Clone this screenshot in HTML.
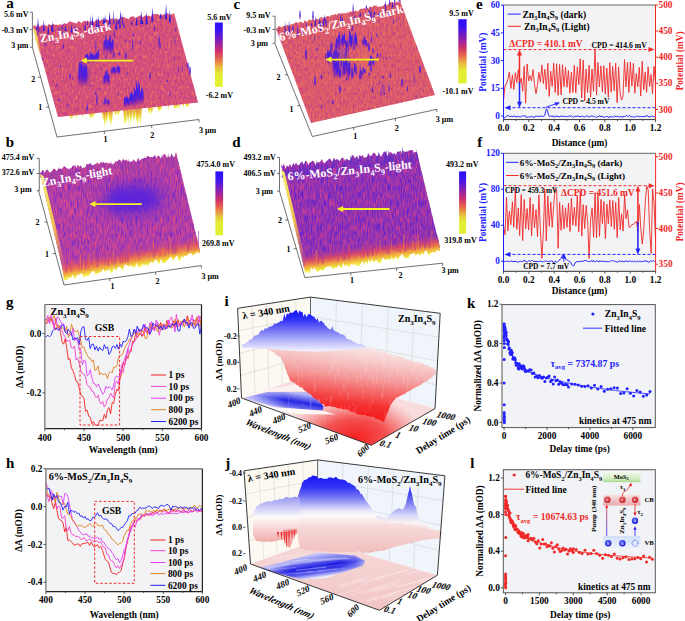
<!DOCTYPE html><html><head><meta charset="utf-8"><style>html,body{margin:0;padding:0;background:#fff;}svg{display:block;}</style></head><body>
<svg width="685" height="621" viewBox="0 0 685 621">
<defs>
<linearGradient id="cbar" x1="0" y1="0" x2="0" y2="1">
<stop offset="0" stop-color="#2a10ff"/><stop offset="0.12" stop-color="#3a14f0"/>
<stop offset="0.3" stop-color="#8a20b0"/><stop offset="0.45" stop-color="#d0306a"/>
<stop offset="0.58" stop-color="#e8704a"/><stop offset="0.7" stop-color="#e8c040"/>
<stop offset="0.8" stop-color="#e4ec34"/><stop offset="1" stop-color="#e0f030"/>
</linearGradient>
<linearGradient id="spikeB" x1="0" y1="0" x2="0" y2="1">
<stop offset="0" stop-color="#2a18ff"/><stop offset="0.6" stop-color="#5a20d0"/><stop offset="1" stop-color="#c03080" stop-opacity="0"/>
</linearGradient>
<linearGradient id="spikeY" x1="0" y1="0" x2="0" y2="1">
<stop offset="0" stop-color="#e06050" stop-opacity="0.6"/><stop offset="0.35" stop-color="#eab040"/><stop offset="0.7" stop-color="#e8e830"/><stop offset="1" stop-color="#e8f040"/>
</linearGradient>
<filter id="noise" color-interpolation-filters="sRGB" x="0" y="0" width="100%" height="100%">
<feTurbulence type="fractalNoise" baseFrequency="0.55 0.22" numOctaves="2" seed="3" result="t"/>
<feColorMatrix in="t" type="matrix" values="0 0 0 0 0.93  0 0 0 0 0.47  0 0 0 0 0.38  2.8 0 0 0 -1.3" result="c1"/>
<feTurbulence type="fractalNoise" baseFrequency="0.6 0.25" numOctaves="2" seed="9" result="t2"/>
<feColorMatrix in="t2" type="matrix" values="0 0 0 0 0.68  0 0 0 0 0.2  0 0 0 0 0.6  0 2.4 0 0 -1.2" result="c2"/>
<feMerge result="m"><feMergeNode in="c1"/><feMergeNode in="c2"/></feMerge>
<feGaussianBlur in="m" stdDeviation="0.5" result="mb"/>
<feComposite in="mb" in2="SourceGraphic" operator="in"/>
</filter>
<filter id="noiseB" color-interpolation-filters="sRGB" x="0" y="0" width="100%" height="100%">
<feTurbulence type="fractalNoise" baseFrequency="0.75 0.12" numOctaves="2" seed="5" result="t"/>
<feColorMatrix in="t" type="matrix" values="0 0 0 0 0.86  0 0 0 0 0.26  0 0 0 0 0.56  3.0 0 0 0 -1.35" result="c1"/>
<feTurbulence type="fractalNoise" baseFrequency="0.8 0.13" numOctaves="2" seed="11" result="t2"/>
<feColorMatrix in="t2" type="matrix" values="0 0 0 0 0.34  0 0 0 0 0.12  0 0 0 0 0.84  0 3.0 0 0 -1.4" result="c2"/>
<feMerge result="m"><feMergeNode in="c1"/><feMergeNode in="c2"/></feMerge>
<feGaussianBlur in="m" stdDeviation="0.35" result="mb"/>
<feComposite in="mb" in2="SourceGraphic" operator="in"/>
</filter>
<filter id="noiseC" color-interpolation-filters="sRGB" x="0" y="0" width="100%" height="100%">
<feTurbulence type="fractalNoise" baseFrequency="0.75 0.12" numOctaves="2" seed="5" result="t"/>
<feColorMatrix in="t" type="matrix" values="0 0 0 0 0.9  0 0 0 0 0.3  0 0 0 0 0.5  3.2 0 0 0 -1.4" result="c1"/>
<feTurbulence type="fractalNoise" baseFrequency="0.8 0.13" numOctaves="2" seed="11" result="t2"/>
<feColorMatrix in="t2" type="matrix" values="0 0 0 0 0.42  0 0 0 0 0.14  0 0 0 0 0.82  0 2.8 0 0 -1.35" result="c2"/>
<feMerge result="m"><feMergeNode in="c1"/><feMergeNode in="c2"/></feMerge>
<feGaussianBlur in="m" stdDeviation="0.35" result="mb"/>
<feComposite in="mb" in2="SourceGraphic" operator="in"/>
</filter>
<filter id="blur2" x="-100%" y="-100%" width="300%" height="300%"><feGaussianBlur stdDeviation="2"/></filter>
<filter id="blur4" x="-100%" y="-100%" width="300%" height="300%"><feGaussianBlur stdDeviation="5"/></filter>
<filter id="blur1" x="-100%" y="-100%" width="300%" height="300%"><feGaussianBlur stdDeviation="0.8"/></filter>
</defs>
<g>
<text x="6.2" y="8.3" font-size="15" fill="#000" text-anchor="start" font-family="Liberation Serif" font-weight="bold" >a</text>
<line x1="32.4" y1="12.2" x2="32.4" y2="47.3" stroke="#333" stroke-width="0.7"/>
<line x1="29.9" y1="12.2" x2="32.4" y2="12.2" stroke="#333" stroke-width="0.7"/>
<text x="28.5" y="16.9" font-size="8" fill="#000" text-anchor="end" font-family="Liberation Serif" font-weight="bold" >5.6 mV</text>
<line x1="29.9" y1="29.5" x2="32.4" y2="29.5" stroke="#333" stroke-width="0.7"/>
<text x="28.5" y="32.9" font-size="8" fill="#000" text-anchor="end" font-family="Liberation Serif" font-weight="bold" >-0.3 mV</text>
<line x1="29.9" y1="47.3" x2="32.4" y2="47.3" stroke="#333" stroke-width="0.7"/>
<text x="28.5" y="48.199999999999996" font-size="8" fill="#000" text-anchor="end" font-family="Liberation Serif" font-weight="bold" >3 µm</text>
<polyline points="32.4,47.3 57,137 199,119.5" fill="none" stroke="#333" stroke-width="0.7"/>
<text x="33.3" y="81.5" font-size="8" fill="#000" text-anchor="middle" font-family="Liberation Serif" font-weight="bold" >2</text>
<text x="40.3" y="110" font-size="8" fill="#000" text-anchor="middle" font-family="Liberation Serif" font-weight="bold" >1</text>
<text x="105.6" y="141.5" font-size="8" fill="#000" text-anchor="middle" font-family="Liberation Serif" font-weight="bold" >1</text>
<text x="152.3" y="137.5" font-size="8" fill="#000" text-anchor="middle" font-family="Liberation Serif" font-weight="bold" >2</text>
<text x="199" y="132.5" font-size="8" fill="#000" text-anchor="start" font-family="Liberation Serif" font-weight="bold" >3 µm</text>
<line x1="37.8" y1="77.2" x2="40.6" y2="77.2" stroke="#333" stroke-width="0.7"/>
<line x1="46.0" y1="107.1" x2="48.8" y2="107.1" stroke="#333" stroke-width="0.7"/>
<line x1="104.3" y1="131.2" x2="104.3" y2="134.0" stroke="#333" stroke-width="0.7"/>
<line x1="151.7" y1="125.3" x2="151.7" y2="128.1" stroke="#333" stroke-width="0.7"/>
<line x1="199.0" y1="119.5" x2="199.0" y2="122.3" stroke="#333" stroke-width="0.7"/>
<polygon points="103.0,109.2 104.3,123.7 105.6,109.2" fill="url(#spikeY)"/>
<polygon points="101.7,109.3 103.3,120.6 104.8,109.3" fill="url(#spikeY)"/>
<polygon points="102.1,109.3 103.7,120.5 105.3,109.3" fill="url(#spikeY)"/>
<polygon points="108.0,108.7 109.2,122.3 110.4,108.7" fill="url(#spikeY)"/>
<polygon points="108.7,108.7 109.6,121.5 110.5,108.7" fill="url(#spikeY)"/>
<polygon points="109.7,108.5 110.9,125.0 112.1,108.5" fill="url(#spikeY)"/>
<polygon points="109.6,108.5 111.2,123.9 112.8,108.5" fill="url(#spikeY)"/>
<polygon points="103.9,109.1 105.0,124.1 106.2,109.1" fill="url(#spikeY)"/>
<polygon points="105.5,109.0 106.5,124.4 107.5,109.0" fill="url(#spikeY)"/>
<polygon points="110.1,108.5 111.0,126.8 111.9,108.5" fill="url(#spikeY)"/>
<polygon points="106.8,108.9 107.7,121.6 108.5,108.9" fill="url(#spikeY)"/>
<polygon points="111.0,108.4 112.0,122.8 112.9,108.4" fill="url(#spikeY)"/>
<polygon points="108.2,108.6 109.7,120.8 111.3,108.6" fill="url(#spikeY)"/>
<polygon points="104.2,109.1 105.2,119.6 106.1,109.1" fill="url(#spikeY)"/>
<polygon points="104.9,109.0 106.5,123.3 108.0,109.0" fill="url(#spikeY)"/>
<polygon points="109.2,108.6 110.0,122.0 110.8,108.6" fill="url(#spikeY)"/>
<polygon points="103.4,109.2 104.6,128.0 105.8,109.2" fill="url(#spikeY)"/>
<polygon points="109.1,108.6 109.9,119.5 110.7,108.6" fill="url(#spikeY)"/>
<polygon points="137.3,105.7 138.4,122.8 139.4,105.7" fill="url(#spikeY)"/>
<polygon points="128.5,106.6 129.4,118.3 130.3,106.6" fill="url(#spikeY)"/>
<polygon points="123.2,107.1 124.4,125.5 125.6,107.1" fill="url(#spikeY)"/>
<polygon points="125.2,106.9 126.2,124.6 127.1,106.9" fill="url(#spikeY)"/>
<polygon points="123.5,107.1 125.1,123.3 126.6,107.1" fill="url(#spikeY)"/>
<polygon points="123.5,107.1 124.5,125.2 125.4,107.1" fill="url(#spikeY)"/>
<polygon points="124.5,107.0 125.6,117.8 126.6,107.0" fill="url(#spikeY)"/>
<polygon points="134.9,105.9 136.4,122.0 137.8,105.9" fill="url(#spikeY)"/>
<polygon points="126.7,106.8 127.7,120.5 128.7,106.8" fill="url(#spikeY)"/>
<polygon points="139.6,105.4 140.6,126.4 141.7,105.4" fill="url(#spikeY)"/>
<polygon points="130.0,106.4 131.4,120.4 132.8,106.4" fill="url(#spikeY)"/>
<polygon points="123.6,107.1 124.7,118.3 125.8,107.1" fill="url(#spikeY)"/>
<polygon points="126.8,106.7 128.2,125.5 129.6,106.7" fill="url(#spikeY)"/>
<polygon points="131.9,106.2 133.3,123.7 134.6,106.2" fill="url(#spikeY)"/>
<polygon points="136.4,105.8 137.3,126.3 138.2,105.8" fill="url(#spikeY)"/>
<polygon points="133.5,106.1 134.6,118.6 135.8,106.1" fill="url(#spikeY)"/>
<polygon points="136.0,105.8 137.4,125.9 138.8,105.8" fill="url(#spikeY)"/>
<polygon points="123.7,107.1 124.6,121.0 125.5,107.1" fill="url(#spikeY)"/>
<polygon points="140.0,105.4 141.0,118.2 142.0,105.4" fill="url(#spikeY)"/>
<polygon points="128.6,106.5 130.1,118.0 131.6,106.5" fill="url(#spikeY)"/>
<polygon points="133.6,106.0 134.8,118.7 136.0,106.0" fill="url(#spikeY)"/>
<polygon points="124.4,107.0 125.3,123.4 126.3,107.0" fill="url(#spikeY)"/>
<polygon points="123.4,107.1 124.7,118.8 125.9,107.1" fill="url(#spikeY)"/>
<polygon points="133.5,106.0 134.8,120.3 136.1,106.0" fill="url(#spikeY)"/>
<polygon points="128.9,106.5 130.0,118.7 131.0,106.5" fill="url(#spikeY)"/>
<polygon points="129.8,106.5 130.7,126.2 131.6,106.5" fill="url(#spikeY)"/>
<polygon points="123.9,107.0 125.5,122.9 127.0,107.0" fill="url(#spikeY)"/>
<polygon points="138.6,105.6 139.4,124.0 140.3,105.6" fill="url(#spikeY)"/>
<polygon points="151.1,104.3 152.0,114.5 152.9,104.3" fill="url(#spikeY)"/>
<polygon points="148.9,104.4 150.3,111.5 151.8,104.4" fill="url(#spikeY)"/>
<polygon points="150.2,104.3 151.6,115.1 153.0,104.3" fill="url(#spikeY)"/>
<polygon points="148.3,104.5 149.3,115.0 150.3,104.5" fill="url(#spikeY)"/>
<polygon points="147.5,104.6 148.7,113.2 149.9,104.6" fill="url(#spikeY)"/>
<polygon points="148.1,104.5 149.4,114.2 150.7,104.5" fill="url(#spikeY)"/>
<polygon points="157.9,103.5 159.0,112.5 160.0,103.5" fill="url(#spikeY)"/>
<polygon points="159.5,103.3 160.9,111.0 162.4,103.3" fill="url(#spikeY)"/>
<polygon points="158.3,103.5 159.7,112.1 161.0,103.5" fill="url(#spikeY)"/>
<polygon points="158.5,103.4 160.1,110.9 161.7,103.4" fill="url(#spikeY)"/>
<polygon points="157.1,103.6 158.4,111.3 159.6,103.6" fill="url(#spikeY)"/>
<polygon points="156.7,103.6 158.1,110.6 159.6,103.6" fill="url(#spikeY)"/>
<polygon points="175.6,101.7 177.1,108.9 178.7,101.7" fill="url(#spikeY)"/>
<polygon points="175.7,101.7 177.0,107.9 178.3,101.7" fill="url(#spikeY)"/>
<polygon points="174.3,101.8 175.4,109.3 176.5,101.8" fill="url(#spikeY)"/>
<polygon points="173.3,101.9 174.6,109.7 176.0,101.9" fill="url(#spikeY)"/>
<polygon points="175.6,101.7 177.0,108.7 178.4,101.7" fill="url(#spikeY)"/>
<polygon points="174.9,101.8 175.8,108.8 176.6,101.8" fill="url(#spikeY)"/>
<polygon points="186.3,100.6 187.7,107.5 189.0,100.6" fill="url(#spikeY)"/>
<polygon points="186.9,100.5 188.4,106.8 189.9,100.5" fill="url(#spikeY)"/>
<polygon points="185.2,100.7 186.3,107.7 187.4,100.7" fill="url(#spikeY)"/>
<polygon points="185.1,100.7 186.3,107.1 187.4,100.7" fill="url(#spikeY)"/>
<polygon points="91.2,110.5 92.1,119.5 93.1,110.5" fill="url(#spikeY)"/>
<polygon points="91.9,110.4 93.1,117.9 94.3,110.4" fill="url(#spikeY)"/>
<polygon points="91.3,110.4 92.5,116.9 93.7,110.4" fill="url(#spikeY)"/>
<polygon points="93.5,110.2 94.3,116.9 95.1,110.2" fill="url(#spikeY)"/>
<polygon points="88.8,110.7 90.3,118.1 91.9,110.7" fill="url(#spikeY)"/>
<polygon points="89.0,110.7 90.2,120.0 91.5,110.7" fill="url(#spikeY)"/>
<polygon points="69.5,112.7 70.5,118.6 71.4,112.7" fill="url(#spikeY)"/>
<polygon points="71.8,112.5 72.9,118.9 73.9,112.5" fill="url(#spikeY)"/>
<polygon points="69.6,112.7 71.0,119.7 72.4,112.7" fill="url(#spikeY)"/>
<polygon points="70.4,112.6 71.7,118.6 73.1,112.6" fill="url(#spikeY)"/>
<polygon points="118.0,107.7 118.9,114.3 119.8,107.7" fill="url(#spikeY)"/>
<polygon points="115.6,107.9 116.4,116.1 117.3,107.9" fill="url(#spikeY)"/>
<polygon points="114.1,108.1 115.2,115.0 116.3,108.1" fill="url(#spikeY)"/>
<polygon points="117.1,107.8 118.0,116.5 118.8,107.8" fill="url(#spikeY)"/>
<polygon points="113.7,108.1 115.2,115.9 116.7,108.1" fill="url(#spikeY)"/>
<polygon points="117.2,107.7 118.7,115.5 120.2,107.7" fill="url(#spikeY)"/>
<polygon points="181.8,102.1 182.6,106.7 183.4,102.1" fill="url(#spikeY)"/>
<polygon points="160.0,104.4 160.8,108.8 161.6,104.4" fill="url(#spikeY)"/>
<polygon points="89.5,111.7 90.3,117.0 91.1,111.7" fill="url(#spikeY)"/>
<polygon points="81.5,112.5 82.3,118.1 83.1,112.5" fill="url(#spikeY)"/>
<polygon points="167.5,103.6 168.3,110.2 169.1,103.6" fill="url(#spikeY)"/>
<polygon points="124.5,108.0 125.3,111.5 126.1,108.0" fill="url(#spikeY)"/>
<polygon points="178.6,102.4 179.4,108.9 180.2,102.4" fill="url(#spikeY)"/>
<polygon points="186.3,101.6 187.1,107.0 187.9,101.6" fill="url(#spikeY)"/>
<polygon points="151.3,105.3 152.1,109.7 152.9,105.3" fill="url(#spikeY)"/>
<polygon points="93.0,111.3 93.8,115.5 94.6,111.3" fill="url(#spikeY)"/>
<polygon points="157.0,104.7 157.8,109.0 158.6,104.7" fill="url(#spikeY)"/>
<polygon points="153.5,105.0 154.3,110.0 155.1,105.0" fill="url(#spikeY)"/>
<polygon points="124.6,108.0 125.4,114.9 126.2,108.0" fill="url(#spikeY)"/>
<polygon points="91.0,111.5 91.8,116.5 92.6,111.5" fill="url(#spikeY)"/>
<polygon points="90.2,111.6 91.0,118.3 91.8,111.6" fill="url(#spikeY)"/>
<polygon points="129.3,107.5 130.1,111.9 130.9,107.5" fill="url(#spikeY)"/>
<polygon points="91.2,111.5 92.0,116.9 92.8,111.5" fill="url(#spikeY)"/>
<polygon points="118.7,108.6 119.5,112.1 120.3,108.6" fill="url(#spikeY)"/>
<polygon points="75.1,113.2 75.9,117.7 76.7,113.2" fill="url(#spikeY)"/>
<polygon points="140.6,106.4 141.4,111.4 142.2,106.4" fill="url(#spikeY)"/>
<polygon points="178.3,102.5 179.1,109.1 179.9,102.5" fill="url(#spikeY)"/>
<polygon points="182.6,102.0 183.4,108.2 184.2,102.0" fill="url(#spikeY)"/>
<polygon points="128.0,107.7 128.8,112.8 129.6,107.7" fill="url(#spikeY)"/>
<polygon points="118.5,108.7 119.3,113.3 120.1,108.7" fill="url(#spikeY)"/>
<polygon points="76.1,113.0 76.9,119.2 77.7,113.0" fill="url(#spikeY)"/>
<polygon points="33.0,30.0 37.0,31.0 45.0,50.0 40.0,50.0" fill="#f0f080" opacity="0.8"/>
<polygon points="33.0,26.5 34.6,25.0 36.1,27.3 37.7,24.7 39.3,26.5 40.8,26.0 42.4,24.7 44.0,25.8 45.5,25.2 47.1,26.6 48.7,24.3 50.2,24.8 51.8,25.3 53.4,23.8 54.9,25.1 56.5,24.5 58.1,25.3 59.6,24.3 61.2,24.8 62.8,24.5 64.3,22.9 65.9,24.1 67.5,23.4 69.0,21.7 70.6,21.6 72.2,22.2 73.7,22.6 75.3,23.3 76.9,23.5 78.4,20.9 80.0,22.1 81.6,23.2 83.1,21.5 84.7,20.9 86.3,21.2 87.8,20.2 89.4,22.7 91.0,21.1 92.5,21.1 94.1,22.2 95.7,20.3 97.2,19.5 98.8,20.2 100.4,21.0 101.9,19.1 103.5,20.0 105.1,19.8 106.6,19.0 108.2,20.6 109.8,18.5 111.3,18.7 112.9,18.3 114.5,19.9 116.0,17.9 117.6,19.6 119.2,19.8 120.7,17.3 122.3,17.2 123.9,17.0 125.4,18.1 127.0,18.5 128.6,19.2 130.1,17.1 131.7,16.7 133.3,16.2 134.8,17.8 136.4,17.8 138.0,16.4 139.5,15.8 141.1,15.1 142.7,17.4 144.2,16.3 145.8,14.9 147.4,16.2 148.9,15.5 150.5,17.1 152.1,15.0 153.6,14.1 155.2,14.3 156.8,13.9 158.3,14.5 159.9,15.6 161.5,13.9 163.0,15.4 164.6,13.4 166.2,15.5 167.7,13.1 169.3,14.9 170.9,14.2 172.4,14.2 174.0,12.9 198.0,102.5 58.0,117.0" fill="#d64e7a" />
<polygon points="33.0,26.5 34.6,25.0 36.1,27.3 37.7,24.7 39.3,26.5 40.8,26.0 42.4,24.7 44.0,25.8 45.5,25.2 47.1,26.6 48.7,24.3 50.2,24.8 51.8,25.3 53.4,23.8 54.9,25.1 56.5,24.5 58.1,25.3 59.6,24.3 61.2,24.8 62.8,24.5 64.3,22.9 65.9,24.1 67.5,23.4 69.0,21.7 70.6,21.6 72.2,22.2 73.7,22.6 75.3,23.3 76.9,23.5 78.4,20.9 80.0,22.1 81.6,23.2 83.1,21.5 84.7,20.9 86.3,21.2 87.8,20.2 89.4,22.7 91.0,21.1 92.5,21.1 94.1,22.2 95.7,20.3 97.2,19.5 98.8,20.2 100.4,21.0 101.9,19.1 103.5,20.0 105.1,19.8 106.6,19.0 108.2,20.6 109.8,18.5 111.3,18.7 112.9,18.3 114.5,19.9 116.0,17.9 117.6,19.6 119.2,19.8 120.7,17.3 122.3,17.2 123.9,17.0 125.4,18.1 127.0,18.5 128.6,19.2 130.1,17.1 131.7,16.7 133.3,16.2 134.8,17.8 136.4,17.8 138.0,16.4 139.5,15.8 141.1,15.1 142.7,17.4 144.2,16.3 145.8,14.9 147.4,16.2 148.9,15.5 150.5,17.1 152.1,15.0 153.6,14.1 155.2,14.3 156.8,13.9 158.3,14.5 159.9,15.6 161.5,13.9 163.0,15.4 164.6,13.4 166.2,15.5 167.7,13.1 169.3,14.9 170.9,14.2 172.4,14.2 174.0,12.9 198.0,102.5 58.0,117.0" fill="#fff" filter="url(#noise)" opacity="0.9"/>
<ellipse cx="84" cy="75" rx="4" ry="9" fill="#3018e8" opacity="0.7" filter="url(#blur2)"/>
<ellipse cx="137" cy="98" rx="5" ry="5" fill="#3018e8" opacity="0.6" filter="url(#blur2)"/>
<ellipse cx="109" cy="46" rx="2" ry="5" fill="#3018e8" opacity="0.5" filter="url(#blur2)"/>
<polygon points="58.3,30.5 59.0,26.5 59.6,30.5" fill="#3018e0"/>
<polygon points="91.8,25.3 92.6,16.5 93.4,25.3" fill="#3018e0"/>
<polygon points="135.4,25.2 136.5,18.9 137.6,25.2" fill="#3018e0"/>
<polygon points="122.8,27.5 123.7,22.1 124.6,27.5" fill="#3018e0"/>
<polygon points="62.0,34.5 62.7,29.8 63.3,34.5" fill="#3018e0"/>
<polygon points="42.8,30.9 43.8,19.9 44.8,30.9" fill="#3018e0"/>
<polygon points="50.9,31.0 51.9,24.9 52.9,31.0" fill="#3018e0"/>
<polygon points="97.4,28.2 98.4,15.8 99.4,28.2" fill="#3018e0"/>
<polygon points="84.8,28.4 85.3,22.8 85.9,28.4" fill="#3018e0"/>
<polygon points="61.5,29.4 62.2,24.2 62.9,29.4" fill="#3018e0"/>
<polygon points="115.2,29.4 116.2,18.2 117.3,29.4" fill="#3018e0"/>
<polygon points="140.2,24.3 141.2,10.2 142.2,24.3" fill="#3018e0"/>
<polygon points="103.1,24.0 103.7,17.2 104.4,24.0" fill="#3018e0"/>
<polygon points="52.0,31.9 52.7,20.5 53.4,31.9" fill="#3018e0"/>
<polygon points="141.2,23.7 142.4,19.4 143.6,23.7" fill="#3018e0"/>
<polygon points="89.6,26.9 90.2,14.3 90.8,26.9" fill="#3018e0"/>
<polygon points="136.1,21.8 136.8,15.9 137.5,21.8" fill="#3018e0"/>
<polygon points="151.4,21.8 152.4,6.4 153.3,21.8" fill="#3018e0"/>
<polygon points="131.0,24.7 131.8,19.5 132.6,24.7" fill="#3018e0"/>
<polygon points="165.0,19.2 166.1,3.5 167.1,19.2" fill="#3018e0"/>
<polygon points="84.2,29.9 85.0,24.1 85.8,29.9" fill="#3018e0"/>
<polygon points="102.9,23.6 104.1,16.6 105.2,23.6" fill="#3018e0"/>
<polygon points="74.1,31.6 74.7,25.2 75.4,31.6" fill="#3018e0"/>
<polygon points="159.4,18.4 160.6,13.2 161.8,18.4" fill="#3018e0"/>
<polygon points="70.6,32.6 71.6,24.2 72.7,32.6" fill="#3018e0"/>
<polygon points="122.1,24.4 122.6,13.4 123.1,24.4" fill="#3018e0"/>
<polygon points="96.1,26.8 96.7,20.1 97.3,26.8" fill="#3018e0"/>
<polygon points="64.4,31.1 65.5,25.3 66.5,31.1" fill="#3018e0"/>
<polygon points="119.1,28.2 120.0,17.8 120.9,28.2" fill="#3018e0"/>
<polygon points="74.5,31.8 75.1,27.0 75.7,31.8" fill="#3018e0"/>
<polygon points="168.9,21.3 169.8,10.1 170.7,21.3" fill="#3018e0"/>
<polygon points="118.3,22.3 119.3,17.9 120.3,22.3" fill="#3018e0"/>
<polygon points="113.2,23.7 113.8,8.8 114.4,23.7" fill="#3018e0"/>
<polygon points="104.5,24.4 105.2,14.2 105.9,24.4" fill="#3018e0"/>
<polygon points="51.4,28.6 52.0,24.2 52.6,28.6" fill="#3018e0"/>
<polygon points="108.4,26.2 109.6,11.2 110.8,26.2" fill="#3018e0"/>
<polygon points="145.5,24.4 146.6,11.8 147.8,24.4" fill="#3018e0"/>
<polygon points="35.9,30.5 36.4,25.0 37.0,30.5" fill="#3018e0"/>
<polygon points="117.3,24.0 118.0,19.2 118.7,24.0" fill="#3018e0"/>
<polygon points="47.3,34.0 48.3,24.9 49.2,34.0" fill="#3018e0"/>
<polygon points="38.0,32.6 38.7,23.0 39.3,32.6" fill="#3018e0"/>
<polygon points="86.8,25.1 87.4,21.0 88.1,25.1" fill="#3018e0"/>
<polygon points="91.7,27.9 92.4,14.5 93.1,27.9" fill="#3018e0"/>
<polygon points="37.1,35.6 37.7,31.6 38.2,35.6" fill="#3018e0"/>
<polygon points="169.7,22.8 170.3,17.4 170.8,22.8" fill="#3018e0"/>
<polygon points="78.1,86.7 78.7,66.6 79.4,61.6 80.0,66.6 80.6,86.7" fill="url(#spikeB)"/>
<polygon points="78.5,87.7 79.1,66.8 79.6,61.6 80.2,66.8 80.8,87.7" fill="url(#spikeB)"/>
<polygon points="79.7,86.1 80.3,65.8 81.0,60.8 81.6,65.8 82.3,86.1" fill="url(#spikeB)"/>
<polygon points="80.1,85.6 80.8,64.5 81.4,59.2 82.0,64.5 82.6,85.6" fill="url(#spikeB)"/>
<polygon points="81.0,86.1 81.6,67.1 82.1,62.4 82.7,67.1 83.2,86.1" fill="url(#spikeB)"/>
<polygon points="82.0,85.9 82.5,72.3 83.0,68.8 83.5,72.3 84.1,85.9" fill="url(#spikeB)"/>
<polygon points="82.9,86.7 83.5,67.6 84.1,62.8 84.7,67.6 85.3,86.7" fill="url(#spikeB)"/>
<polygon points="83.7,86.6 84.4,71.2 85.0,67.4 85.6,71.2 86.2,86.6" fill="url(#spikeB)"/>
<polygon points="84.6,86.3 85.2,69.8 85.8,65.7 86.4,69.8 86.9,86.3" fill="url(#spikeB)"/>
<polygon points="85.1,86.4 85.6,66.9 86.2,62.0 86.8,66.9 87.4,86.4" fill="url(#spikeB)"/>
<polygon points="84.9,63.2 85.5,55.2 86.0,53.2 86.5,55.2 87.0,63.2" fill="url(#spikeB)"/>
<polygon points="85.3,63.0 85.9,56.2 86.6,54.5 87.2,56.2 87.9,63.0" fill="url(#spikeB)"/>
<polygon points="86.1,63.9 86.8,55.5 87.5,53.4 88.3,55.5 89.0,63.9" fill="url(#spikeB)"/>
<polygon points="87.4,64.1 88.0,58.0 88.7,56.5 89.3,58.0 90.0,64.1" fill="url(#spikeB)"/>
<polygon points="89.0,62.6 89.5,52.9 90.0,50.5 90.5,52.9 91.0,62.6" fill="url(#spikeB)"/>
<polygon points="89.7,62.4 90.1,56.1 90.6,54.6 91.1,56.1 91.6,62.4" fill="url(#spikeB)"/>
<polygon points="90.4,63.8 91.1,55.1 91.7,52.9 92.4,55.1 93.0,63.8" fill="url(#spikeB)"/>
<polygon points="90.7,63.1 91.4,55.2 92.1,53.2 92.9,55.2 93.6,63.1" fill="url(#spikeB)"/>
<polygon points="91.7,63.4 92.4,56.0 93.2,54.1 93.9,56.0 94.6,63.4" fill="url(#spikeB)"/>
<polygon points="93.0,63.8 93.7,56.9 94.4,55.1 95.1,56.9 95.8,63.8" fill="url(#spikeB)"/>
<polygon points="94.0,62.7 94.5,54.5 95.0,52.5 95.5,54.5 95.9,62.7" fill="url(#spikeB)"/>
<polygon points="94.9,62.7 95.5,56.3 96.2,54.7 96.9,56.3 97.5,62.7" fill="url(#spikeB)"/>
<polygon points="95.3,62.1 95.9,53.5 96.5,51.3 97.1,53.5 97.7,62.1" fill="url(#spikeB)"/>
<polygon points="96.2,62.5 96.8,55.0 97.4,53.2 97.9,55.0 98.5,62.5" fill="url(#spikeB)"/>
<polygon points="97.1,61.5 97.7,51.5 98.3,49.0 99.0,51.5 99.6,61.5" fill="url(#spikeB)"/>
<polygon points="103.1,53.6 103.6,42.3 104.1,39.4 104.6,42.3 105.1,53.6" fill="url(#spikeB)"/>
<polygon points="104.0,52.8 104.5,41.4 105.0,38.5 105.5,41.4 105.9,52.8" fill="url(#spikeB)"/>
<polygon points="104.6,52.1 105.2,37.7 105.7,34.1 106.3,37.7 106.9,52.1" fill="url(#spikeB)"/>
<polygon points="105.8,53.2 106.3,41.5 106.9,38.6 107.4,41.5 108.0,53.2" fill="url(#spikeB)"/>
<polygon points="106.2,53.3 106.7,43.7 107.2,41.3 107.7,43.7 108.3,53.3" fill="url(#spikeB)"/>
<polygon points="107.6,52.8 108.2,41.6 108.9,38.8 109.5,41.6 110.2,52.8" fill="url(#spikeB)"/>
<polygon points="107.9,52.7 108.6,41.9 109.2,39.2 109.9,41.9 110.5,52.7" fill="url(#spikeB)"/>
<polygon points="108.7,52.8 109.3,37.8 110.0,34.0 110.6,37.8 111.2,52.8" fill="url(#spikeB)"/>
<polygon points="109.7,52.6 110.5,43.4 111.2,41.2 111.9,43.4 112.6,52.6" fill="url(#spikeB)"/>
<polygon points="111.2,54.0 111.8,42.1 112.4,39.1 113.1,42.1 113.7,54.0" fill="url(#spikeB)"/>
<polygon points="111.8,53.7 112.3,41.2 112.8,38.0 113.4,41.2 113.9,53.7" fill="url(#spikeB)"/>
<polygon points="123.5,107.7 124.2,99.0 124.8,96.8 125.5,99.0 126.2,107.7" fill="url(#spikeB)"/>
<polygon points="124.2,108.7 124.9,99.6 125.6,97.3 126.3,99.6 127.0,108.7" fill="url(#spikeB)"/>
<polygon points="125.1,106.9 125.8,97.8 126.6,95.5 127.3,97.8 128.0,106.9" fill="url(#spikeB)"/>
<polygon points="126.2,106.7 126.9,99.1 127.6,97.2 128.3,99.1 129.0,106.7" fill="url(#spikeB)"/>
<polygon points="127.7,106.7 128.3,99.7 128.9,97.9 129.5,99.7 130.1,106.7" fill="url(#spikeB)"/>
<polygon points="128.3,107.8 128.8,98.9 129.4,96.7 129.9,98.9 130.4,107.8" fill="url(#spikeB)"/>
<polygon points="128.9,106.4 129.6,95.7 130.3,93.0 131.1,95.7 131.8,106.4" fill="url(#spikeB)"/>
<polygon points="130.3,106.2 130.8,93.9 131.4,90.9 131.9,93.9 132.5,106.2" fill="url(#spikeB)"/>
<polygon points="130.5,105.9 131.2,94.8 131.9,92.0 132.6,94.8 133.3,105.9" fill="url(#spikeB)"/>
<polygon points="131.5,106.9 132.2,96.5 132.9,93.9 133.6,96.5 134.3,106.9" fill="url(#spikeB)"/>
<polygon points="133.1,105.4 133.6,94.0 134.2,91.2 134.7,94.0 135.2,105.4" fill="url(#spikeB)"/>
<polygon points="133.4,106.3 134.0,90.5 134.6,86.5 135.3,90.5 135.9,106.3" fill="url(#spikeB)"/>
<polygon points="134.3,106.8 135.0,93.1 135.6,89.7 136.3,93.1 136.9,106.8" fill="url(#spikeB)"/>
<polygon points="135.5,106.6 136.1,85.1 136.7,79.7 137.3,85.1 137.9,106.6" fill="url(#spikeB)"/>
<polygon points="136.2,105.2 136.9,90.6 137.6,86.9 138.2,90.6 138.9,105.2" fill="url(#spikeB)"/>
<polygon points="137.8,105.3 138.3,85.0 138.8,79.9 139.3,85.0 139.9,105.3" fill="url(#spikeB)"/>
<polygon points="138.0,106.0 138.6,87.1 139.2,82.4 139.8,87.1 140.4,106.0" fill="url(#spikeB)"/>
<polygon points="139.2,104.6 139.8,93.8 140.3,91.1 140.9,93.8 141.5,104.6" fill="url(#spikeB)"/>
<polygon points="140.6,104.8 141.1,90.1 141.6,86.4 142.1,90.1 142.6,104.8" fill="url(#spikeB)"/>
<polygon points="141.2,104.8 141.7,90.6 142.3,87.1 142.8,90.6 143.4,104.8" fill="url(#spikeB)"/>
<polygon points="142.0,103.9 142.5,92.4 143.0,89.6 143.4,92.4 143.9,103.9" fill="url(#spikeB)"/>
<polygon points="103.1,85.7 103.6,76.6 104.2,74.3 104.7,76.6 105.3,85.7" fill="url(#spikeB)"/>
<polygon points="103.4,85.8 104.2,77.1 104.9,75.0 105.6,77.1 106.3,85.8" fill="url(#spikeB)"/>
<polygon points="104.7,84.1 105.2,72.1 105.7,69.0 106.1,72.1 106.6,84.1" fill="url(#spikeB)"/>
<polygon points="105.7,85.0 106.4,72.6 107.1,69.5 107.7,72.6 108.4,85.0" fill="url(#spikeB)"/>
<polygon points="106.9,85.4 107.7,75.8 108.4,73.4 109.1,75.8 109.8,85.4" fill="url(#spikeB)"/>
<polygon points="107.7,85.4 108.2,77.0 108.7,74.9 109.2,77.0 109.7,85.4" fill="url(#spikeB)"/>
<polygon points="110.8,75.0 111.3,69.4 111.9,68.0 112.5,69.4 113.1,75.0" fill="url(#spikeB)"/>
<polygon points="111.9,74.6 112.5,67.7 113.2,66.0 113.9,67.7 114.6,74.6" fill="url(#spikeB)"/>
<polygon points="113.1,74.6 113.6,68.2 114.2,66.6 114.7,68.2 115.2,74.6" fill="url(#spikeB)"/>
<polygon points="114.1,75.9 114.7,68.7 115.2,66.9 115.8,68.7 116.3,75.9" fill="url(#spikeB)"/>
<polygon points="116.2,74.0 116.6,68.3 117.1,66.8 117.6,68.3 118.0,74.0" fill="url(#spikeB)"/>
<polygon points="116.3,74.0 117.0,66.4 117.6,64.5 118.3,66.4 119.0,74.0" fill="url(#spikeB)"/>
<polygon points="117.6,75.9 118.3,67.7 119.1,65.7 119.8,67.7 120.6,75.9" fill="url(#spikeB)"/>
<polygon points="103.2,106.0 103.7,101.1 104.2,99.8 104.7,101.1 105.2,106.0" fill="url(#spikeB)"/>
<polygon points="104.4,105.3 104.9,98.4 105.4,96.7 105.8,98.4 106.3,105.3" fill="url(#spikeB)"/>
<polygon points="106.1,105.7 106.6,99.7 107.0,98.2 107.5,99.7 108.0,105.7" fill="url(#spikeB)"/>
<polygon points="107.5,106.5 108.1,100.7 108.7,99.3 109.2,100.7 109.8,106.5" fill="url(#spikeB)"/>
<polygon points="188.8,76.0 189.4,68.0 190.0,66.0 190.6,68.0 191.2,76.0" fill="url(#spikeB)"/>
<polygon points="187.0,70.0 187.5,63.6 188.0,62.0 188.5,63.6 189.0,70.0" fill="url(#spikeB)"/>
<polygon points="124.8,60.0 125.4,53.6 126.0,52.0 126.6,53.6 127.2,60.0" fill="url(#spikeB)"/>
<polygon points="149.0,80.0 149.5,73.6 150.0,72.0 150.5,73.6 151.0,80.0" fill="url(#spikeB)"/>
<polygon points="69.0,80.0 69.5,74.4 70.0,73.0 70.5,74.4 71.0,80.0" fill="url(#spikeB)"/>
<polygon points="159.0,50.0 159.5,43.6 160.0,42.0 160.5,43.6 161.0,50.0" fill="url(#spikeB)"/>
<polygon points="94.9,53.0 95.9,39.3 96.9,53.0" fill="url(#spikeB)"/>
<polygon points="67.0,109.3 67.7,100.9 68.4,109.3" fill="url(#spikeB)"/>
<polygon points="59.4,67.9 60.6,64.8 61.7,67.9" fill="url(#spikeB)"/>
<polygon points="119.4,22.8 120.7,10.7 122.0,22.8" fill="url(#spikeB)"/>
<polygon points="177.5,74.8 178.2,65.1 178.9,74.8" fill="url(#spikeB)"/>
<polygon points="36.8,33.5 38.0,17.5 39.2,33.5" fill="url(#spikeB)"/>
<polygon points="174.3,46.3 174.9,35.3 175.6,46.3" fill="url(#spikeB)"/>
<polygon points="62.2,50.4 63.3,43.2 64.4,50.4" fill="url(#spikeB)"/>
<polygon points="112.3,59.0 113.8,51.3 115.2,59.0" fill="url(#spikeB)"/>
<polygon points="117.2,96.0 118.1,93.0 119.1,96.0" fill="url(#spikeB)"/>
<polygon points="126.2,75.4 127.2,71.5 128.1,75.4" fill="url(#spikeB)"/>
<polygon points="181.5,72.5 182.1,64.7 182.8,72.5" fill="url(#spikeB)"/>
<polygon points="44.1,46.1 45.6,42.9 47.1,46.1" fill="url(#spikeB)"/>
<polygon points="41.4,60.5 42.5,57.5 43.7,60.5" fill="url(#spikeB)"/>
<polygon points="40.4,33.5 41.3,30.4 42.1,33.5" fill="url(#spikeB)"/>
<polygon points="133.1,91.5 133.9,87.5 134.8,91.5" fill="url(#spikeB)"/>
<polygon points="166.0,82.7 167.3,79.5 168.6,82.7" fill="url(#spikeB)"/>
<polygon points="153.7,32.8 154.5,24.3 155.3,32.8" fill="url(#spikeB)"/>
<polygon points="78.5,68.6 79.6,61.8 80.6,68.6" fill="url(#spikeB)"/>
<polygon points="113.7,39.8 114.5,28.3 115.4,39.8" fill="url(#spikeB)"/>
<polygon points="173.3,61.3 174.1,57.0 174.9,61.3" fill="url(#spikeB)"/>
<polygon points="109.6,54.9 110.6,46.5 111.7,54.9" fill="url(#spikeB)"/>
<polygon points="57.7,101.6 59.0,98.6 60.4,101.6" fill="url(#spikeB)"/>
<polygon points="169.2,98.5 169.9,89.4 170.7,98.5" fill="url(#spikeB)"/>
<polygon points="105.2,61.1 106.1,52.5 107.0,61.1" fill="url(#spikeB)"/>
<polygon points="132.1,37.2 133.2,32.4 134.3,37.2" fill="url(#spikeB)"/>
<polygon points="95.1,33.3 96.3,17.2 97.5,33.3" fill="url(#spikeB)"/>
<polygon points="157.8,48.5 159.1,33.0 160.4,48.5" fill="url(#spikeB)"/>
<polygon points="174.9,32.5 175.9,26.4 176.8,32.5" fill="url(#spikeB)"/>
<polygon points="124.6,42.1 125.7,38.9 126.7,42.1" fill="url(#spikeB)"/>
<polygon points="131.6,53.5 132.5,36.8 133.5,53.5" fill="url(#spikeB)"/>
<polygon points="94.5,96.2 95.4,90.1 96.2,96.2" fill="url(#spikeB)"/>
<polygon points="95.6,108.2 96.8,92.2 98.0,108.2" fill="url(#spikeB)"/>
<polygon points="89.0,87.4 89.9,83.7 90.8,87.4" fill="url(#spikeB)"/>
<polygon points="117.7,56.3 119.2,51.6 120.7,56.3" fill="url(#spikeB)"/>
<polygon points="71.6,80.3 72.2,77.2 72.9,80.3" fill="url(#spikeB)"/>
<polygon points="85.8,113.2 87.2,102.8 88.6,113.2" fill="url(#spikeB)"/>
<polygon points="56.0,88.0 57.0,82.2 58.0,88.0" fill="url(#spikeB)"/>
<polygon points="139.5,45.9 140.4,39.2 141.2,45.9" fill="url(#spikeB)"/>
<polygon points="100.5,70.1 101.3,66.7 102.2,70.1" fill="url(#spikeB)"/>
<polygon points="33.0,29.0 35.8,29.6 42.5,54.0 39.6,54.0" fill="url(#lfy)" opacity="0.9"/>
<text x="40.5" y="42.5" font-size="11.8" fill="#fff" text-anchor="start" font-family="Liberation Serif" font-weight="bold" transform="rotate(-10 40.5 42.5)"><tspan dy="0.00">Zn</tspan><tspan dy="3.30" font-size="8.02">3</tspan><tspan dy="-3.30">In</tspan><tspan dy="3.30" font-size="8.02">4</tspan><tspan dy="-3.30">S</tspan><tspan dy="3.30" font-size="8.02">9</tspan><tspan dy="-3.30">-dark</tspan></text>
<line x1="133" y1="60.6" x2="84.6" y2="60.6" stroke="#f4f224" stroke-width="1.9"/>
<polygon points="80.6,60.6 86.8,57.6 86.8,63.6" fill="#f4f224"/>
<rect x="214.9" y="22.5" width="7.900000000000006" height="64.3" fill="url(#cbar)"/>
<text x="219.4" y="19.5" font-size="8" fill="#000" text-anchor="middle" font-family="Liberation Serif" font-weight="bold" >5.6 mV</text>
<text x="219.4" y="97.5" font-size="8" fill="#000" text-anchor="middle" font-family="Liberation Serif" font-weight="bold" >-6.2 mV</text>
</g>
<g>
<text x="5.7" y="147.3" font-size="15" fill="#000" text-anchor="start" font-family="Liberation Serif" font-weight="bold" >b</text>
<line x1="39.3" y1="158.3" x2="39.3" y2="190.7" stroke="#333" stroke-width="0.7"/>
<line x1="36.7" y1="158.3" x2="39.3" y2="158.3" stroke="#333" stroke-width="0.7"/>
<line x1="36.7" y1="173.5" x2="39.3" y2="173.5" stroke="#333" stroke-width="0.7"/>
<line x1="36.7" y1="190.7" x2="39.3" y2="190.7" stroke="#333" stroke-width="0.7"/>
<text x="34.2" y="159.6" font-size="8" fill="#000" text-anchor="end" font-family="Liberation Serif" font-weight="bold" >475.4 mV</text>
<text x="34.2" y="175" font-size="8" fill="#000" text-anchor="end" font-family="Liberation Serif" font-weight="bold" >372.6 mV</text>
<text x="31.6" y="192" font-size="8" fill="#000" text-anchor="end" font-family="Liberation Serif" font-weight="bold" >3 µm</text>
<polyline points="38.6,190.7 64,285 201.4,265.5" fill="none" stroke="#333" stroke-width="0.7"/>
<line x1="44.3" y1="222.1" x2="47.1" y2="222.1" stroke="#333" stroke-width="0.7"/>
<line x1="52.7" y1="253.6" x2="55.5" y2="253.6" stroke="#333" stroke-width="0.7"/>
<line x1="109.8" y1="278.5" x2="109.8" y2="281.3" stroke="#333" stroke-width="0.7"/>
<line x1="155.6" y1="272.0" x2="155.6" y2="274.8" stroke="#333" stroke-width="0.7"/>
<line x1="201.4" y1="265.5" x2="201.4" y2="268.3" stroke="#333" stroke-width="0.7"/>
<text x="37.4" y="225" font-size="8" fill="#000" text-anchor="middle" font-family="Liberation Serif" font-weight="bold" >2</text>
<text x="47" y="256.5" font-size="8" fill="#000" text-anchor="middle" font-family="Liberation Serif" font-weight="bold" >1</text>
<text x="112.6" y="289" font-size="8" fill="#000" text-anchor="middle" font-family="Liberation Serif" font-weight="bold" >1</text>
<text x="157.4" y="284.2" font-size="8" fill="#000" text-anchor="middle" font-family="Liberation Serif" font-weight="bold" >2</text>
<text x="201.4" y="279.4" font-size="8" fill="#000" text-anchor="start" font-family="Liberation Serif" font-weight="bold" >3 µm</text>
<polygon points="40.0,172.7 41.5,172.3 43.0,169.6 44.5,173.0 46.0,170.2 47.6,169.4 49.1,171.9 50.6,172.4 52.1,171.1 53.6,169.0 55.1,169.3 56.6,171.2 58.1,169.6 59.6,168.2 61.2,169.2 62.7,168.0 64.2,166.1 65.7,167.4 67.2,168.6 68.7,169.5 70.2,168.5 71.7,167.5 73.2,165.4 74.8,165.8 76.3,167.9 77.8,164.7 79.3,166.7 80.8,165.4 82.3,168.2 83.8,168.0 85.3,167.3 86.8,163.7 88.4,164.6 89.9,163.5 91.4,164.4 92.9,165.4 94.4,164.6 95.9,164.0 97.4,162.5 98.9,164.4 100.4,162.0 102.0,163.2 103.5,161.9 105.0,163.4 106.5,162.2 108.0,163.8 109.5,162.7 111.0,164.0 112.5,164.4 114.0,164.6 115.6,161.0 117.1,162.1 118.6,159.7 120.1,159.8 121.6,161.9 123.1,158.7 124.6,160.5 126.1,159.4 127.6,161.0 129.2,161.9 130.7,161.8 132.2,161.6 133.7,159.3 135.2,161.5 136.7,161.8 138.2,157.6 139.7,161.0 141.2,159.1 142.8,158.7 144.3,157.9 145.8,158.3 147.3,155.9 148.8,156.6 150.3,157.3 151.8,156.9 153.3,157.3 154.8,154.8 156.4,158.3 157.9,155.8 159.4,156.3 160.9,158.7 162.4,157.2 163.9,153.9 165.4,154.4 166.9,158.1 168.4,156.5 170.0,157.7 171.5,153.4 173.0,156.8 174.5,156.9 176.0,152.1 200.0,251.0 200.0,251.0 198.5,251.3 197.0,251.5 195.5,251.8 194.0,252.1 192.4,252.3 190.9,252.6 189.4,252.9 187.9,253.1 186.4,253.4 184.9,253.7 183.4,253.9 181.9,254.2 180.4,254.5 178.8,254.7 177.3,255.0 175.8,255.3 174.3,255.5 172.8,255.8 171.3,256.1 169.8,256.3 168.3,256.6 166.8,256.9 165.2,257.1 163.7,257.4 162.2,257.7 160.7,257.9 159.2,258.2 157.7,258.5 156.2,258.7 154.7,259.0 153.2,259.3 151.6,259.5 150.1,259.8 148.6,260.1 147.1,260.3 145.6,260.6 144.1,260.9 142.6,261.1 141.1,261.4 139.6,261.7 138.0,261.9 136.5,262.2 135.0,262.5 133.5,262.7 132.0,263.0 130.5,263.3 129.0,263.5 127.5,263.8 126.0,264.1 124.4,264.3 122.9,264.6 121.4,264.9 119.9,265.1 118.4,265.4 116.9,265.7 115.4,265.9 113.9,266.2 112.4,266.5 110.8,266.7 109.3,267.0 107.8,267.3 106.3,267.5 104.8,267.8 103.3,268.1 101.8,268.3 100.3,268.6 98.8,268.9 97.2,269.1 95.7,269.4 94.2,269.7 92.7,269.9 91.2,270.2 89.7,270.5 88.2,270.7 86.7,271.0 85.2,271.3 83.6,271.5 82.1,271.8 80.6,272.1 79.1,272.3 77.6,272.6 76.1,272.9 74.6,273.1 73.1,273.4 71.6,273.7 70.0,273.9 68.5,274.2 67.0,274.5 65.5,274.7 64.0,275.0" fill="#b040a8" />
<polygon points="40.0,172.7 41.5,172.3 43.0,169.6 44.5,173.0 46.0,170.2 47.6,169.4 49.1,171.9 50.6,172.4 52.1,171.1 53.6,169.0 55.1,169.3 56.6,171.2 58.1,169.6 59.6,168.2 61.2,169.2 62.7,168.0 64.2,166.1 65.7,167.4 67.2,168.6 68.7,169.5 70.2,168.5 71.7,167.5 73.2,165.4 74.8,165.8 76.3,167.9 77.8,164.7 79.3,166.7 80.8,165.4 82.3,168.2 83.8,168.0 85.3,167.3 86.8,163.7 88.4,164.6 89.9,163.5 91.4,164.4 92.9,165.4 94.4,164.6 95.9,164.0 97.4,162.5 98.9,164.4 100.4,162.0 102.0,163.2 103.5,161.9 105.0,163.4 106.5,162.2 108.0,163.8 109.5,162.7 111.0,164.0 112.5,164.4 114.0,164.6 115.6,161.0 117.1,162.1 118.6,159.7 120.1,159.8 121.6,161.9 123.1,158.7 124.6,160.5 126.1,159.4 127.6,161.0 129.2,161.9 130.7,161.8 132.2,161.6 133.7,159.3 135.2,161.5 136.7,161.8 138.2,157.6 139.7,161.0 141.2,159.1 142.8,158.7 144.3,157.9 145.8,158.3 147.3,155.9 148.8,156.6 150.3,157.3 151.8,156.9 153.3,157.3 154.8,154.8 156.4,158.3 157.9,155.8 159.4,156.3 160.9,158.7 162.4,157.2 163.9,153.9 165.4,154.4 166.9,158.1 168.4,156.5 170.0,157.7 171.5,153.4 173.0,156.8 174.5,156.9 176.0,152.1 200.0,251.0 200.0,251.0 198.5,251.3 197.0,251.5 195.5,251.8 194.0,252.1 192.4,252.3 190.9,252.6 189.4,252.9 187.9,253.1 186.4,253.4 184.9,253.7 183.4,253.9 181.9,254.2 180.4,254.5 178.8,254.7 177.3,255.0 175.8,255.3 174.3,255.5 172.8,255.8 171.3,256.1 169.8,256.3 168.3,256.6 166.8,256.9 165.2,257.1 163.7,257.4 162.2,257.7 160.7,257.9 159.2,258.2 157.7,258.5 156.2,258.7 154.7,259.0 153.2,259.3 151.6,259.5 150.1,259.8 148.6,260.1 147.1,260.3 145.6,260.6 144.1,260.9 142.6,261.1 141.1,261.4 139.6,261.7 138.0,261.9 136.5,262.2 135.0,262.5 133.5,262.7 132.0,263.0 130.5,263.3 129.0,263.5 127.5,263.8 126.0,264.1 124.4,264.3 122.9,264.6 121.4,264.9 119.9,265.1 118.4,265.4 116.9,265.7 115.4,265.9 113.9,266.2 112.4,266.5 110.8,266.7 109.3,267.0 107.8,267.3 106.3,267.5 104.8,267.8 103.3,268.1 101.8,268.3 100.3,268.6 98.8,268.9 97.2,269.1 95.7,269.4 94.2,269.7 92.7,269.9 91.2,270.2 89.7,270.5 88.2,270.7 86.7,271.0 85.2,271.3 83.6,271.5 82.1,271.8 80.6,272.1 79.1,272.3 77.6,272.6 76.1,272.9 74.6,273.1 73.1,273.4 71.6,273.7 70.0,273.9 68.5,274.2 67.0,274.5 65.5,274.7 64.0,275.0" fill="#fff" filter="url(#noiseC)" opacity="0.9"/>
<ellipse cx="134" cy="199" rx="27" ry="14" fill="#3a18f0" opacity="0.7" filter="url(#blur4)"/>
<ellipse cx="116" cy="204" rx="14" ry="9" fill="#4a20e0" opacity="0.4" filter="url(#blur4)"/>
<ellipse cx="135" cy="200" rx="42" ry="24" fill="#6a30d0" opacity="0.25" filter="url(#blur4)"/>
<linearGradient id="fg1" gradientUnits="userSpaceOnUse" x1="61.3" y1="259.8" x2="64.7" y2="279.1"><stop offset="0" stop-color="#b040a8" stop-opacity="0"/><stop offset="0.45" stop-color="#e05868" stop-opacity="1"/><stop offset="0.72" stop-color="#f0a040" stop-opacity="1"/><stop offset="1" stop-color="#f0f040" stop-opacity="1"/></linearGradient>
<polygon points="61.3,259.8 62.8,259.6 64.3,259.3 65.9,259.0 67.4,258.8 68.9,258.5 70.4,258.2 71.9,258.0 73.4,257.7 74.9,257.4 76.4,257.2 77.9,256.9 79.5,256.6 81.0,256.4 82.5,256.1 84.0,255.8 85.5,255.6 87.0,255.3 88.5,255.0 90.0,254.8 91.5,254.5 93.1,254.2 94.6,254.0 96.1,253.7 97.6,253.4 99.1,253.2 100.6,252.9 102.1,252.6 103.6,252.4 105.1,252.1 106.7,251.8 108.2,251.6 109.7,251.3 111.2,251.0 112.7,250.8 114.2,250.5 115.7,250.2 117.2,250.0 118.7,249.7 120.3,249.4 121.8,249.2 123.3,248.9 124.8,248.6 126.3,248.4 127.8,248.1 129.3,247.8 130.8,247.6 132.3,247.3 133.9,247.0 135.4,246.8 136.9,246.5 138.4,246.2 139.9,246.0 141.4,245.7 142.9,245.4 144.4,245.2 145.9,244.9 147.5,244.6 149.0,244.4 150.5,244.1 152.0,243.8 153.5,243.6 155.0,243.3 156.5,243.0 158.0,242.8 159.5,242.5 161.1,242.2 162.6,242.0 164.1,241.7 165.6,241.4 167.1,241.2 168.6,240.9 170.1,240.6 171.6,240.4 173.1,240.1 174.7,239.8 176.2,239.6 177.7,239.3 179.2,239.0 180.7,238.8 182.2,238.5 183.7,238.2 185.2,238.0 186.7,237.7 188.3,237.4 189.8,237.2 191.3,236.9 192.8,236.6 194.3,236.4 195.8,236.1 197.3,235.8 200.0,253.8 198.5,253.3 197.0,251.8 195.5,254.3 194.0,254.4 192.4,255.6 190.9,252.6 189.4,253.8 187.9,254.5 186.4,256.2 184.9,255.6 183.4,257.8 181.9,256.0 180.4,260.2 178.8,260.8 177.3,255.4 175.8,256.6 174.3,259.1 172.8,260.7 171.3,256.5 169.8,257.5 168.3,259.5 166.8,261.1 165.2,262.8 163.7,262.9 162.2,262.7 160.7,258.3 159.2,264.4 157.7,262.3 156.2,259.3 154.7,260.6 153.2,263.2 151.6,262.0 150.1,262.6 148.6,265.1 147.1,265.5 145.6,264.0 144.1,265.9 142.6,263.7 141.1,267.5 139.6,265.5 138.0,268.0 136.5,262.5 135.0,268.0 133.5,266.3 132.0,267.5 130.5,264.5 129.0,267.0 127.5,265.6 126.0,264.7 124.4,264.4 122.9,270.3 121.4,269.1 119.9,266.4 118.4,267.0 116.9,268.6 115.4,271.1 113.9,266.9 112.4,272.6 110.8,272.7 109.3,268.5 107.8,271.3 106.3,269.8 104.8,272.2 103.3,268.6 101.8,271.3 100.3,272.3 98.8,272.8 97.2,273.5 95.7,275.0 94.2,271.2 92.7,270.9 91.2,272.7 89.7,274.1 88.2,276.8 86.7,275.5 85.2,275.9 83.6,277.7 82.1,273.5 80.6,273.7 79.1,275.0 77.6,274.5 76.1,277.0 74.6,279.1 73.1,274.4 71.6,276.9 70.0,278.2 68.5,277.3 67.0,280.2 65.5,279.4 64.0,280.6" fill="url(#fg1)" />
<line x1="79.2" y1="263.1" x2="79.2" y2="271.1" stroke="#e04868" stroke-width="0.8" opacity="0.7"/>
<line x1="176.8" y1="234.6" x2="176.8" y2="252.4" stroke="#e04868" stroke-width="0.8" opacity="0.7"/>
<line x1="65.9" y1="256.8" x2="65.9" y2="272.3" stroke="#b03890" stroke-width="0.8" opacity="0.7"/>
<line x1="187.5" y1="242.9" x2="187.5" y2="251.8" stroke="#b03890" stroke-width="0.8" opacity="0.7"/>
<line x1="161.2" y1="248.1" x2="161.2" y2="256.5" stroke="#f08040" stroke-width="0.8" opacity="0.7"/>
<line x1="165.3" y1="250.2" x2="165.3" y2="256.2" stroke="#e04868" stroke-width="0.8" opacity="0.7"/>
<line x1="159.1" y1="247.7" x2="159.1" y2="256.8" stroke="#e04868" stroke-width="0.8" opacity="0.7"/>
<line x1="185.2" y1="243.7" x2="185.2" y2="252.3" stroke="#f08040" stroke-width="0.8" opacity="0.7"/>
<line x1="127.7" y1="252.2" x2="127.7" y2="262.2" stroke="#b03890" stroke-width="0.8" opacity="0.7"/>
<line x1="128.4" y1="254.7" x2="128.4" y2="262.4" stroke="#e04868" stroke-width="0.8" opacity="0.7"/>
<line x1="172.7" y1="240.5" x2="172.7" y2="253.8" stroke="#b03890" stroke-width="0.8" opacity="0.7"/>
<line x1="196.3" y1="240.3" x2="196.3" y2="250.1" stroke="#e04868" stroke-width="0.8" opacity="0.7"/>
<line x1="155.3" y1="241.8" x2="155.3" y2="256.6" stroke="#b03890" stroke-width="0.8" opacity="0.7"/>
<line x1="65.6" y1="255.3" x2="65.6" y2="272.1" stroke="#e04868" stroke-width="0.8" opacity="0.7"/>
<line x1="194.1" y1="243.2" x2="194.1" y2="250.9" stroke="#e04868" stroke-width="0.8" opacity="0.7"/>
<line x1="122.8" y1="249.5" x2="122.8" y2="262.6" stroke="#e04868" stroke-width="0.8" opacity="0.7"/>
<line x1="198.5" y1="230.8" x2="198.5" y2="248.5" stroke="#b03890" stroke-width="0.8" opacity="0.7"/>
<line x1="97.4" y1="254.0" x2="97.4" y2="267.1" stroke="#b03890" stroke-width="0.8" opacity="0.7"/>
<line x1="123.3" y1="254.8" x2="123.3" y2="263.2" stroke="#e04868" stroke-width="0.8" opacity="0.7"/>
<line x1="86.9" y1="259.4" x2="86.9" y2="269.4" stroke="#e04868" stroke-width="0.8" opacity="0.7"/>
<line x1="76.0" y1="264.4" x2="76.0" y2="271.8" stroke="#f08040" stroke-width="0.8" opacity="0.7"/>
<line x1="148.7" y1="246.5" x2="148.7" y2="258.2" stroke="#e04868" stroke-width="0.8" opacity="0.7"/>
<line x1="97.1" y1="255.1" x2="97.1" y2="267.3" stroke="#b03890" stroke-width="0.8" opacity="0.7"/>
<line x1="153.6" y1="239.2" x2="153.6" y2="256.5" stroke="#f08040" stroke-width="0.8" opacity="0.7"/>
<line x1="112.0" y1="250.7" x2="112.0" y2="264.4" stroke="#e04868" stroke-width="0.8" opacity="0.7"/>
<line x1="191.8" y1="237.1" x2="191.8" y2="250.4" stroke="#e04868" stroke-width="0.8" opacity="0.7"/>
<line x1="85.6" y1="261.1" x2="85.6" y2="269.8" stroke="#b03890" stroke-width="0.8" opacity="0.7"/>
<line x1="88.4" y1="259.9" x2="88.4" y2="269.3" stroke="#e04868" stroke-width="0.8" opacity="0.7"/>
<line x1="175.9" y1="242.2" x2="175.9" y2="253.5" stroke="#b03890" stroke-width="0.8" opacity="0.7"/>
<line x1="121.0" y1="254.7" x2="121.0" y2="263.6" stroke="#e04868" stroke-width="0.8" opacity="0.7"/>
<line x1="163.8" y1="250.2" x2="163.8" y2="256.4" stroke="#b03890" stroke-width="0.8" opacity="0.7"/>
<line x1="108.0" y1="258.3" x2="108.0" y2="266.0" stroke="#e04868" stroke-width="0.8" opacity="0.7"/>
<line x1="164.4" y1="248.3" x2="164.4" y2="256.1" stroke="#f08040" stroke-width="0.8" opacity="0.7"/>
<line x1="71.7" y1="256.2" x2="71.7" y2="271.3" stroke="#e04868" stroke-width="0.8" opacity="0.7"/>
<line x1="113.5" y1="250.3" x2="113.5" y2="264.1" stroke="#f08040" stroke-width="0.8" opacity="0.7"/>
<line x1="67.0" y1="263.4" x2="67.0" y2="273.0" stroke="#e04868" stroke-width="0.8" opacity="0.7"/>
<line x1="170.0" y1="237.7" x2="170.0" y2="253.8" stroke="#f08040" stroke-width="0.8" opacity="0.7"/>
<line x1="179.2" y1="247.6" x2="179.2" y2="253.7" stroke="#f08040" stroke-width="0.8" opacity="0.7"/>
<line x1="135.0" y1="252.4" x2="135.0" y2="261.1" stroke="#f08040" stroke-width="0.8" opacity="0.7"/>
<line x1="94.1" y1="250.2" x2="94.1" y2="267.1" stroke="#f08040" stroke-width="0.8" opacity="0.7"/>
<line x1="105.1" y1="247.6" x2="105.1" y2="265.1" stroke="#b03890" stroke-width="0.8" opacity="0.7"/>
<line x1="122.5" y1="251.9" x2="122.5" y2="263.0" stroke="#e04868" stroke-width="0.8" opacity="0.7"/>
<line x1="160.5" y1="246.6" x2="160.5" y2="256.5" stroke="#e04868" stroke-width="0.8" opacity="0.7"/>
<line x1="73.6" y1="262.4" x2="73.6" y2="271.9" stroke="#f08040" stroke-width="0.8" opacity="0.7"/>
<line x1="162.6" y1="249.7" x2="162.6" y2="256.6" stroke="#f08040" stroke-width="0.8" opacity="0.7"/>
<line x1="96.2" y1="260.6" x2="96.2" y2="268.2" stroke="#f08040" stroke-width="0.8" opacity="0.7"/>
<line x1="80.5" y1="253.8" x2="80.5" y2="269.7" stroke="#f08040" stroke-width="0.8" opacity="0.7"/>
<line x1="115.6" y1="253.8" x2="115.6" y2="264.3" stroke="#b03890" stroke-width="0.8" opacity="0.7"/>
<line x1="163.1" y1="242.3" x2="163.1" y2="255.5" stroke="#f08040" stroke-width="0.8" opacity="0.7"/>
<line x1="189.0" y1="239.5" x2="189.0" y2="251.1" stroke="#b03890" stroke-width="0.8" opacity="0.7"/>
<line x1="153.6" y1="244.9" x2="153.6" y2="257.3" stroke="#e04868" stroke-width="0.8" opacity="0.7"/>
<line x1="125.7" y1="247.2" x2="125.7" y2="261.9" stroke="#e04868" stroke-width="0.8" opacity="0.7"/>
<line x1="139.2" y1="246.1" x2="139.2" y2="259.7" stroke="#b03890" stroke-width="0.8" opacity="0.7"/>
<line x1="193.6" y1="234.4" x2="193.6" y2="249.8" stroke="#f08040" stroke-width="0.8" opacity="0.7"/>
<line x1="81.8" y1="253.6" x2="81.8" y2="269.4" stroke="#e04868" stroke-width="0.8" opacity="0.7"/>
<line x1="175.1" y1="244.1" x2="175.1" y2="253.9" stroke="#b03890" stroke-width="0.8" opacity="0.7"/>
<line x1="114.0" y1="256.3" x2="114.0" y2="264.9" stroke="#b03890" stroke-width="0.8" opacity="0.7"/>
<line x1="128.2" y1="244.9" x2="128.2" y2="261.2" stroke="#e04868" stroke-width="0.8" opacity="0.7"/>
<line x1="168.6" y1="240.5" x2="168.6" y2="254.4" stroke="#b03890" stroke-width="0.8" opacity="0.7"/>
<line x1="153.6" y1="249.6" x2="153.6" y2="257.9" stroke="#b03890" stroke-width="0.8" opacity="0.7"/>
<line x1="173.2" y1="244.0" x2="173.2" y2="254.2" stroke="#b03890" stroke-width="0.8" opacity="0.7"/>
<line x1="108.4" y1="259.5" x2="108.4" y2="266.1" stroke="#b03890" stroke-width="0.8" opacity="0.7"/>
<line x1="163.3" y1="249.6" x2="163.3" y2="256.4" stroke="#f08040" stroke-width="0.8" opacity="0.7"/>
<line x1="120.0" y1="247.3" x2="120.0" y2="262.7" stroke="#b03890" stroke-width="0.8" opacity="0.7"/>
<line x1="71.1" y1="259.4" x2="71.1" y2="271.8" stroke="#e04868" stroke-width="0.8" opacity="0.7"/>
<line x1="81.6" y1="256.6" x2="81.6" y2="269.9" stroke="#b03890" stroke-width="0.8" opacity="0.7"/>
<line x1="83.5" y1="260.8" x2="83.5" y2="270.1" stroke="#f08040" stroke-width="0.8" opacity="0.7"/>
<line x1="148.3" y1="251.9" x2="148.3" y2="259.0" stroke="#f08040" stroke-width="0.8" opacity="0.7"/>
<line x1="89.1" y1="252.8" x2="89.1" y2="268.2" stroke="#f08040" stroke-width="0.8" opacity="0.7"/>
<line x1="125.8" y1="253.7" x2="125.8" y2="262.7" stroke="#b03890" stroke-width="0.8" opacity="0.7"/>
<polygon points="133.9,167.8 135.0,163.2 136.2,167.8" fill="#a840a0"/>
<polygon points="68.0,179.0 69.0,172.7 69.9,179.0" fill="#a840a0"/>
<polygon points="133.1,170.2 134.2,161.5 135.4,170.2" fill="#a840a0"/>
<polygon points="74.4,173.0 75.1,164.1 75.7,173.0" fill="#a840a0"/>
<polygon points="70.6,178.6 71.7,169.0 72.8,178.6" fill="#a840a0"/>
<polygon points="110.0,170.1 111.0,160.3 112.0,170.1" fill="#a840a0"/>
<polygon points="125.1,165.4 125.6,161.2 126.1,165.4" fill="#a840a0"/>
<polygon points="162.9,162.4 163.8,158.2 164.7,162.4" fill="#a840a0"/>
<polygon points="67.6,176.9 68.7,167.5 69.8,176.9" fill="#a840a0"/>
<polygon points="74.2,179.1 75.1,174.2 76.0,179.1" fill="#a840a0"/>
<polygon points="85.1,178.4 86.1,173.8 87.1,178.4" fill="#a840a0"/>
<polygon points="124.8,170.8 125.6,166.7 126.5,170.8" fill="#a840a0"/>
<polygon points="176.1,163.3 176.7,159.1 177.2,163.3" fill="#a840a0"/>
<polygon points="85.8,176.3 86.3,172.3 86.8,176.3" fill="#a840a0"/>
<polygon points="130.1,171.6 131.0,166.5 132.0,171.6" fill="#a840a0"/>
<polygon points="74.9,173.8 75.5,168.4 76.2,173.8" fill="#a840a0"/>
<polygon points="101.1,169.4 102.0,160.3 103.0,169.4" fill="#a840a0"/>
<polygon points="52.4,175.9 53.2,167.8 53.9,175.9" fill="#a840a0"/>
<polygon points="74.5,171.8 75.4,165.0 76.3,171.8" fill="#a840a0"/>
<polygon points="153.5,163.0 154.6,155.6 155.7,163.0" fill="#a840a0"/>
<polygon points="153.0,167.7 153.5,162.5 154.0,167.7" fill="#a840a0"/>
<polygon points="126.9,165.2 127.7,161.2 128.5,165.2" fill="#a840a0"/>
<polygon points="56.7,177.6 57.3,169.2 57.9,177.6" fill="#a840a0"/>
<polygon points="149.7,170.0 150.5,166.0 151.3,170.0" fill="#a840a0"/>
<polygon points="136.6,169.6 137.6,165.1 138.7,169.6" fill="#a840a0"/>
<polygon points="90.0,171.3 90.9,165.7 91.8,171.3" fill="#a840a0"/>
<polygon points="154.3,166.8 155.2,162.8 156.1,166.8" fill="#a840a0"/>
<polygon points="87.2,175.7 88.2,171.7 89.1,175.7" fill="#a840a0"/>
<polygon points="146.6,162.8 147.7,158.8 148.9,162.8" fill="#a840a0"/>
<polygon points="161.3,162.1 162.1,153.0 162.9,162.1" fill="#a840a0"/>
<polygon points="110.4,170.8 111.5,166.2 112.6,170.8" fill="#a840a0"/>
<polygon points="123.7,172.8 124.8,166.5 126.0,172.8" fill="#a840a0"/>
<polygon points="110.5,170.9 111.0,165.0 111.5,170.9" fill="#a840a0"/>
<polygon points="144.1,164.0 144.7,154.7 145.2,164.0" fill="#a840a0"/>
<polygon points="137.2,169.9 137.8,164.1 138.4,169.9" fill="#a840a0"/>
<polygon points="150.0,164.7 151.0,160.2 152.0,164.7" fill="#a840a0"/>
<polygon points="171.4,160.2 172.4,155.1 173.3,160.2" fill="#a840a0"/>
<polygon points="78.9,178.6 79.4,172.4 80.0,178.6" fill="#a840a0"/>
<polygon points="60.2,174.5 61.3,169.3 62.5,174.5" fill="#a840a0"/>
<polygon points="54.7,175.3 55.6,171.0 56.5,175.3" fill="#a840a0"/>
<polygon points="98.2,172.0 99.3,167.8 100.4,172.0" fill="#a840a0"/>
<polygon points="106.0,174.6 106.9,170.6 107.7,174.6" fill="#a840a0"/>
<polygon points="90.9,176.4 91.7,169.5 92.6,176.4" fill="#a840a0"/>
<polygon points="62.2,178.7 63.2,169.9 64.3,178.7" fill="#a840a0"/>
<polygon points="172.0,164.0 172.7,159.4 173.3,164.0" fill="#a840a0"/>
<polygon points="149.2,168.6 150.3,162.2 151.3,168.6" fill="#a840a0"/>
<polygon points="107.1,174.4 107.7,167.5 108.4,174.4" fill="#a840a0"/>
<polygon points="120.0,171.1 121.2,166.9 122.3,171.1" fill="#a840a0"/>
<polygon points="149.3,163.4 149.8,159.1 150.3,163.4" fill="#a840a0"/>
<polygon points="167.2,161.3 168.1,153.2 169.0,161.3" fill="#a840a0"/>
<polygon points="47.1,176.7 48.2,172.3 49.2,176.7" fill="#a840a0"/>
<polygon points="89.4,170.9 90.3,161.5 91.1,170.9" fill="#a840a0"/>
<polygon points="50.1,182.7 50.9,176.0 51.7,182.7" fill="#a840a0"/>
<polygon points="60.0,179.1 61.1,175.0 62.3,179.1" fill="#a840a0"/>
<polygon points="142.5,168.7 143.6,161.1 144.7,168.7" fill="#a840a0"/>
<polygon points="104.3,174.4 105.3,170.3 106.3,174.4" fill="#a840a0"/>
<polygon points="141.4,164.8 142.6,160.8 143.7,164.8" fill="#a840a0"/>
<polygon points="160.8,161.7 161.5,155.6 162.1,161.7" fill="#a840a0"/>
<polygon points="68.6,179.9 69.6,173.3 70.7,179.9" fill="#a840a0"/>
<polygon points="79.1,177.3 79.9,170.7 80.6,177.3" fill="#a840a0"/>
<polygon points="107.3,169.5 108.0,163.4 108.6,169.5" fill="#a840a0"/>
<polygon points="101.7,175.1 102.7,168.5 103.6,175.1" fill="#a840a0"/>
<polygon points="55.6,180.7 56.8,174.4 58.0,180.7" fill="#a840a0"/>
<polygon points="167.7,167.2 168.8,161.5 169.8,167.2" fill="#a840a0"/>
<polygon points="52.9,174.6 53.9,166.9 54.9,174.6" fill="#a840a0"/>
<polygon points="168.3,162.2 169.4,156.7 170.4,162.2" fill="#a840a0"/>
<polygon points="123.4,172.2 124.5,167.3 125.5,172.2" fill="#a840a0"/>
<polygon points="157.7,168.2 158.9,163.3 160.0,168.2" fill="#a840a0"/>
<polygon points="82.2,175.4 83.2,165.7 84.1,175.4" fill="#a840a0"/>
<polygon points="120.4,168.7 121.3,163.1 122.1,168.7" fill="#a840a0"/>
<polygon points="132.6,168.6 133.2,164.0 133.8,168.6" fill="#a840a0"/>
<polygon points="174.7,163.9 175.5,159.7 176.2,163.9" fill="#a840a0"/>
<polygon points="128.0,166.8 128.9,158.0 129.8,166.8" fill="#a840a0"/>
<polygon points="132.7,169.5 133.9,165.4 135.0,169.5" fill="#a840a0"/>
<polygon points="154.4,162.7 155.3,156.8 156.2,162.7" fill="#a840a0"/>
<polygon points="81.9,173.7 82.8,169.3 83.8,173.7" fill="#a840a0"/>
<polygon points="97.9,169.5 98.5,165.2 99.1,169.5" fill="#a840a0"/>
<polygon points="125.8,169.6 126.7,164.7 127.6,169.6" fill="#a840a0"/>
<polygon points="124.8,167.0 125.9,163.0 127.1,167.0" fill="#a840a0"/>
<polygon points="64.5,174.8 65.7,167.8 66.9,174.8" fill="#a840a0"/>
<polygon points="57.0,177.1 57.6,168.7 58.1,177.1" fill="#a840a0"/>
<polygon points="74.7,176.6 75.2,168.5 75.8,176.6" fill="#a840a0"/>
<polygon points="96.9,173.6 97.8,167.8 98.6,173.6" fill="#a840a0"/>
<polygon points="176.3,166.5 176.9,162.3 177.6,166.5" fill="#a840a0"/>
<polygon points="93.7,170.0 94.6,165.9 95.5,170.0" fill="#a840a0"/>
<polygon points="173.9,161.4 174.8,157.2 175.7,161.4" fill="#a840a0"/>
<polygon points="79.4,171.0 80.5,167.0 81.6,171.0" fill="#a840a0"/>
<polygon points="55.0,179.3 56.0,174.2 57.1,179.3" fill="#a840a0"/>
<polygon points="109.0,169.1 109.7,164.9 110.4,169.1" fill="#a840a0"/>
<polygon points="71.3,174.0 72.3,169.5 73.2,174.0" fill="#a840a0"/>
<polygon points="110.8,167.6 111.9,162.5 113.1,167.6" fill="#a840a0"/>
<polygon points="167.7,162.4 168.4,158.3 169.1,162.4" fill="#a840a0"/>
<polygon points="57.4,175.8 58.5,166.7 59.7,175.8" fill="#a840a0"/>
<polygon points="101.6,172.6 102.6,165.7 103.6,172.6" fill="#a840a0"/>
<polygon points="135.2,169.9 135.8,163.8 136.3,169.9" fill="#a840a0"/>
<polygon points="134.1,169.5 134.7,165.3 135.3,169.5" fill="#a840a0"/>
<polygon points="126.6,168.2 127.3,160.2 128.0,168.2" fill="#a840a0"/>
<polygon points="131.1,169.4 131.8,165.3 132.5,169.4" fill="#a840a0"/>
<polygon points="88.0,172.4 88.6,168.3 89.3,172.4" fill="#a840a0"/>
<polygon points="112.7,168.6 113.5,162.2 114.3,168.6" fill="#a840a0"/>
<polygon points="101.9,169.9 102.5,162.1 103.0,169.9" fill="#a840a0"/>
<polygon points="168.7,164.4 169.6,155.0 170.5,164.4" fill="#a840a0"/>
<polygon points="87.7,172.9 88.5,163.8 89.4,172.9" fill="#a840a0"/>
<polygon points="93.1,170.5 93.9,166.4 94.7,170.5" fill="#a840a0"/>
<polygon points="102.2,174.6 103.0,170.5 103.8,174.6" fill="#a840a0"/>
<polygon points="57.5,175.8 58.6,170.3 59.7,175.8" fill="#a840a0"/>
<polygon points="57.5,175.1 58.3,168.2 59.2,175.1" fill="#a840a0"/>
<polygon points="52.2,180.0 53.2,170.5 54.3,180.0" fill="#a840a0"/>
<polygon points="175.9,164.6 176.9,160.0 178.0,164.6" fill="#a840a0"/>
<polygon points="116.2,167.1 117.4,162.3 118.6,167.1" fill="#a840a0"/>
<polygon points="128.8,167.7 129.8,160.7 130.8,167.7" fill="#a840a0"/>
<polygon points="61.8,177.0 62.4,169.1 63.0,177.0" fill="#a840a0"/>
<polygon points="113.7,167.6 114.7,163.2 115.7,167.6" fill="#a840a0"/>
<polygon points="89.3,176.4 90.2,169.2 91.2,176.4" fill="#a840a0"/>
<polygon points="60.4,177.1 61.3,168.4 62.3,177.1" fill="#a840a0"/>
<polygon points="49.5,178.9 50.3,173.6 51.1,178.9" fill="#a840a0"/>
<polygon points="96.8,175.3 97.9,169.6 99.0,175.3" fill="#a840a0"/>
<polygon points="170.9,166.5 171.4,159.0 171.9,166.5" fill="#a840a0"/>
<polygon points="39.9,177.4 40.6,171.8 41.3,177.4" fill="#a840a0"/>
<polygon points="59.1,181.2 59.8,176.1 60.4,181.2" fill="#a840a0"/>
<polygon points="110.3,175.0 111.5,167.8 112.6,175.0" fill="#a840a0"/>
<polygon points="56.5,180.0 57.2,175.3 58.0,180.0" fill="#a840a0"/>
<polygon points="102.3,171.9 103.0,164.1 103.7,171.9" fill="#a840a0"/>
<polygon points="102.7,171.5 103.6,165.2 104.5,171.5" fill="#a840a0"/>
<polygon points="47.5,182.1 48.1,175.6 48.7,182.1" fill="#a840a0"/>
<polygon points="108.4,174.6 109.2,165.9 109.9,174.6" fill="#a840a0"/>
<polygon points="73.3,179.5 74.2,172.3 75.2,179.5" fill="#a840a0"/>
<polygon points="96.2,175.8 97.3,171.6 98.4,175.8" fill="#a840a0"/>
<polygon points="148.9,166.4 149.8,161.6 150.8,166.4" fill="#a840a0"/>
<polygon points="92.6,172.7 93.6,168.2 94.7,172.7" fill="#a840a0"/>
<polygon points="60.7,177.3 61.9,172.2 63.1,177.3" fill="#a840a0"/>
<polygon points="54.9,178.7 56.1,174.4 57.2,178.7" fill="#a840a0"/>
<polygon points="58.2,181.2 58.9,174.7 59.5,181.2" fill="#a840a0"/>
<polygon points="95.8,171.1 96.9,165.8 98.0,171.1" fill="#a840a0"/>
<polygon points="106.6,175.5 107.3,166.5 107.9,175.5" fill="#a840a0"/>
<polygon points="58.7,179.2 59.4,174.4 60.0,179.2" fill="#a840a0"/>
<polygon points="166.1,164.6 167.0,160.2 167.9,164.6" fill="#a840a0"/>
<polygon points="115.5,172.9 116.4,167.8 117.2,172.9" fill="#a840a0"/>
<polygon points="61.8,180.2 62.3,171.1 62.8,180.2" fill="#a840a0"/>
<polygon points="143.5,170.6 144.6,162.2 145.7,170.6" fill="#a840a0"/>
<defs><linearGradient id="lfy" x1="0" y1="0" x2="1" y2="0"><stop offset="0" stop-color="#f4f470"/><stop offset="0.5" stop-color="#f0c050"/><stop offset="1" stop-color="#e06070" stop-opacity="0"/></linearGradient></defs>
<polygon points="40.0,174.0 64.0,275.0 67.5,275.0 43.5,176.0" fill="url(#lfy)" />
<text x="42.6" y="186.5" font-size="11.8" fill="#fff" text-anchor="start" font-family="Liberation Serif" font-weight="bold" transform="rotate(-10 42.6 186.5)"><tspan dy="0.00">Zn</tspan><tspan dy="3.30" font-size="8.02">3</tspan><tspan dy="-3.30">In</tspan><tspan dy="3.30" font-size="8.02">4</tspan><tspan dy="-3.30">S</tspan><tspan dy="3.30" font-size="8.02">9</tspan><tspan dy="-3.30">-light</tspan></text>
<line x1="141.9" y1="204.1" x2="93.3" y2="204.1" stroke="#f4f224" stroke-width="1.9"/>
<polygon points="89.3,204.1 95.5,201.1 95.5,207.1" fill="#f4f224"/>
<rect x="215.4" y="171.4" width="7.699999999999989" height="63.900000000000006" fill="url(#cbar)"/>
<text x="215.8" y="167" font-size="8" fill="#000" text-anchor="middle" font-family="Liberation Serif" font-weight="bold" >475.4.0 mV</text>
<text x="218.3" y="245.5" font-size="8" fill="#000" text-anchor="middle" font-family="Liberation Serif" font-weight="bold" >269.8 mV</text>
</g>
<g>
<text x="233.6" y="8.6" font-size="15" fill="#000" text-anchor="start" font-family="Liberation Serif" font-weight="bold" >c</text>
<line x1="275.1" y1="16.2" x2="275.1" y2="43.3" stroke="#333" stroke-width="0.7"/>
<line x1="272.5" y1="16.2" x2="275.1" y2="16.2" stroke="#333" stroke-width="0.7"/>
<line x1="272.5" y1="29.5" x2="275.1" y2="29.5" stroke="#333" stroke-width="0.7"/>
<line x1="272.5" y1="43.3" x2="275.1" y2="43.3" stroke="#333" stroke-width="0.7"/>
<text x="270.6" y="18" font-size="8" fill="#000" text-anchor="end" font-family="Liberation Serif" font-weight="bold" >9.5 mV</text>
<text x="270.6" y="32.5" font-size="8" fill="#000" text-anchor="end" font-family="Liberation Serif" font-weight="bold" >-0.3 mV</text>
<text x="268" y="46" font-size="8" fill="#000" text-anchor="end" font-family="Liberation Serif" font-weight="bold" >3 µm</text>
<polyline points="275.1,44 312.3,136.5 436.9,109.3" fill="none" stroke="#333" stroke-width="0.7"/>
<line x1="284.7" y1="74.8" x2="287.5" y2="74.8" stroke="#333" stroke-width="0.7"/>
<line x1="297.1" y1="105.7" x2="299.9" y2="105.7" stroke="#333" stroke-width="0.7"/>
<line x1="353.8" y1="127.4" x2="353.8" y2="130.2" stroke="#333" stroke-width="0.7"/>
<line x1="395.4" y1="118.4" x2="395.4" y2="121.2" stroke="#333" stroke-width="0.7"/>
<line x1="436.9" y1="109.3" x2="436.9" y2="112.1" stroke="#333" stroke-width="0.7"/>
<text x="278.5" y="79.5" font-size="8" fill="#000" text-anchor="middle" font-family="Liberation Serif" font-weight="bold" >2</text>
<text x="291.4" y="112.2" font-size="8" fill="#000" text-anchor="middle" font-family="Liberation Serif" font-weight="bold" >1</text>
<text x="355.3" y="139.1" font-size="8" fill="#000" text-anchor="middle" font-family="Liberation Serif" font-weight="bold" >1</text>
<text x="396.8" y="131.2" font-size="8" fill="#000" text-anchor="middle" font-family="Liberation Serif" font-weight="bold" >2</text>
<text x="435.8" y="121.8" font-size="8" fill="#000" text-anchor="start" font-family="Liberation Serif" font-weight="bold" >3 µm</text>
<polygon points="276.0,28.7 277.4,28.0 278.8,26.0 280.1,26.4 281.5,27.6 282.9,26.3 284.3,25.8 285.6,26.5 287.0,24.5 288.4,26.1 289.8,24.9 291.2,24.3 292.5,24.2 293.9,23.5 295.3,22.7 296.7,21.8 298.0,23.5 299.4,22.1 300.8,21.7 302.2,22.6 303.6,23.2 304.9,20.0 306.3,21.7 307.7,21.4 309.1,19.4 310.4,20.0 311.8,20.1 313.2,18.9 314.6,20.8 316.0,18.5 317.3,19.2 318.7,19.8 320.1,17.8 321.5,16.7 322.8,18.6 324.2,17.0 325.6,17.7 327.0,16.1 328.4,15.9 329.7,17.1 331.1,15.0 332.5,15.2 333.9,14.8 335.2,14.1 336.6,15.0 338.0,13.7 339.4,13.1 340.8,15.1 342.1,12.6 343.5,13.7 344.9,13.1 346.3,13.8 347.6,11.9 349.0,12.8 350.4,10.8 351.8,12.3 353.2,11.1 354.5,11.3 355.9,10.4 357.3,11.4 358.7,11.1 360.0,9.1 361.4,8.8 362.8,9.1 364.2,7.7 365.6,9.6 366.9,7.4 368.3,9.1 369.7,6.5 371.1,7.2 372.4,7.0 373.8,5.6 375.2,5.8 376.6,5.5 378.0,7.5 379.3,6.2 380.7,6.8 382.1,6.2 383.5,5.8 384.8,3.6 386.2,5.5 387.6,4.7 389.0,3.8 390.4,2.5 391.7,1.8 393.1,2.3 394.5,3.5 395.9,2.2 397.2,1.5 398.6,3.1 400.0,1.0 435.0,95.0 311.0,123.0" fill="#dc5a6a" />
<polygon points="276.0,28.7 277.4,28.0 278.8,26.0 280.1,26.4 281.5,27.6 282.9,26.3 284.3,25.8 285.6,26.5 287.0,24.5 288.4,26.1 289.8,24.9 291.2,24.3 292.5,24.2 293.9,23.5 295.3,22.7 296.7,21.8 298.0,23.5 299.4,22.1 300.8,21.7 302.2,22.6 303.6,23.2 304.9,20.0 306.3,21.7 307.7,21.4 309.1,19.4 310.4,20.0 311.8,20.1 313.2,18.9 314.6,20.8 316.0,18.5 317.3,19.2 318.7,19.8 320.1,17.8 321.5,16.7 322.8,18.6 324.2,17.0 325.6,17.7 327.0,16.1 328.4,15.9 329.7,17.1 331.1,15.0 332.5,15.2 333.9,14.8 335.2,14.1 336.6,15.0 338.0,13.7 339.4,13.1 340.8,15.1 342.1,12.6 343.5,13.7 344.9,13.1 346.3,13.8 347.6,11.9 349.0,12.8 350.4,10.8 351.8,12.3 353.2,11.1 354.5,11.3 355.9,10.4 357.3,11.4 358.7,11.1 360.0,9.1 361.4,8.8 362.8,9.1 364.2,7.7 365.6,9.6 366.9,7.4 368.3,9.1 369.7,6.5 371.1,7.2 372.4,7.0 373.8,5.6 375.2,5.8 376.6,5.5 378.0,7.5 379.3,6.2 380.7,6.8 382.1,6.2 383.5,5.8 384.8,3.6 386.2,5.5 387.6,4.7 389.0,3.8 390.4,2.5 391.7,1.8 393.1,2.3 394.5,3.5 395.9,2.2 397.2,1.5 398.6,3.1 400.0,1.0 435.0,95.0 311.0,123.0" fill="#fff" filter="url(#noise)" opacity="0.9"/>
<ellipse cx="340" cy="62" rx="9" ry="14" fill="#5a28d0" opacity="0.35" filter="url(#blur2)"/>
<ellipse cx="366" cy="62" rx="8" ry="12" fill="#f08050" opacity="0.3" filter="url(#blur2)"/>
<polygon points="322.3,25.8 323.3,17.3 324.3,25.8" fill="#3018e0"/>
<polygon points="341.6,21.5 342.4,17.1 343.3,21.5" fill="#3018e0"/>
<polygon points="291.9,31.3 292.9,24.5 293.9,31.3" fill="#3018e0"/>
<polygon points="324.2,20.9 324.9,14.1 325.5,20.9" fill="#3018e0"/>
<polygon points="367.9,14.6 369.0,9.2 370.1,14.6" fill="#3018e0"/>
<polygon points="324.9,23.4 325.7,18.2 326.5,23.4" fill="#3018e0"/>
<polygon points="288.2,32.7 289.1,20.2 290.0,32.7" fill="#3018e0"/>
<polygon points="369.9,18.7 370.9,7.6 371.9,18.7" fill="#3018e0"/>
<polygon points="378.3,15.9 379.1,11.3 380.0,15.9" fill="#3018e0"/>
<polygon points="318.5,24.0 319.2,16.8 320.0,24.0" fill="#3018e0"/>
<polygon points="353.5,19.2 354.3,15.1 355.2,19.2" fill="#3018e0"/>
<polygon points="325.7,26.1 326.3,22.1 326.9,26.1" fill="#3018e0"/>
<polygon points="340.0,20.7 340.7,12.3 341.4,20.7" fill="#3018e0"/>
<polygon points="302.5,32.9 303.1,28.3 303.7,32.9" fill="#3018e0"/>
<polygon points="310.8,26.3 311.7,21.8 312.5,26.3" fill="#3018e0"/>
<polygon points="391.6,7.6 392.5,1.8 393.5,7.6" fill="#3018e0"/>
<polygon points="387.6,15.4 388.5,11.2 389.4,15.4" fill="#3018e0"/>
<polygon points="384.8,8.5 385.4,1.0 386.0,8.5" fill="#3018e0"/>
<polygon points="373.3,18.0 373.8,11.1 374.3,18.0" fill="#3018e0"/>
<polygon points="284.5,32.5 285.1,21.3 285.8,32.5" fill="#3018e0"/>
<polygon points="359.1,16.6 360.1,11.9 361.1,16.6" fill="#3018e0"/>
<polygon points="314.4,25.8 315.3,15.9 316.1,25.8" fill="#3018e0"/>
<polygon points="373.8,14.4 374.7,10.2 375.5,14.4" fill="#3018e0"/>
<polygon points="385.3,12.5 385.8,-0.8 386.3,12.5" fill="#3018e0"/>
<polygon points="319.5,27.9 320.4,19.2 321.3,27.9" fill="#3018e0"/>
<polygon points="338.1,52.3 338.7,40.3 339.3,37.3 340.0,40.3 340.6,52.3" fill="url(#spikeB)"/>
<polygon points="336.2,73.7 336.9,61.3 337.6,58.1 338.3,61.3 338.9,73.7" fill="url(#spikeB)"/>
<polygon points="329.5,63.4 329.9,52.6 330.3,49.9 330.7,52.6 331.1,63.4" fill="url(#spikeB)"/>
<polygon points="350.8,80.9 351.4,69.5 352.0,66.7 352.5,69.5 353.1,80.9" fill="url(#spikeB)"/>
<polygon points="347.9,78.6 348.4,64.9 349.0,61.5 349.5,64.9 350.0,78.6" fill="url(#spikeB)"/>
<polygon points="351.3,45.1 351.8,34.9 352.2,32.3 352.6,34.9 353.0,45.1" fill="url(#spikeB)"/>
<polygon points="334.8,60.6 335.4,46.7 336.0,43.2 336.5,46.7 337.1,60.6" fill="url(#spikeB)"/>
<polygon points="341.3,47.7 341.8,36.3 342.4,33.4 342.9,36.3 343.5,47.7" fill="url(#spikeB)"/>
<polygon points="349.8,46.9 350.4,37.8 351.1,35.6 351.8,37.8 352.5,46.9" fill="url(#spikeB)"/>
<polygon points="344.1,77.1 344.5,67.6 344.9,65.2 345.3,67.6 345.7,77.1" fill="url(#spikeB)"/>
<polygon points="345.1,51.4 345.8,42.5 346.5,40.2 347.1,42.5 347.8,51.4" fill="url(#spikeB)"/>
<polygon points="349.9,47.0 350.6,37.6 351.3,35.3 352.1,37.6 352.8,47.0" fill="url(#spikeB)"/>
<polygon points="346.7,79.2 347.1,65.3 347.5,61.8 348.0,65.3 348.4,79.2" fill="url(#spikeB)"/>
<polygon points="355.0,77.0 355.5,67.2 356.0,64.7 356.5,67.2 357.0,77.0" fill="url(#spikeB)"/>
<polygon points="342.7,76.5 343.3,64.2 343.8,61.1 344.4,64.2 345.0,76.5" fill="url(#spikeB)"/>
<polygon points="343.4,75.6 344.0,64.5 344.7,61.7 345.4,64.5 346.0,75.6" fill="url(#spikeB)"/>
<polygon points="335.9,61.4 336.5,52.8 337.0,50.7 337.5,52.8 338.1,61.4" fill="url(#spikeB)"/>
<polygon points="354.5,46.5 355.3,38.0 356.0,35.9 356.7,38.0 357.4,46.5" fill="url(#spikeB)"/>
<polygon points="341.8,48.2 342.4,39.8 343.0,37.7 343.6,39.8 344.1,48.2" fill="url(#spikeB)"/>
<polygon points="339.3,78.5 339.7,69.7 340.2,67.6 340.6,69.7 341.0,78.5" fill="url(#spikeB)"/>
<polygon points="342.2,43.8 342.7,37.3 343.2,35.7 343.7,37.3 344.2,43.8" fill="url(#spikeB)"/>
<polygon points="329.3,59.4 330.0,51.0 330.7,48.9 331.4,51.0 332.1,59.4" fill="url(#spikeB)"/>
<polygon points="327.5,61.1 328.0,54.2 328.6,52.4 329.1,54.2 329.6,61.1" fill="url(#spikeB)"/>
<polygon points="333.7,69.3 334.4,62.4 335.0,60.6 335.7,62.4 336.3,69.3" fill="url(#spikeB)"/>
<polygon points="333.4,71.2 334.1,60.2 334.7,57.5 335.3,60.2 335.9,71.2" fill="url(#spikeB)"/>
<polygon points="353.2,48.7 353.7,37.2 354.3,34.3 354.8,37.2 355.3,48.7" fill="url(#spikeB)"/>
<polygon points="348.5,46.4 349.2,33.3 349.9,30.1 350.6,33.3 351.3,46.4" fill="url(#spikeB)"/>
<polygon points="329.9,55.2 330.4,44.7 330.8,42.0 331.3,44.7 331.7,55.2" fill="url(#spikeB)"/>
<polygon points="354.5,47.9 355.1,34.8 355.8,31.6 356.4,34.8 357.1,47.9" fill="url(#spikeB)"/>
<polygon points="342.9,47.6 343.6,35.6 344.3,32.6 345.0,35.6 345.7,47.6" fill="url(#spikeB)"/>
<polygon points="345.5,76.3 346.0,62.4 346.6,58.9 347.1,62.4 347.6,76.3" fill="url(#spikeB)"/>
<polygon points="351.4,79.8 352.1,72.5 352.7,70.7 353.3,72.5 353.9,79.8" fill="url(#spikeB)"/>
<polygon points="333.5,67.0 333.9,55.1 334.4,52.2 334.8,55.1 335.2,67.0" fill="url(#spikeB)"/>
<polygon points="326.6,60.3 327.3,51.2 328.0,48.9 328.7,51.2 329.4,60.3" fill="url(#spikeB)"/>
<polygon points="353.3,76.0 354.0,64.7 354.7,61.9 355.4,64.7 356.2,76.0" fill="url(#spikeB)"/>
<polygon points="330.7,62.7 331.3,56.0 331.8,54.3 332.3,56.0 332.9,62.7" fill="url(#spikeB)"/>
<polygon points="336.9,71.6 337.7,64.0 338.4,62.1 339.2,64.0 339.9,71.6" fill="url(#spikeB)"/>
<polygon points="339.2,79.5 339.7,72.6 340.2,70.9 340.7,72.6 341.2,79.5" fill="url(#spikeB)"/>
<polygon points="340.7,46.7 341.1,39.4 341.6,37.6 342.0,39.4 342.4,46.7" fill="url(#spikeB)"/>
<polygon points="324.9,61.1 325.4,54.1 325.9,52.4 326.3,54.1 326.8,61.1" fill="url(#spikeB)"/>
<polygon points="331.1,52.7 331.5,44.1 332.0,41.9 332.4,44.1 332.9,52.7" fill="url(#spikeB)"/>
<polygon points="337.1,48.7 337.8,37.3 338.6,34.5 339.3,37.3 340.0,48.7" fill="url(#spikeB)"/>
<polygon points="334.2,63.4 334.7,56.0 335.2,54.1 335.7,56.0 336.3,63.4" fill="url(#spikeB)"/>
<polygon points="355.1,47.7 355.7,39.6 356.4,37.6 357.1,39.6 357.8,47.7" fill="url(#spikeB)"/>
<polygon points="343.2,76.3 343.7,68.8 344.1,66.9 344.5,68.8 344.9,76.3" fill="url(#spikeB)"/>
<polygon points="332.5,75.3 333.1,61.0 333.7,57.4 334.3,61.0 334.9,75.3" fill="url(#spikeB)"/>
<polygon points="348.4,75.5 349.0,63.8 349.7,60.9 350.3,63.8 350.9,75.5" fill="url(#spikeB)"/>
<polygon points="342.6,77.8 343.0,67.3 343.5,64.7 343.9,67.3 344.4,77.8" fill="url(#spikeB)"/>
<polygon points="348.8,47.7 349.3,35.1 349.8,31.9 350.3,35.1 350.8,47.7" fill="url(#spikeB)"/>
<polygon points="338.6,48.6 339.1,35.1 339.6,31.7 340.1,35.1 340.7,48.6" fill="url(#spikeB)"/>
<polygon points="335.1,51.0 335.8,40.2 336.5,37.5 337.3,40.2 338.0,51.0" fill="url(#spikeB)"/>
<polygon points="327.5,66.0 327.9,55.2 328.4,52.5 328.8,55.2 329.2,66.0" fill="url(#spikeB)"/>
<polygon points="328.7,66.6 329.1,52.9 329.5,49.4 330.0,52.9 330.4,66.6" fill="url(#spikeB)"/>
<polygon points="337.3,76.1 337.8,65.9 338.3,63.3 338.7,65.9 339.2,76.1" fill="url(#spikeB)"/>
<polygon points="335.4,74.2 336.0,63.7 336.6,61.1 337.2,63.7 337.8,74.2" fill="url(#spikeB)"/>
<polygon points="350.0,49.3 350.6,41.3 351.3,39.3 351.9,41.3 352.5,49.3" fill="url(#spikeB)"/>
<polygon points="335.8,75.5 336.3,64.7 336.9,62.0 337.5,64.7 338.1,75.5" fill="url(#spikeB)"/>
<polygon points="342.6,73.5 343.1,63.1 343.7,60.6 344.2,63.1 344.7,73.5" fill="url(#spikeB)"/>
<polygon points="332.9,73.2 333.4,62.1 333.9,59.3 334.5,62.1 335.0,73.2" fill="url(#spikeB)"/>
<polygon points="332.1,67.8 332.6,54.1 333.2,50.7 333.7,54.1 334.3,67.8" fill="url(#spikeB)"/>
<polygon points="361.8,46.1 362.5,40.9 363.2,39.6 364.0,40.9 364.7,46.1" fill="url(#spikeB)"/>
<polygon points="359.5,79.6 360.1,76.1 360.8,75.2 361.4,76.1 362.1,79.6" fill="url(#spikeB)"/>
<polygon points="363.0,43.7 363.7,37.6 364.3,36.0 364.9,37.6 365.5,43.7" fill="url(#spikeB)"/>
<polygon points="367.5,52.7 368.2,45.4 368.8,43.6 369.5,45.4 370.1,52.7" fill="url(#spikeB)"/>
<polygon points="368.0,67.5 368.7,62.1 369.4,60.7 370.1,62.1 370.8,67.5" fill="url(#spikeB)"/>
<polygon points="370.2,62.2 370.8,56.8 371.5,55.5 372.2,56.8 372.8,62.2" fill="url(#spikeB)"/>
<polygon points="359.1,79.0 359.6,74.0 360.1,72.8 360.6,74.0 361.1,79.0" fill="url(#spikeB)"/>
<polygon points="363.5,74.4 364.1,69.6 364.8,68.5 365.5,69.6 366.2,74.4" fill="url(#spikeB)"/>
<polygon points="372.0,54.4 372.5,49.0 372.9,47.6 373.4,49.0 373.9,54.4" fill="url(#spikeB)"/>
<polygon points="369.7,62.7 370.1,56.1 370.6,54.5 371.1,56.1 371.5,62.7" fill="url(#spikeB)"/>
<polygon points="371.9,67.3 372.7,59.3 373.4,57.3 374.2,59.3 374.9,67.3" fill="url(#spikeB)"/>
<polygon points="362.4,75.2 362.8,67.6 363.2,65.7 363.6,67.6 364.1,75.2" fill="url(#spikeB)"/>
<polygon points="376.4,58.3 377.0,53.9 377.7,52.8 378.3,53.9 379.0,58.3" fill="url(#spikeB)"/>
<polygon points="369.6,67.1 370.3,61.3 370.9,59.8 371.6,61.3 372.2,67.1" fill="url(#spikeB)"/>
<polygon points="364.1,47.9 364.8,41.1 365.5,39.4 366.2,41.1 366.9,47.9" fill="url(#spikeB)"/>
<polygon points="367.0,47.7 367.5,43.8 368.1,42.8 368.6,43.8 369.1,47.7" fill="url(#spikeB)"/>
<polygon points="365.0,46.8 365.6,41.3 366.2,39.9 366.8,41.3 367.3,46.8" fill="url(#spikeB)"/>
<polygon points="360.4,77.0 361.1,71.6 361.8,70.3 362.5,71.6 363.3,77.0" fill="url(#spikeB)"/>
<polygon points="369.7,73.0 370.4,66.8 371.0,65.2 371.7,66.8 372.3,73.0" fill="url(#spikeB)"/>
<polygon points="358.9,81.0 359.3,75.4 359.8,74.0 360.2,75.4 360.6,81.0" fill="url(#spikeB)"/>
<polygon points="333.6,78.6 334.1,72.7 334.6,71.2 335.2,72.7 335.7,78.6" fill="url(#spikeB)"/>
<polygon points="345.1,60.0 345.5,53.7 345.9,52.1 346.2,53.7 346.6,60.0" fill="url(#spikeB)"/>
<polygon points="336.9,68.5 337.4,58.4 337.9,55.9 338.3,58.4 338.8,68.5" fill="url(#spikeB)"/>
<polygon points="334.1,75.4 334.6,67.4 335.0,65.4 335.5,67.4 335.9,75.4" fill="url(#spikeB)"/>
<polygon points="344.9,46.4 345.2,40.4 345.6,38.9 345.9,40.4 346.3,46.4" fill="url(#spikeB)"/>
<polygon points="336.6,62.2 337.0,56.2 337.3,54.7 337.7,56.2 338.0,62.2" fill="url(#spikeB)"/>
<polygon points="333.6,58.1 334.0,50.5 334.4,48.5 334.7,50.5 335.1,58.1" fill="url(#spikeB)"/>
<polygon points="340.4,68.5 340.8,61.5 341.3,59.8 341.8,61.5 342.3,68.5" fill="url(#spikeB)"/>
<polygon points="335.2,58.5 335.7,51.3 336.2,49.5 336.7,51.3 337.3,58.5" fill="url(#spikeB)"/>
<polygon points="345.4,56.8 345.8,47.7 346.2,45.4 346.6,47.7 347.0,56.8" fill="url(#spikeB)"/>
<polygon points="347.1,49.7 347.5,41.1 347.9,38.9 348.4,41.1 348.8,49.7" fill="url(#spikeB)"/>
<polygon points="337.5,59.1 338.0,53.1 338.4,51.6 338.9,53.1 339.4,59.1" fill="url(#spikeB)"/>
<polygon points="347.5,81.1 347.9,75.6 348.3,74.2 348.6,75.6 349.0,81.1" fill="url(#spikeB)"/>
<polygon points="338.7,80.2 339.1,70.7 339.6,68.3 340.0,70.7 340.4,80.2" fill="url(#spikeB)"/>
<polygon points="348.1,77.8 348.7,70.5 349.2,68.6 349.8,70.5 350.4,77.8" fill="url(#spikeB)"/>
<polygon points="345.7,71.0 346.3,61.3 346.8,58.8 347.4,61.3 348.0,71.0" fill="url(#spikeB)"/>
<polygon points="344.1,69.7 344.7,62.0 345.3,60.0 345.8,62.0 346.4,69.7" fill="url(#spikeB)"/>
<polygon points="336.8,77.3 337.3,71.0 337.7,69.4 338.1,71.0 338.5,77.3" fill="url(#spikeB)"/>
<polygon points="336.0,78.2 336.4,68.7 336.8,66.3 337.3,68.7 337.7,78.2" fill="url(#spikeB)"/>
<polygon points="334.6,71.0 335.2,65.3 335.7,63.9 336.3,65.3 336.9,71.0" fill="url(#spikeB)"/>
<polygon points="304.8,62.0 305.4,50.8 306.0,48.0 306.6,50.8 307.2,62.0" fill="url(#spikeB)"/>
<polygon points="313.8,88.0 314.4,78.4 315.0,76.0 315.6,78.4 316.2,88.0" fill="url(#spikeB)"/>
<polygon points="338.8,95.0 339.4,87.0 340.0,85.0 340.6,87.0 341.2,95.0" fill="url(#spikeB)"/>
<polygon points="400.8,88.0 401.4,80.0 402.0,78.0 402.6,80.0 403.2,88.0" fill="url(#spikeB)"/>
<polygon points="418.8,75.0 419.4,67.0 420.0,65.0 420.6,67.0 421.2,75.0" fill="url(#spikeB)"/>
<polygon points="299.0,20.0 299.5,12.0 300.0,10.0 300.5,12.0 301.0,20.0" fill="url(#spikeB)"/>
<polygon points="312.0,22.0 312.5,12.4 313.0,10.0 313.5,12.4 314.0,22.0" fill="url(#spikeB)"/>
<polygon points="387.9,93.0 389.0,82.5 390.1,93.0" fill="url(#spikeB)"/>
<polygon points="367.9,76.3 369.1,71.6 370.3,76.3" fill="url(#spikeB)"/>
<polygon points="379.1,85.9 379.8,79.2 380.4,85.9" fill="url(#spikeB)"/>
<polygon points="371.4,94.7 372.6,85.2 373.8,94.7" fill="url(#spikeB)"/>
<polygon points="336.3,52.1 337.0,40.8 337.6,52.1" fill="url(#spikeB)"/>
<polygon points="413.4,87.3 414.1,69.5 414.8,87.3" fill="url(#spikeB)"/>
<polygon points="320.8,109.8 321.6,104.3 322.4,109.8" fill="url(#spikeB)"/>
<polygon points="345.4,80.6 346.5,77.1 347.5,80.6" fill="url(#spikeB)"/>
<polygon points="381.7,78.6 383.1,75.6 384.4,78.6" fill="url(#spikeB)"/>
<polygon points="344.2,58.3 345.1,50.2 345.9,58.3" fill="url(#spikeB)"/>
<polygon points="392.6,25.5 393.4,17.8 394.1,25.5" fill="url(#spikeB)"/>
<polygon points="383.2,96.6 384.0,81.2 384.7,96.6" fill="url(#spikeB)"/>
<polygon points="383.7,95.5 384.7,91.9 385.7,95.5" fill="url(#spikeB)"/>
<polygon points="389.1,78.8 390.3,72.5 391.4,78.8" fill="url(#spikeB)"/>
<polygon points="370.2,44.3 371.3,34.5 372.4,44.3" fill="url(#spikeB)"/>
<polygon points="379.4,58.2 380.4,53.4 381.4,58.2" fill="url(#spikeB)"/>
<polygon points="396.3,22.3 396.9,18.9 397.6,22.3" fill="url(#spikeB)"/>
<polygon points="415.4,98.1 416.3,94.2 417.1,98.1" fill="url(#spikeB)"/>
<polygon points="320.3,80.0 321.6,73.3 322.9,80.0" fill="url(#spikeB)"/>
<polygon points="331.4,105.7 332.7,99.3 334.1,105.7" fill="url(#spikeB)"/>
<polygon points="406.2,92.3 407.3,85.3 408.5,92.3" fill="url(#spikeB)"/>
<polygon points="350.8,32.1 352.2,25.1 353.7,32.1" fill="url(#spikeB)"/>
<polygon points="388.6,7.4 389.5,-2.7 390.4,7.4" fill="url(#spikeB)"/>
<polygon points="296.3,38.5 297.7,25.4 299.2,38.5" fill="url(#spikeB)"/>
<polygon points="352.6,51.1 353.9,44.0 355.3,51.1" fill="url(#spikeB)"/>
<polygon points="369.5,15.5 370.8,11.8 372.2,15.5" fill="url(#spikeB)"/>
<polygon points="359.0,77.4 360.2,64.7 361.3,77.4" fill="url(#spikeB)"/>
<polygon points="385.3,60.4 386.1,56.6 386.9,60.4" fill="url(#spikeB)"/>
<polygon points="398.2,4.1 399.6,-6.5 401.0,4.1" fill="url(#spikeB)"/>
<polygon points="305.5,27.5 306.4,22.0 307.3,27.5" fill="url(#spikeB)"/>
<polygon points="347.5,56.8 348.2,39.6 348.9,56.8" fill="url(#spikeB)"/>
<polygon points="393.8,8.7 394.7,-8.4 395.6,8.7" fill="url(#spikeB)"/>
<polygon points="365.1,10.4 366.3,4.2 367.5,10.4" fill="url(#spikeB)"/>
<polygon points="381.2,87.4 382.1,84.1 383.1,87.4" fill="url(#spikeB)"/>
<polygon points="352.1,15.7 353.1,1.5 354.1,15.7" fill="url(#spikeB)"/>
<polygon points="313.7,43.4 314.3,33.6 314.9,43.4" fill="url(#spikeB)"/>
<polygon points="315.7,51.1 316.9,47.0 318.2,51.1" fill="url(#spikeB)"/>
<polygon points="380.2,97.5 381.1,86.6 382.0,97.5" fill="url(#spikeB)"/>
<polygon points="319.4,32.1 320.5,28.1 321.7,32.1" fill="url(#spikeB)"/>
<polygon points="375.7,37.4 377.0,32.5 378.3,37.4" fill="url(#spikeB)"/>
<text x="280" y="41.2" font-size="12" fill="#fff" text-anchor="start" font-family="Liberation Serif" font-weight="bold" transform="rotate(-13 280 41.2)"><tspan dy="0.00">6%-MoS</tspan><tspan dy="3.36" font-size="8.16">2</tspan><tspan dy="-3.36">/Zn</tspan><tspan dy="3.36" font-size="8.16">3</tspan><tspan dy="-3.36">In</tspan><tspan dy="3.36" font-size="8.16">4</tspan><tspan dy="-3.36">S</tspan><tspan dy="3.36" font-size="8.16">9</tspan><tspan dy="-3.36">-dark</tspan></text>
<line x1="378.9" y1="59.6" x2="329.3" y2="59.6" stroke="#f4f224" stroke-width="1.9"/>
<polygon points="325.3,59.6 331.5,56.6 331.5,62.6" fill="#f4f224"/>
<rect x="458.3" y="19.2" width="8.300000000000011" height="64.2" fill="url(#cbar)"/>
<text x="461.5" y="15.8" font-size="8" fill="#000" text-anchor="middle" font-family="Liberation Serif" font-weight="bold" >9.5 mV</text>
<text x="458" y="94.2" font-size="8" fill="#000" text-anchor="middle" font-family="Liberation Serif" font-weight="bold" >-10.1 mV</text>
</g>
<g>
<text x="232.2" y="147.3" font-size="15" fill="#000" text-anchor="start" font-family="Liberation Serif" font-weight="bold" >d</text>
<line x1="279.5" y1="157.4" x2="279.5" y2="191.2" stroke="#333" stroke-width="0.7"/>
<line x1="277" y1="157.4" x2="279.5" y2="157.4" stroke="#333" stroke-width="0.7"/>
<line x1="277" y1="173.3" x2="279.5" y2="173.3" stroke="#333" stroke-width="0.7"/>
<line x1="277" y1="191.2" x2="279.5" y2="191.2" stroke="#333" stroke-width="0.7"/>
<text x="275.9" y="159.7" font-size="8" fill="#000" text-anchor="end" font-family="Liberation Serif" font-weight="bold" >493.2 mV</text>
<text x="275.9" y="176.1" font-size="8" fill="#000" text-anchor="end" font-family="Liberation Serif" font-weight="bold" >406.5 mV</text>
<text x="273" y="193.5" font-size="8" fill="#000" text-anchor="end" font-family="Liberation Serif" font-weight="bold" >3 µm</text>
<polyline points="279.5,191.2 304.8,277.6 442.7,263.2" fill="none" stroke="#333" stroke-width="0.7"/>
<line x1="285.1" y1="220.0" x2="287.9" y2="220.0" stroke="#333" stroke-width="0.7"/>
<line x1="293.6" y1="248.8" x2="296.4" y2="248.8" stroke="#333" stroke-width="0.7"/>
<line x1="350.8" y1="272.8" x2="350.8" y2="275.6" stroke="#333" stroke-width="0.7"/>
<line x1="396.7" y1="268.0" x2="396.7" y2="270.8" stroke="#333" stroke-width="0.7"/>
<line x1="442.7" y1="263.2" x2="442.7" y2="266.0" stroke="#333" stroke-width="0.7"/>
<text x="280" y="222.5" font-size="8" fill="#000" text-anchor="middle" font-family="Liberation Serif" font-weight="bold" >2</text>
<text x="288.4" y="251.9" font-size="8" fill="#000" text-anchor="middle" font-family="Liberation Serif" font-weight="bold" >1</text>
<text x="352.1" y="283" font-size="8" fill="#000" text-anchor="middle" font-family="Liberation Serif" font-weight="bold" >1</text>
<text x="400.4" y="277.6" font-size="8" fill="#000" text-anchor="middle" font-family="Liberation Serif" font-weight="bold" >2</text>
<text x="441.5" y="272.6" font-size="8" fill="#000" text-anchor="start" font-family="Liberation Serif" font-weight="bold" >3 µm</text>
<polygon points="281.0,164.3 282.5,166.7 284.0,163.8 285.5,168.9 287.0,165.6 288.6,166.8 290.1,164.1 291.6,167.6 293.1,163.3 294.6,165.0 296.1,162.7 297.6,165.1 299.1,165.2 300.6,162.8 302.2,161.5 303.7,164.9 305.2,161.2 306.7,161.2 308.2,165.5 309.7,162.8 311.2,162.0 312.7,160.4 314.2,161.9 315.8,164.9 317.3,162.5 318.8,162.3 320.3,162.1 321.8,159.1 323.3,162.6 324.8,163.2 326.3,161.2 327.8,160.3 329.4,158.3 330.9,160.3 332.4,162.0 333.9,157.8 335.4,160.2 336.9,159.0 338.4,160.0 339.9,161.3 341.4,158.3 343.0,157.6 344.5,160.9 346.0,159.1 347.5,159.5 349.0,160.5 350.5,160.0 352.0,155.3 353.5,155.6 355.0,158.5 356.6,156.1 358.1,160.1 359.6,154.7 361.1,156.8 362.6,154.9 364.1,158.0 365.6,157.2 367.1,157.1 368.6,153.2 370.2,156.3 371.7,155.7 373.2,152.7 374.7,152.9 376.2,155.7 377.7,156.1 379.2,152.9 380.7,156.9 382.2,155.0 383.8,151.9 385.3,151.5 386.8,155.4 388.3,156.1 389.8,151.7 391.3,152.5 392.8,154.6 394.3,152.8 395.8,155.2 397.4,151.3 398.9,152.1 400.4,150.8 401.9,154.4 403.4,150.8 404.9,152.3 406.4,151.3 407.9,152.1 409.4,150.1 411.0,150.3 412.5,149.9 414.0,153.0 415.5,151.8 417.0,152.6 440.0,248.0 440.0,248.0 438.5,248.2 437.0,248.4 435.5,248.7 434.0,248.9 432.4,249.1 430.9,249.3 429.4,249.6 427.9,249.8 426.4,250.0 424.9,250.2 423.4,250.4 421.9,250.7 420.4,250.9 418.8,251.1 417.3,251.3 415.8,251.6 414.3,251.8 412.8,252.0 411.3,252.2 409.8,252.4 408.3,252.7 406.8,252.9 405.2,253.1 403.7,253.3 402.2,253.6 400.7,253.8 399.2,254.0 397.7,254.2 396.2,254.4 394.7,254.7 393.2,254.9 391.6,255.1 390.1,255.3 388.6,255.6 387.1,255.8 385.6,256.0 384.1,256.2 382.6,256.4 381.1,256.7 379.6,256.9 378.0,257.1 376.5,257.3 375.0,257.6 373.5,257.8 372.0,258.0 370.5,258.2 369.0,258.4 367.5,258.7 366.0,258.9 364.4,259.1 362.9,259.3 361.4,259.6 359.9,259.8 358.4,260.0 356.9,260.2 355.4,260.4 353.9,260.7 352.4,260.9 350.8,261.1 349.3,261.3 347.8,261.6 346.3,261.8 344.8,262.0 343.3,262.2 341.8,262.4 340.3,262.7 338.8,262.9 337.2,263.1 335.7,263.3 334.2,263.6 332.7,263.8 331.2,264.0 329.7,264.2 328.2,264.4 326.7,264.7 325.2,264.9 323.6,265.1 322.1,265.3 320.6,265.6 319.1,265.8 317.6,266.0 316.1,266.2 314.6,266.4 313.1,266.7 311.6,266.9 310.0,267.1 308.5,267.3 307.0,267.6 305.5,267.8 304.0,268.0" fill="#9234b0" />
<polygon points="281.0,164.3 282.5,166.7 284.0,163.8 285.5,168.9 287.0,165.6 288.6,166.8 290.1,164.1 291.6,167.6 293.1,163.3 294.6,165.0 296.1,162.7 297.6,165.1 299.1,165.2 300.6,162.8 302.2,161.5 303.7,164.9 305.2,161.2 306.7,161.2 308.2,165.5 309.7,162.8 311.2,162.0 312.7,160.4 314.2,161.9 315.8,164.9 317.3,162.5 318.8,162.3 320.3,162.1 321.8,159.1 323.3,162.6 324.8,163.2 326.3,161.2 327.8,160.3 329.4,158.3 330.9,160.3 332.4,162.0 333.9,157.8 335.4,160.2 336.9,159.0 338.4,160.0 339.9,161.3 341.4,158.3 343.0,157.6 344.5,160.9 346.0,159.1 347.5,159.5 349.0,160.5 350.5,160.0 352.0,155.3 353.5,155.6 355.0,158.5 356.6,156.1 358.1,160.1 359.6,154.7 361.1,156.8 362.6,154.9 364.1,158.0 365.6,157.2 367.1,157.1 368.6,153.2 370.2,156.3 371.7,155.7 373.2,152.7 374.7,152.9 376.2,155.7 377.7,156.1 379.2,152.9 380.7,156.9 382.2,155.0 383.8,151.9 385.3,151.5 386.8,155.4 388.3,156.1 389.8,151.7 391.3,152.5 392.8,154.6 394.3,152.8 395.8,155.2 397.4,151.3 398.9,152.1 400.4,150.8 401.9,154.4 403.4,150.8 404.9,152.3 406.4,151.3 407.9,152.1 409.4,150.1 411.0,150.3 412.5,149.9 414.0,153.0 415.5,151.8 417.0,152.6 440.0,248.0 440.0,248.0 438.5,248.2 437.0,248.4 435.5,248.7 434.0,248.9 432.4,249.1 430.9,249.3 429.4,249.6 427.9,249.8 426.4,250.0 424.9,250.2 423.4,250.4 421.9,250.7 420.4,250.9 418.8,251.1 417.3,251.3 415.8,251.6 414.3,251.8 412.8,252.0 411.3,252.2 409.8,252.4 408.3,252.7 406.8,252.9 405.2,253.1 403.7,253.3 402.2,253.6 400.7,253.8 399.2,254.0 397.7,254.2 396.2,254.4 394.7,254.7 393.2,254.9 391.6,255.1 390.1,255.3 388.6,255.6 387.1,255.8 385.6,256.0 384.1,256.2 382.6,256.4 381.1,256.7 379.6,256.9 378.0,257.1 376.5,257.3 375.0,257.6 373.5,257.8 372.0,258.0 370.5,258.2 369.0,258.4 367.5,258.7 366.0,258.9 364.4,259.1 362.9,259.3 361.4,259.6 359.9,259.8 358.4,260.0 356.9,260.2 355.4,260.4 353.9,260.7 352.4,260.9 350.8,261.1 349.3,261.3 347.8,261.6 346.3,261.8 344.8,262.0 343.3,262.2 341.8,262.4 340.3,262.7 338.8,262.9 337.2,263.1 335.7,263.3 334.2,263.6 332.7,263.8 331.2,264.0 329.7,264.2 328.2,264.4 326.7,264.7 325.2,264.9 323.6,265.1 322.1,265.3 320.6,265.6 319.1,265.8 317.6,266.0 316.1,266.2 314.6,266.4 313.1,266.7 311.6,266.9 310.0,267.1 308.5,267.3 307.0,267.6 305.5,267.8 304.0,268.0" fill="#fff" filter="url(#noiseB)" opacity="0.9"/>
<linearGradient id="fg2" gradientUnits="userSpaceOnUse" x1="301.8" y1="252.8" x2="304.6" y2="272.2"><stop offset="0" stop-color="#9234b0" stop-opacity="0"/><stop offset="0.45" stop-color="#d84868" stop-opacity="1"/><stop offset="0.72" stop-color="#f0a040" stop-opacity="1"/><stop offset="1" stop-color="#f0f040" stop-opacity="1"/></linearGradient>
<polygon points="301.8,252.8 303.3,252.5 304.8,252.3 306.3,252.1 307.8,251.9 309.3,251.7 310.8,251.4 312.3,251.2 313.8,251.0 315.4,250.8 316.9,250.5 318.4,250.3 319.9,250.1 321.4,249.9 322.9,249.7 324.4,249.4 325.9,249.2 327.4,249.0 329.0,248.8 330.5,248.5 332.0,248.3 333.5,248.1 335.0,247.9 336.5,247.7 338.0,247.4 339.5,247.2 341.0,247.0 342.6,246.8 344.1,246.5 345.6,246.3 347.1,246.1 348.6,245.9 350.1,245.7 351.6,245.4 353.1,245.2 354.6,245.0 356.2,244.8 357.7,244.5 359.2,244.3 360.7,244.1 362.2,243.9 363.7,243.7 365.2,243.4 366.7,243.2 368.2,243.0 369.8,242.8 371.3,242.5 372.8,242.3 374.3,242.1 375.8,241.9 377.3,241.7 378.8,241.4 380.3,241.2 381.8,241.0 383.4,240.8 384.9,240.5 386.4,240.3 387.9,240.1 389.4,239.9 390.9,239.7 392.4,239.4 393.9,239.2 395.4,239.0 397.0,238.8 398.5,238.5 400.0,238.3 401.5,238.1 403.0,237.9 404.5,237.7 406.0,237.4 407.5,237.2 409.0,237.0 410.6,236.8 412.1,236.5 413.6,236.3 415.1,236.1 416.6,235.9 418.1,235.7 419.6,235.4 421.1,235.2 422.6,235.0 424.2,234.8 425.7,234.5 427.2,234.3 428.7,234.1 430.2,233.9 431.7,233.7 433.2,233.4 434.7,233.2 436.2,233.0 437.8,232.8 440.0,250.4 438.5,251.3 437.0,249.2 435.5,252.9 434.0,252.0 432.4,252.3 430.9,253.1 429.4,255.4 427.9,253.5 426.4,250.6 424.9,251.1 423.4,254.8 421.9,252.7 420.4,255.6 418.8,254.3 417.3,253.7 415.8,256.2 414.3,252.9 412.8,253.8 411.3,254.1 409.8,255.1 408.3,258.4 406.8,258.0 405.2,258.3 403.7,257.3 402.2,253.6 400.7,255.6 399.2,257.2 397.7,259.9 396.2,256.7 394.7,258.1 393.2,260.2 391.6,257.3 390.1,260.0 388.6,259.3 387.1,259.1 385.6,260.0 384.1,259.3 382.6,257.2 381.1,262.3 379.6,263.0 378.0,262.4 376.5,259.6 375.0,261.5 373.5,262.6 372.0,258.4 370.5,263.2 369.0,259.0 367.5,264.6 366.0,260.4 364.4,265.2 362.9,260.8 361.4,262.9 359.9,265.0 358.4,266.2 356.9,264.7 355.4,265.7 353.9,263.1 352.4,265.6 350.8,263.5 349.3,267.2 347.8,266.4 346.3,264.2 344.8,266.9 343.3,262.6 341.8,268.3 340.3,267.0 338.8,265.0 337.2,267.2 335.7,268.3 334.2,267.5 332.7,269.4 331.2,266.6 329.7,266.2 328.2,266.8 326.7,266.4 325.2,267.9 323.6,269.9 322.1,270.8 320.6,269.5 319.1,270.7 317.6,272.1 316.1,270.4 314.6,267.0 313.1,270.6 311.6,267.0 310.0,271.4 308.5,273.6 307.0,270.6 305.5,273.7 304.0,268.1" fill="url(#fg2)" />
<line x1="435.3" y1="239.9" x2="435.3" y2="247.5" stroke="#f08040" stroke-width="0.8" opacity="0.7"/>
<line x1="344.6" y1="250.0" x2="344.6" y2="260.4" stroke="#b03890" stroke-width="0.8" opacity="0.7"/>
<line x1="322.0" y1="258.5" x2="322.0" y2="264.4" stroke="#e04868" stroke-width="0.8" opacity="0.7"/>
<line x1="405.5" y1="245.0" x2="405.5" y2="252.0" stroke="#b03890" stroke-width="0.8" opacity="0.7"/>
<line x1="388.7" y1="245.5" x2="388.7" y2="254.2" stroke="#b03890" stroke-width="0.8" opacity="0.7"/>
<line x1="322.2" y1="250.4" x2="322.2" y2="263.3" stroke="#b03890" stroke-width="0.8" opacity="0.7"/>
<line x1="425.0" y1="236.0" x2="425.0" y2="248.3" stroke="#b03890" stroke-width="0.8" opacity="0.7"/>
<line x1="414.2" y1="235.1" x2="414.2" y2="249.6" stroke="#b03890" stroke-width="0.8" opacity="0.7"/>
<line x1="416.2" y1="241.9" x2="416.2" y2="250.2" stroke="#f08040" stroke-width="0.8" opacity="0.7"/>
<line x1="372.5" y1="238.2" x2="372.5" y2="255.3" stroke="#b03890" stroke-width="0.8" opacity="0.7"/>
<line x1="399.0" y1="236.9" x2="399.0" y2="251.7" stroke="#e04868" stroke-width="0.8" opacity="0.7"/>
<line x1="318.4" y1="246.8" x2="318.4" y2="263.3" stroke="#b03890" stroke-width="0.8" opacity="0.7"/>
<line x1="343.8" y1="243.8" x2="343.8" y2="259.7" stroke="#e04868" stroke-width="0.8" opacity="0.7"/>
<line x1="367.7" y1="250.3" x2="367.7" y2="257.5" stroke="#e04868" stroke-width="0.8" opacity="0.7"/>
<line x1="413.5" y1="241.3" x2="413.5" y2="250.5" stroke="#f08040" stroke-width="0.8" opacity="0.7"/>
<line x1="412.2" y1="240.3" x2="412.2" y2="250.5" stroke="#f08040" stroke-width="0.8" opacity="0.7"/>
<line x1="424.4" y1="236.5" x2="424.4" y2="248.5" stroke="#b03890" stroke-width="0.8" opacity="0.7"/>
<line x1="408.9" y1="231.7" x2="408.9" y2="249.8" stroke="#b03890" stroke-width="0.8" opacity="0.7"/>
<line x1="400.9" y1="242.9" x2="400.9" y2="252.3" stroke="#e04868" stroke-width="0.8" opacity="0.7"/>
<line x1="431.9" y1="229.3" x2="431.9" y2="246.5" stroke="#f08040" stroke-width="0.8" opacity="0.7"/>
<line x1="338.1" y1="252.9" x2="338.1" y2="261.6" stroke="#e04868" stroke-width="0.8" opacity="0.7"/>
<line x1="389.1" y1="246.3" x2="389.1" y2="254.3" stroke="#e04868" stroke-width="0.8" opacity="0.7"/>
<line x1="399.9" y1="242.9" x2="399.9" y2="252.4" stroke="#e04868" stroke-width="0.8" opacity="0.7"/>
<line x1="337.5" y1="243.2" x2="337.5" y2="260.4" stroke="#b03890" stroke-width="0.8" opacity="0.7"/>
<line x1="349.1" y1="254.6" x2="349.1" y2="260.5" stroke="#e04868" stroke-width="0.8" opacity="0.7"/>
<line x1="415.0" y1="242.9" x2="415.0" y2="250.5" stroke="#e04868" stroke-width="0.8" opacity="0.7"/>
<line x1="338.1" y1="242.1" x2="338.1" y2="260.2" stroke="#b03890" stroke-width="0.8" opacity="0.7"/>
<line x1="391.4" y1="240.8" x2="391.4" y2="253.2" stroke="#f08040" stroke-width="0.8" opacity="0.7"/>
<line x1="367.7" y1="239.1" x2="367.7" y2="256.0" stroke="#b03890" stroke-width="0.8" opacity="0.7"/>
<line x1="355.8" y1="247.4" x2="355.8" y2="258.7" stroke="#e04868" stroke-width="0.8" opacity="0.7"/>
<line x1="397.1" y1="237.3" x2="397.1" y2="252.0" stroke="#b03890" stroke-width="0.8" opacity="0.7"/>
<line x1="317.3" y1="256.2" x2="317.3" y2="264.7" stroke="#e04868" stroke-width="0.8" opacity="0.7"/>
<line x1="349.4" y1="243.7" x2="349.4" y2="259.0" stroke="#e04868" stroke-width="0.8" opacity="0.7"/>
<line x1="430.1" y1="237.2" x2="430.1" y2="247.8" stroke="#b03890" stroke-width="0.8" opacity="0.7"/>
<line x1="361.0" y1="251.2" x2="361.0" y2="258.5" stroke="#e04868" stroke-width="0.8" opacity="0.7"/>
<line x1="426.2" y1="229.7" x2="426.2" y2="247.3" stroke="#b03890" stroke-width="0.8" opacity="0.7"/>
<line x1="403.8" y1="234.1" x2="403.8" y2="250.8" stroke="#f08040" stroke-width="0.8" opacity="0.7"/>
<line x1="418.2" y1="240.1" x2="418.2" y2="249.7" stroke="#f08040" stroke-width="0.8" opacity="0.7"/>
<line x1="407.0" y1="235.4" x2="407.0" y2="250.5" stroke="#e04868" stroke-width="0.8" opacity="0.7"/>
<line x1="418.2" y1="235.0" x2="418.2" y2="249.0" stroke="#f08040" stroke-width="0.8" opacity="0.7"/>
<line x1="337.9" y1="256.0" x2="337.9" y2="262.1" stroke="#f08040" stroke-width="0.8" opacity="0.7"/>
<line x1="330.6" y1="244.5" x2="330.6" y2="261.5" stroke="#e04868" stroke-width="0.8" opacity="0.7"/>
<line x1="376.5" y1="240.3" x2="376.5" y2="255.1" stroke="#e04868" stroke-width="0.8" opacity="0.7"/>
<line x1="411.5" y1="233.2" x2="411.5" y2="249.6" stroke="#b03890" stroke-width="0.8" opacity="0.7"/>
<line x1="380.2" y1="239.3" x2="380.2" y2="254.5" stroke="#f08040" stroke-width="0.8" opacity="0.7"/>
<line x1="363.8" y1="242.6" x2="363.8" y2="257.0" stroke="#b03890" stroke-width="0.8" opacity="0.7"/>
<line x1="433.6" y1="239.1" x2="433.6" y2="247.6" stroke="#e04868" stroke-width="0.8" opacity="0.7"/>
<line x1="369.4" y1="239.0" x2="369.4" y2="255.8" stroke="#e04868" stroke-width="0.8" opacity="0.7"/>
<line x1="375.0" y1="248.2" x2="375.0" y2="256.3" stroke="#f08040" stroke-width="0.8" opacity="0.7"/>
<line x1="368.1" y1="245.8" x2="368.1" y2="256.9" stroke="#b03890" stroke-width="0.8" opacity="0.7"/>
<line x1="314.0" y1="253.9" x2="314.0" y2="264.9" stroke="#e04868" stroke-width="0.8" opacity="0.7"/>
<line x1="363.0" y1="241.6" x2="363.0" y2="257.0" stroke="#b03890" stroke-width="0.8" opacity="0.7"/>
<line x1="430.2" y1="243.1" x2="430.2" y2="248.6" stroke="#e04868" stroke-width="0.8" opacity="0.7"/>
<line x1="323.4" y1="251.4" x2="323.4" y2="263.3" stroke="#b03890" stroke-width="0.8" opacity="0.7"/>
<line x1="420.1" y1="239.4" x2="420.1" y2="249.4" stroke="#b03890" stroke-width="0.8" opacity="0.7"/>
<line x1="342.9" y1="247.2" x2="342.9" y2="260.3" stroke="#b03890" stroke-width="0.8" opacity="0.7"/>
<line x1="403.6" y1="239.1" x2="403.6" y2="251.5" stroke="#f08040" stroke-width="0.8" opacity="0.7"/>
<line x1="404.6" y1="244.9" x2="404.6" y2="252.1" stroke="#e04868" stroke-width="0.8" opacity="0.7"/>
<line x1="348.9" y1="243.5" x2="348.9" y2="259.0" stroke="#e04868" stroke-width="0.8" opacity="0.7"/>
<line x1="316.8" y1="249.9" x2="316.8" y2="264.0" stroke="#f08040" stroke-width="0.8" opacity="0.7"/>
<line x1="428.5" y1="240.9" x2="428.5" y2="248.5" stroke="#e04868" stroke-width="0.8" opacity="0.7"/>
<line x1="304.6" y1="247.6" x2="304.6" y2="265.2" stroke="#b03890" stroke-width="0.8" opacity="0.7"/>
<line x1="386.9" y1="245.7" x2="386.9" y2="254.5" stroke="#b03890" stroke-width="0.8" opacity="0.7"/>
<line x1="363.4" y1="246.6" x2="363.4" y2="257.6" stroke="#e04868" stroke-width="0.8" opacity="0.7"/>
<line x1="372.9" y1="244.0" x2="372.9" y2="256.0" stroke="#b03890" stroke-width="0.8" opacity="0.7"/>
<line x1="337.8" y1="254.6" x2="337.8" y2="261.9" stroke="#e04868" stroke-width="0.8" opacity="0.7"/>
<line x1="415.5" y1="243.1" x2="415.5" y2="250.5" stroke="#e04868" stroke-width="0.8" opacity="0.7"/>
<line x1="316.0" y1="250.3" x2="316.0" y2="264.1" stroke="#f08040" stroke-width="0.8" opacity="0.7"/>
<line x1="363.1" y1="245.6" x2="363.1" y2="257.5" stroke="#e04868" stroke-width="0.8" opacity="0.7"/>
<line x1="346.2" y1="245.3" x2="346.2" y2="259.6" stroke="#b03890" stroke-width="0.8" opacity="0.7"/>
<polygon points="405.7,162.1 406.7,155.6 407.6,162.1" fill="#6a30c0"/>
<polygon points="401.6,157.0 402.4,146.1 403.3,157.0" fill="#6a30c0"/>
<polygon points="401.8,157.2 402.7,152.7 403.6,157.2" fill="#6a30c0"/>
<polygon points="359.4,169.6 360.1,164.9 360.8,169.6" fill="#6a30c0"/>
<polygon points="366.9,162.5 367.6,152.6 368.2,162.5" fill="#6a30c0"/>
<polygon points="281.5,176.9 282.6,172.5 283.8,176.9" fill="#6a30c0"/>
<polygon points="295.3,174.1 296.2,167.6 297.0,174.1" fill="#6a30c0"/>
<polygon points="289.6,175.0 290.2,170.9 290.7,175.0" fill="#6a30c0"/>
<polygon points="404.3,158.6 404.8,154.5 405.3,158.6" fill="#6a30c0"/>
<polygon points="399.1,163.9 400.1,156.0 401.2,163.9" fill="#6a30c0"/>
<polygon points="319.2,171.8 319.9,164.0 320.6,171.8" fill="#6a30c0"/>
<polygon points="381.0,165.7 381.9,159.8 382.9,165.7" fill="#6a30c0"/>
<polygon points="284.4,174.5 285.2,169.8 285.9,174.5" fill="#6a30c0"/>
<polygon points="407.6,163.4 408.5,159.4 409.4,163.4" fill="#6a30c0"/>
<polygon points="308.5,173.7 309.1,163.1 309.7,173.7" fill="#6a30c0"/>
<polygon points="333.1,168.1 334.1,160.6 335.2,168.1" fill="#6a30c0"/>
<polygon points="286.4,172.9 287.5,167.9 288.7,172.9" fill="#6a30c0"/>
<polygon points="385.0,163.8 385.8,153.3 386.6,163.8" fill="#6a30c0"/>
<polygon points="389.3,160.3 390.4,155.8 391.6,160.3" fill="#6a30c0"/>
<polygon points="392.7,162.9 393.5,158.7 394.2,162.9" fill="#6a30c0"/>
<polygon points="407.0,159.7 407.7,155.7 408.3,159.7" fill="#6a30c0"/>
<polygon points="362.1,168.6 362.8,163.2 363.4,168.6" fill="#6a30c0"/>
<polygon points="388.7,160.9 389.6,156.4 390.5,160.9" fill="#6a30c0"/>
<polygon points="351.9,169.9 352.8,164.4 353.8,169.9" fill="#6a30c0"/>
<polygon points="343.9,169.4 344.5,159.8 345.1,169.4" fill="#6a30c0"/>
<polygon points="403.7,163.7 404.3,158.8 404.8,163.7" fill="#6a30c0"/>
<polygon points="344.0,169.4 344.7,165.1 345.3,169.4" fill="#6a30c0"/>
<polygon points="331.1,172.8 332.1,166.3 333.1,172.8" fill="#6a30c0"/>
<polygon points="361.3,167.2 362.2,161.9 363.0,167.2" fill="#6a30c0"/>
<polygon points="296.3,178.0 297.4,173.8 298.5,178.0" fill="#6a30c0"/>
<polygon points="367.8,167.0 368.7,161.0 369.6,167.0" fill="#6a30c0"/>
<polygon points="326.8,166.8 327.8,160.0 328.7,166.8" fill="#6a30c0"/>
<polygon points="326.9,173.5 327.7,163.5 328.4,173.5" fill="#6a30c0"/>
<polygon points="343.6,165.8 344.3,158.2 344.9,165.8" fill="#6a30c0"/>
<polygon points="324.8,174.0 325.9,169.9 327.0,174.0" fill="#6a30c0"/>
<polygon points="356.6,164.0 357.5,155.4 358.4,164.0" fill="#6a30c0"/>
<polygon points="386.9,161.7 387.5,157.0 388.0,161.7" fill="#6a30c0"/>
<polygon points="298.8,173.9 299.3,168.8 299.9,173.9" fill="#6a30c0"/>
<polygon points="307.1,172.6 307.6,168.6 308.1,172.6" fill="#6a30c0"/>
<polygon points="370.5,161.4 371.6,156.2 372.8,161.4" fill="#6a30c0"/>
<polygon points="293.0,173.5 294.0,169.3 295.1,173.5" fill="#6a30c0"/>
<polygon points="350.3,163.9 351.4,155.8 352.6,163.9" fill="#6a30c0"/>
<polygon points="387.7,160.3 388.7,149.4 389.7,160.3" fill="#6a30c0"/>
<polygon points="332.0,166.3 332.6,160.3 333.1,166.3" fill="#6a30c0"/>
<polygon points="299.0,174.9 299.9,166.9 300.9,174.9" fill="#6a30c0"/>
<polygon points="343.2,170.8 343.7,161.7 344.2,170.8" fill="#6a30c0"/>
<polygon points="382.0,165.7 382.8,159.1 383.6,165.7" fill="#6a30c0"/>
<polygon points="385.5,159.1 386.4,149.4 387.2,159.1" fill="#6a30c0"/>
<polygon points="361.1,167.2 361.8,161.6 362.5,167.2" fill="#6a30c0"/>
<polygon points="313.9,169.1 315.0,165.1 316.1,169.1" fill="#6a30c0"/>
<polygon points="413.8,160.7 414.5,156.1 415.3,160.7" fill="#6a30c0"/>
<polygon points="391.2,161.9 392.3,156.8 393.3,161.9" fill="#6a30c0"/>
<polygon points="317.2,168.2 318.3,163.1 319.5,168.2" fill="#6a30c0"/>
<polygon points="416.2,156.8 416.8,148.5 417.4,156.8" fill="#6a30c0"/>
<polygon points="369.9,161.7 370.9,157.4 372.0,161.7" fill="#6a30c0"/>
<polygon points="296.0,174.1 297.2,169.3 298.4,174.1" fill="#6a30c0"/>
<polygon points="384.6,161.2 385.5,150.4 386.5,161.2" fill="#6a30c0"/>
<polygon points="301.7,171.6 302.8,163.0 304.0,171.6" fill="#6a30c0"/>
<polygon points="286.0,175.9 287.0,171.6 288.0,175.9" fill="#6a30c0"/>
<polygon points="282.0,177.7 283.0,171.7 283.9,177.7" fill="#6a30c0"/>
<polygon points="347.3,169.0 347.8,160.1 348.4,169.0" fill="#6a30c0"/>
<polygon points="326.7,167.8 327.7,162.3 328.6,167.8" fill="#6a30c0"/>
<polygon points="337.0,171.2 337.6,167.2 338.2,171.2" fill="#6a30c0"/>
<polygon points="298.8,170.4 299.8,163.8 300.8,170.4" fill="#6a30c0"/>
<polygon points="330.4,171.3 331.3,166.4 332.2,171.3" fill="#6a30c0"/>
<polygon points="286.1,174.0 287.1,170.0 288.1,174.0" fill="#6a30c0"/>
<polygon points="372.0,167.3 372.8,157.9 373.7,167.3" fill="#6a30c0"/>
<polygon points="300.1,171.9 301.1,165.1 302.0,171.9" fill="#6a30c0"/>
<polygon points="375.9,160.8 377.0,156.7 378.0,160.8" fill="#6a30c0"/>
<polygon points="292.1,174.6 293.2,169.2 294.3,174.6" fill="#6a30c0"/>
<polygon points="293.4,176.3 294.4,171.5 295.4,176.3" fill="#6a30c0"/>
<polygon points="303.3,174.1 304.3,166.1 305.3,174.1" fill="#6a30c0"/>
<polygon points="385.6,163.6 386.6,157.8 387.6,163.6" fill="#6a30c0"/>
<polygon points="297.8,175.2 298.6,171.0 299.4,175.2" fill="#6a30c0"/>
<polygon points="343.3,165.0 344.3,160.7 345.3,165.0" fill="#6a30c0"/>
<polygon points="367.9,164.9 368.7,157.6 369.5,164.9" fill="#6a30c0"/>
<polygon points="346.0,167.2 346.5,159.2 347.1,167.2" fill="#6a30c0"/>
<polygon points="390.5,158.3 391.7,153.5 392.8,158.3" fill="#6a30c0"/>
<polygon points="311.3,171.0 312.4,166.8 313.5,171.0" fill="#6a30c0"/>
<polygon points="305.2,172.0 305.8,167.2 306.5,172.0" fill="#6a30c0"/>
<polygon points="356.3,165.3 357.1,155.1 357.9,165.3" fill="#6a30c0"/>
<polygon points="377.7,160.0 378.6,151.1 379.5,160.0" fill="#6a30c0"/>
<polygon points="322.2,171.2 322.8,167.2 323.4,171.2" fill="#6a30c0"/>
<polygon points="377.3,163.5 378.3,153.9 379.3,163.5" fill="#6a30c0"/>
<polygon points="409.2,162.5 410.3,158.4 411.3,162.5" fill="#6a30c0"/>
<polygon points="375.2,161.6 375.9,157.4 376.6,161.6" fill="#6a30c0"/>
<polygon points="390.8,161.2 391.7,155.2 392.5,161.2" fill="#6a30c0"/>
<polygon points="366.5,164.6 367.6,160.6 368.8,164.6" fill="#6a30c0"/>
<polygon points="357.7,162.6 358.9,158.3 360.1,162.6" fill="#6a30c0"/>
<polygon points="411.5,159.6 412.3,154.7 413.1,159.6" fill="#6a30c0"/>
<polygon points="326.9,170.2 327.5,163.5 328.1,170.2" fill="#6a30c0"/>
<polygon points="412.4,157.1 413.3,153.1 414.2,157.1" fill="#6a30c0"/>
<polygon points="330.4,171.7 331.3,167.5 332.1,171.7" fill="#6a30c0"/>
<polygon points="299.4,176.2 300.6,171.8 301.7,176.2" fill="#6a30c0"/>
<polygon points="312.1,172.7 313.2,167.4 314.4,172.7" fill="#6a30c0"/>
<polygon points="331.0,170.4 331.6,160.8 332.2,170.4" fill="#6a30c0"/>
<polygon points="350.6,170.2 351.2,165.7 351.8,170.2" fill="#6a30c0"/>
<polygon points="362.9,168.2 363.7,158.6 364.6,168.2" fill="#6a30c0"/>
<polygon points="308.4,168.6 309.0,163.5 309.6,168.6" fill="#6a30c0"/>
<polygon points="363.4,167.2 364.0,159.8 364.7,167.2" fill="#6a30c0"/>
<polygon points="416.3,161.1 417.3,154.1 418.4,161.1" fill="#6a30c0"/>
<polygon points="410.9,158.5 411.7,150.0 412.5,158.5" fill="#6a30c0"/>
<polygon points="338.1,172.7 339.0,168.5 339.8,172.7" fill="#6a30c0"/>
<polygon points="391.7,163.2 392.7,158.0 393.8,163.2" fill="#6a30c0"/>
<polygon points="315.5,171.9 316.2,166.0 316.8,171.9" fill="#6a30c0"/>
<polygon points="308.0,175.5 309.2,171.4 310.3,175.5" fill="#6a30c0"/>
<polygon points="329.6,173.6 330.5,165.9 331.3,173.6" fill="#6a30c0"/>
<polygon points="401.0,157.8 402.1,151.5 403.1,157.8" fill="#6a30c0"/>
<polygon points="381.3,161.9 382.5,157.8 383.7,161.9" fill="#6a30c0"/>
<polygon points="407.1,158.8 407.7,149.7 408.3,158.8" fill="#6a30c0"/>
<polygon points="322.1,174.7 323.0,170.6 324.0,174.7" fill="#6a30c0"/>
<polygon points="383.7,165.6 384.3,155.4 384.9,165.6" fill="#6a30c0"/>
<polygon points="381.8,164.7 382.4,158.8 383.1,164.7" fill="#6a30c0"/>
<polygon points="398.1,160.2 398.8,153.0 399.6,160.2" fill="#6a30c0"/>
<polygon points="343.7,171.9 344.8,167.5 345.9,171.9" fill="#6a30c0"/>
<polygon points="292.9,178.2 293.7,171.3 294.4,178.2" fill="#6a30c0"/>
<polygon points="391.3,164.1 392.3,153.5 393.3,164.1" fill="#6a30c0"/>
<polygon points="387.8,161.7 388.8,152.8 389.9,161.7" fill="#6a30c0"/>
<polygon points="349.5,165.4 350.4,154.6 351.2,165.4" fill="#6a30c0"/>
<polygon points="392.1,158.6 392.7,153.9 393.4,158.6" fill="#6a30c0"/>
<polygon points="383.7,162.3 384.5,153.6 385.2,162.3" fill="#6a30c0"/>
<polygon points="326.9,168.9 327.8,164.4 328.7,168.9" fill="#6a30c0"/>
<polygon points="354.2,170.1 354.8,165.1 355.4,170.1" fill="#6a30c0"/>
<polygon points="402.6,164.3 403.1,158.1 403.7,164.3" fill="#6a30c0"/>
<polygon points="351.2,164.8 352.0,159.9 352.8,164.8" fill="#6a30c0"/>
<polygon points="290.2,175.0 290.9,169.1 291.6,175.0" fill="#6a30c0"/>
<polygon points="296.3,174.8 297.5,167.6 298.7,174.8" fill="#6a30c0"/>
<polygon points="365.7,163.0 366.2,158.7 366.7,163.0" fill="#6a30c0"/>
<polygon points="294.7,176.8 295.5,172.8 296.4,176.8" fill="#6a30c0"/>
<polygon points="309.3,173.6 310.2,165.2 311.1,173.6" fill="#6a30c0"/>
<polygon points="376.7,160.3 377.2,156.2 377.8,160.3" fill="#6a30c0"/>
<polygon points="315.8,167.7 316.9,159.7 318.0,167.7" fill="#6a30c0"/>
<polygon points="384.9,161.0 385.9,155.8 386.8,161.0" fill="#6a30c0"/>
<polygon points="304.7,171.5 305.6,164.1 306.4,171.5" fill="#6a30c0"/>
<polygon points="333.9,167.1 334.6,158.7 335.3,167.1" fill="#6a30c0"/>
<polygon points="338.5,169.1 339.6,164.9 340.7,169.1" fill="#6a30c0"/>
<polygon points="325.2,172.5 325.8,165.5 326.4,172.5" fill="#6a30c0"/>
<polygon points="282.6,175.5 283.2,167.5 283.8,175.5" fill="#6a30c0"/>
<polygon points="390.0,159.8 390.6,154.9 391.2,159.8" fill="#6a30c0"/>
<polygon points="303.1,174.1 303.6,166.3 304.1,174.1" fill="#6a30c0"/>
<polygon points="394.8,162.0 395.7,155.8 396.5,162.0" fill="#6a30c0"/>
<polygon points="299.4,177.3 300.0,167.9 300.6,177.3" fill="#6a30c0"/>
<polygon points="321.5,168.3 322.3,163.0 323.1,168.3" fill="#6a30c0"/>
<polygon points="409.9,161.0 411.0,150.8 412.1,161.0" fill="#6a30c0"/>
<polygon points="304.4,175.1 305.0,168.6 305.6,175.1" fill="#6a30c0"/>
<polygon points="357.5,167.9 358.7,163.8 359.8,167.9" fill="#6a30c0"/>
<polygon points="411.5,163.4 412.2,159.4 413.0,163.4" fill="#6a30c0"/>
<polygon points="303.8,170.1 304.6,163.6 305.4,170.1" fill="#6a30c0"/>
<polygon points="369.3,167.0 370.3,161.7 371.4,167.0" fill="#6a30c0"/>
<polygon points="399.6,164.9 400.3,160.9 401.1,164.9" fill="#6a30c0"/>
<polygon points="281.0,170.0 304.0,268.0 307.5,268.0 284.5,172.0" fill="url(#lfy)" />
<text x="288" y="180.5" font-size="11.9" fill="#fff" text-anchor="start" font-family="Liberation Serif" font-weight="bold" transform="rotate(-5.6 288 180.5)"><tspan dy="0.00">6%-MoS</tspan><tspan dy="3.33" font-size="8.09">2</tspan><tspan dy="-3.33">/Zn</tspan><tspan dy="3.33" font-size="8.09">3</tspan><tspan dy="-3.33">In</tspan><tspan dy="3.33" font-size="8.09">4</tspan><tspan dy="-3.33">S</tspan><tspan dy="3.33" font-size="8.09">9</tspan><tspan dy="-3.33">-light</tspan></text>
<line x1="389.4" y1="209" x2="340.9" y2="209" stroke="#f4f224" stroke-width="1.9"/>
<polygon points="336.9,209 343.09999999999997,206 343.09999999999997,212" fill="#f4f224"/>
<rect x="459.1" y="171.4" width="7.0" height="62.400000000000006" fill="url(#cbar)"/>
<text x="462.3" y="167" font-size="8" fill="#000" text-anchor="middle" font-family="Liberation Serif" font-weight="bold" >493.2 mV</text>
<text x="460.5" y="243" font-size="8" fill="#000" text-anchor="middle" font-family="Liberation Serif" font-weight="bold" >319.8 mV</text>
</g>
<rect x="503.5" y="5" width="152.0" height="114.6" fill="#f3f3f5"/>
<text x="476" y="8.5" font-size="15" fill="#000" text-anchor="start" font-family="Liberation Serif" font-weight="bold" >e</text>
<polyline points="503.5,100.1 505.0,86.0 506.5,83.4 507.9,79.3 509.4,72.1 510.9,88.4 512.4,74.8 513.8,89.4 515.3,72.7 516.8,82.4 518.3,69.7 519.7,83.1 521.2,78.1 522.7,91.2 524.2,66.2 525.6,103.2 527.1,63.9 528.6,81.0 530.1,75.6 531.5,80.8 533.0,69.6 534.5,84.7 536.0,93.8 537.4,85.5 538.9,72.4 540.4,82.2 541.9,65.0 543.3,83.5 544.8,69.3 546.3,89.3 547.8,63.3 549.2,96.3 550.7,71.2 552.2,86.4 553.7,63.2 555.2,92.6 556.6,63.8 558.1,95.3 559.6,64.5 561.1,94.9 562.5,64.7 564.0,86.6 565.5,67.2 567.0,87.3 568.4,70.5 569.9,93.2 571.4,72.0 572.9,92.3 574.3,65.2 575.8,92.8 577.3,66.9 578.8,84.7 580.2,58.9 581.7,98.1 583.2,60.1 584.7,100.7 586.1,69.1 587.6,92.6 589.1,65.1 590.6,97.2 592.0,69.0 593.5,91.3 595.0,48.9 596.5,95.1 597.9,62.5 599.4,86.9 600.9,65.9 602.4,91.6 603.8,65.7 605.3,94.1 606.8,68.0 608.3,97.2 609.8,62.6 611.2,92.2 612.7,66.3 614.2,90.7 615.7,63.1 617.1,102.7 618.6,66.9 620.1,93.8 621.6,100.1 623.0,96.2 624.5,59.6 626.0,86.9 627.5,62.3 628.9,92.4 630.4,62.1 631.9,86.2 633.4,63.3 634.8,93.2 636.3,73.5 637.8,86.8 639.3,67.3 640.7,96.1 642.2,61.4 643.7,90.0 645.2,72.3 646.6,92.3 648.1,66.9 649.6,86.5 651.1,74.5 652.5,93.7 654.0,66.3 655.5,84.3" fill="none" stroke="#f02828" stroke-width="0.9" stroke-linejoin="round" />
<polyline points="503.5,117.0 504.5,118.0 505.4,117.2 506.4,116.3 507.3,116.0 508.3,115.4 509.2,116.2 510.2,116.8 511.1,115.9 512.1,116.4 513.1,116.5 514.0,116.4 515.0,115.7 515.9,116.9 516.9,117.0 517.8,116.4 518.8,116.4 519.8,116.9 520.7,116.9 521.7,116.2 522.6,115.7 523.6,116.0 524.5,116.0 525.5,115.7 526.4,117.5 527.4,117.2 528.4,116.8 529.3,117.1 530.3,116.9 531.2,116.4 532.2,117.1 533.1,116.6 534.1,117.5 535.0,116.9 536.0,115.7 537.0,116.7 537.9,116.2 538.9,116.0 539.8,116.7 540.8,116.1 541.7,116.3 542.7,116.0 543.7,116.6 544.6,115.7 545.6,111.8 546.5,108.8 547.5,110.5 548.4,114.7 549.4,116.4 550.3,116.5 551.3,115.8 552.3,116.7 553.2,115.6 554.2,117.1 555.1,116.7 556.1,115.9 557.0,116.1 558.0,116.9 558.9,116.5 559.9,116.8 560.9,115.9 561.8,116.1 562.8,116.8 563.7,116.2 564.7,116.6 565.6,116.4 566.6,116.4 567.6,116.7 568.5,116.2 569.5,116.1 570.4,116.2 571.4,115.8 572.3,116.6 573.3,117.2 574.2,116.7 575.2,116.3 576.2,116.4 577.1,116.1 578.1,116.0 579.0,116.5 580.0,116.5 580.9,116.9 581.9,115.8 582.8,116.5 583.8,117.0 584.8,117.0 585.7,116.6 586.7,115.5 587.6,116.0 588.6,117.3 589.5,116.5 590.5,116.3 591.4,116.1 592.4,116.2 593.4,116.8 594.3,116.2 595.3,116.7 596.2,117.6 597.2,116.8 598.1,116.8 599.1,115.9 600.1,115.8 601.0,117.0 602.0,116.3 602.9,116.4 603.9,117.2 604.8,117.5 605.8,116.5 606.7,116.3 607.7,116.7 608.7,117.9 609.6,116.4 610.6,116.7 611.5,116.9 612.5,116.6 613.4,117.0 614.4,116.1 615.3,116.4 616.3,116.7 617.3,116.2 618.2,116.4 619.2,117.2 620.1,116.5 621.1,116.7 622.0,117.4 623.0,116.8 624.0,116.2 624.9,116.7 625.9,115.6 626.8,115.5 627.8,116.6 628.7,116.1 629.7,115.3 630.6,116.6 631.6,116.9 632.6,116.6 633.5,117.2 634.5,117.1 635.4,116.3 636.4,116.6 637.3,116.3 638.3,116.1 639.2,116.8 640.2,116.5 641.2,116.5 642.1,116.8 643.1,116.9 644.0,116.2 645.0,116.5 645.9,116.2 646.9,115.8 647.9,115.8 648.8,117.0 649.8,116.9 650.7,116.5 651.7,116.3 652.6,115.9 653.6,116.9 654.5,116.6 655.5,116.3" fill="none" stroke="#2222ff" stroke-width="1" stroke-linejoin="round" />
<line x1="507.5" y1="107.7" x2="655.5" y2="107.7" stroke="#2222ff" stroke-width="1" stroke-dasharray="3,2"/>
<polygon points="504.5,107.7 510.5,105.2 510.5,110.2" fill="#2222ff"/>
<line x1="503.5" y1="49.6" x2="650.5" y2="49.6" stroke="#f02828" stroke-width="1" stroke-dasharray="3,2"/>
<polygon points="654.5,49.6 648.5,47.1 648.5,52.1" fill="#f02828"/>
<line x1="519.5" y1="53" x2="519.5" y2="84" stroke="#f02828" stroke-width="1.5"/>
<polygon points="519.5,49.6 517,55.5 522,55.5" fill="#f02828"/>
<line x1="519.5" y1="82" x2="519.5" y2="104" stroke="#2222ff" stroke-width="1.5"/>
<polygon points="519.5,107.7 517,101.8 522,101.8" fill="#2222ff"/>
<line x1="545.8" y1="107.3" x2="557" y2="103.4" stroke="#2222ff" stroke-width="0.9"/>
<polygon points="560,102.6 554.5,102.2 556,106" fill="#2222ff"/>
<text x="509.3" y="46.5" font-size="9.4" fill="#f02828" text-anchor="start" font-family="Liberation Serif" font-weight="bold" >ΔCPD = 410.1 mV</text>
<text x="591.5" y="47.5" font-size="7.7" fill="#000" text-anchor="start" font-family="Liberation Serif" font-weight="bold" >CPD = 414.6 mV</text>
<text x="562.5" y="104.3" font-size="7.6" fill="#000" text-anchor="start" font-family="Liberation Serif" font-weight="bold" >CPD = 4.5 mV</text>
<line x1="507.6" y1="14.1" x2="520.8" y2="14.1" stroke="#2222ff" stroke-width="1"/>
<text x="522.4" y="17.6" font-size="9.5" fill="#000" text-anchor="start" font-family="Liberation Serif" font-weight="bold" ><tspan dy="0.00">Zn</tspan><tspan dy="2.66" font-size="6.46">3</tspan><tspan dy="-2.66">In</tspan><tspan dy="2.66" font-size="6.46">4</tspan><tspan dy="-2.66">S</tspan><tspan dy="2.66" font-size="6.46">9</tspan><tspan dy="-2.66"> (dark)</tspan></text>
<line x1="507.6" y1="26.3" x2="520.8" y2="26.3" stroke="#f02828" stroke-width="1"/>
<text x="524" y="29.8" font-size="9.4" fill="#000" text-anchor="start" font-family="Liberation Serif" font-weight="bold" ><tspan dy="0.00">Zn</tspan><tspan dy="2.63" font-size="6.39">3</tspan><tspan dy="-2.63">In</tspan><tspan dy="2.63" font-size="6.39">4</tspan><tspan dy="-2.63">S</tspan><tspan dy="2.63" font-size="6.39">9</tspan><tspan dy="-2.63"> (Light)</tspan></text>
<line x1="503.5" y1="5" x2="655.5" y2="5" stroke="#666" stroke-width="1"/>
<line x1="503.5" y1="119.6" x2="655.5" y2="119.6" stroke="#333" stroke-width="1"/>
<line x1="503.5" y1="5" x2="503.5" y2="119.6" stroke="#2222ff" stroke-width="1"/>
<line x1="655.5" y1="5" x2="655.5" y2="119.6" stroke="#f02828" stroke-width="1"/>
<line x1="501.0" y1="116" x2="503.5" y2="116" stroke="#2222ff" stroke-width="1"/>
<text x="500.0" y="119.1" font-size="9.3" fill="#2222ff" text-anchor="end" font-family="Liberation Serif" font-weight="bold" >0</text>
<line x1="501.0" y1="88.3" x2="503.5" y2="88.3" stroke="#2222ff" stroke-width="1"/>
<text x="500.0" y="91.39999999999999" font-size="9.3" fill="#2222ff" text-anchor="end" font-family="Liberation Serif" font-weight="bold" >15</text>
<line x1="501.0" y1="60.6" x2="503.5" y2="60.6" stroke="#2222ff" stroke-width="1"/>
<text x="500.0" y="63.7" font-size="9.3" fill="#2222ff" text-anchor="end" font-family="Liberation Serif" font-weight="bold" >30</text>
<line x1="501.0" y1="32.9" x2="503.5" y2="32.9" stroke="#2222ff" stroke-width="1"/>
<text x="500.0" y="36.0" font-size="9.3" fill="#2222ff" text-anchor="end" font-family="Liberation Serif" font-weight="bold" >45</text>
<line x1="501.0" y1="5.2" x2="503.5" y2="5.2" stroke="#2222ff" stroke-width="1"/>
<text x="500.0" y="8.3" font-size="9.3" fill="#2222ff" text-anchor="end" font-family="Liberation Serif" font-weight="bold" >60</text>
<line x1="655.5" y1="109.5" x2="658.0" y2="109.5" stroke="#f02828" stroke-width="1"/>
<text x="658.5" y="112.6" font-size="9.3" fill="#f02828" text-anchor="start" font-family="Liberation Serif" font-weight="bold" >300</text>
<line x1="655.5" y1="83.3" x2="658.0" y2="83.3" stroke="#f02828" stroke-width="1"/>
<text x="658.5" y="86.39999999999999" font-size="9.3" fill="#f02828" text-anchor="start" font-family="Liberation Serif" font-weight="bold" >350</text>
<line x1="655.5" y1="57.2" x2="658.0" y2="57.2" stroke="#f02828" stroke-width="1"/>
<text x="658.5" y="60.300000000000004" font-size="9.3" fill="#f02828" text-anchor="start" font-family="Liberation Serif" font-weight="bold" >400</text>
<line x1="655.5" y1="31" x2="658.0" y2="31" stroke="#f02828" stroke-width="1"/>
<text x="658.5" y="34.1" font-size="9.3" fill="#f02828" text-anchor="start" font-family="Liberation Serif" font-weight="bold" >450</text>
<line x1="655.5" y1="5" x2="658.0" y2="5" stroke="#f02828" stroke-width="1"/>
<text x="658.5" y="8.1" font-size="9.3" fill="#f02828" text-anchor="start" font-family="Liberation Serif" font-weight="bold" >500</text>
<line x1="503.5" y1="119.6" x2="503.5" y2="122.1" stroke="#333" stroke-width="0.8"/>
<text x="503.5" y="131.3" font-size="9.3" fill="#000" text-anchor="middle" font-family="Liberation Serif" font-weight="bold" >0.0</text>
<line x1="516.2" y1="119.6" x2="516.2" y2="121.1" stroke="#333" stroke-width="0.8"/>
<line x1="528.8" y1="119.6" x2="528.8" y2="122.1" stroke="#333" stroke-width="0.8"/>
<text x="528.8333333333334" y="131.3" font-size="9.3" fill="#000" text-anchor="middle" font-family="Liberation Serif" font-weight="bold" >0.2</text>
<line x1="541.5" y1="119.6" x2="541.5" y2="121.1" stroke="#333" stroke-width="0.8"/>
<line x1="554.2" y1="119.6" x2="554.2" y2="122.1" stroke="#333" stroke-width="0.8"/>
<text x="554.1666666666666" y="131.3" font-size="9.3" fill="#000" text-anchor="middle" font-family="Liberation Serif" font-weight="bold" >0.4</text>
<line x1="566.8" y1="119.6" x2="566.8" y2="121.1" stroke="#333" stroke-width="0.8"/>
<line x1="579.5" y1="119.6" x2="579.5" y2="122.1" stroke="#333" stroke-width="0.8"/>
<text x="579.5" y="131.3" font-size="9.3" fill="#000" text-anchor="middle" font-family="Liberation Serif" font-weight="bold" >0.6</text>
<line x1="592.2" y1="119.6" x2="592.2" y2="121.1" stroke="#333" stroke-width="0.8"/>
<line x1="604.8" y1="119.6" x2="604.8" y2="122.1" stroke="#333" stroke-width="0.8"/>
<text x="604.8333333333334" y="131.3" font-size="9.3" fill="#000" text-anchor="middle" font-family="Liberation Serif" font-weight="bold" >0.8</text>
<line x1="617.5" y1="119.6" x2="617.5" y2="121.1" stroke="#333" stroke-width="0.8"/>
<line x1="630.2" y1="119.6" x2="630.2" y2="122.1" stroke="#333" stroke-width="0.8"/>
<text x="630.1666666666666" y="131.3" font-size="9.3" fill="#000" text-anchor="middle" font-family="Liberation Serif" font-weight="bold" >1.0</text>
<line x1="642.8" y1="119.6" x2="642.8" y2="121.1" stroke="#333" stroke-width="0.8"/>
<line x1="655.5" y1="119.6" x2="655.5" y2="122.1" stroke="#333" stroke-width="0.8"/>
<text x="655.5" y="131.3" font-size="9.3" fill="#000" text-anchor="middle" font-family="Liberation Serif" font-weight="bold" >1.2</text>
<text x="579.5" y="145.5" font-size="9.3" fill="#000" text-anchor="middle" font-family="Liberation Serif" font-weight="bold" >Distance (µm)</text>
<text x="485.8" y="62.2" font-size="9.4" fill="#2222ff" text-anchor="middle" font-family="Liberation Serif" font-weight="bold" transform="rotate(-90 485.8 62.2)"><tspan dy="0.00">Potential (mV)</tspan></text>
<text x="682.5" y="61" font-size="9.4" fill="#f02828" text-anchor="middle" font-family="Liberation Serif" font-weight="bold" transform="rotate(-90 682.5 61)"><tspan dy="0.00">Potential (mV)</tspan></text>
<rect x="503.5" y="153.3" width="152.10000000000002" height="118.0" fill="#f3f3f5"/>
<text x="477.2" y="147" font-size="15" fill="#000" text-anchor="start" font-family="Liberation Serif" font-weight="bold" >f</text>
<polyline points="503.5,225.4 505.0,234.8 506.5,197.3 507.9,230.9 509.4,211.2 510.9,224.7 512.4,201.7 513.8,227.2 515.3,189.3 516.8,229.4 518.3,208.0 519.7,235.6 521.2,194.5 522.7,240.6 524.2,199.4 525.7,228.7 527.1,208.5 528.6,230.1 530.1,197.5 531.6,236.1 533.0,204.2 534.5,227.7 536.0,209.5 537.5,236.8 538.9,194.9 540.4,230.6 541.9,258.4 543.4,231.1 544.8,188.6 546.3,240.9 547.8,195.8 549.3,226.3 550.8,202.2 552.2,227.3 553.7,205.4 555.2,188.2 556.7,190.0 558.1,248.3 559.6,202.5 561.1,230.3 562.6,205.1 564.0,228.9 565.5,207.8 567.0,227.4 568.5,203.0 570.0,231.5 571.4,198.1 572.9,225.2 574.4,207.4 575.9,226.1 577.3,195.4 578.8,231.9 580.3,191.2 581.8,236.1 583.2,204.6 584.7,228.7 586.2,205.5 587.7,222.2 589.1,258.4 590.6,220.1 592.1,207.9 593.6,237.3 595.1,192.5 596.5,237.9 598.0,194.2 599.5,236.4 601.0,199.4 602.4,223.7 603.9,201.5 605.4,238.6 606.9,204.2 608.3,223.8 609.8,199.8 611.3,226.6 612.8,200.5 614.3,229.3 615.7,202.3 617.2,237.7 618.7,197.6 620.2,230.0 621.6,213.8 623.1,231.1 624.6,194.8 626.1,218.7 627.5,209.8 629.0,227.4 630.5,226.9 632.0,224.4 633.4,224.5 634.9,222.4 636.4,221.6 637.9,231.4 639.4,204.5 640.8,229.2 642.3,244.1 643.8,229.2 645.3,201.6 646.7,186.1 648.2,190.2 649.7,231.6 651.2,253.4 652.6,188.9 654.1,204.5 655.6,241.8" fill="none" stroke="#f02828" stroke-width="0.9" stroke-linejoin="round" />
<polyline points="503.5,261.5 504.5,261.4 505.4,261.5 506.4,261.5 507.3,260.9 508.3,261.5 509.2,261.5 510.2,261.7 511.2,260.7 512.1,261.5 513.1,261.4 514.0,261.7 515.0,261.2 515.9,261.7 516.9,261.6 517.8,262.2 518.8,262.0 519.8,261.2 520.7,261.0 521.7,262.1 522.6,261.2 523.6,261.2 524.5,259.9 525.5,261.8 526.5,261.6 527.4,261.8 528.4,260.9 529.3,260.8 530.3,261.4 531.2,260.6 532.2,260.4 533.2,261.5 534.1,261.1 535.1,261.4 536.0,261.6 537.0,261.5 537.9,261.4 538.9,261.9 539.9,261.3 540.8,260.9 541.8,261.7 542.7,261.5 543.7,261.7 544.6,261.1 545.6,261.4 546.5,260.9 547.5,261.4 548.5,262.0 549.4,261.0 550.4,261.4 551.3,260.8 552.3,261.0 553.2,262.5 554.2,262.2 555.2,261.3 556.1,261.6 557.1,262.3 558.0,261.4 559.0,260.3 559.9,259.7 560.9,258.7 561.9,256.2 562.8,254.6 563.8,255.5 564.7,256.4 565.7,259.4 566.6,259.5 567.6,260.4 568.5,261.0 569.5,261.3 570.5,262.0 571.4,263.9 572.4,265.3 573.3,266.1 574.3,264.9 575.2,262.9 576.2,261.7 577.2,261.8 578.1,261.6 579.1,262.0 580.0,261.1 581.0,261.7 581.9,260.9 582.9,261.6 583.9,260.7 584.8,260.6 585.8,260.6 586.7,260.8 587.7,261.4 588.6,261.4 589.6,261.6 590.6,261.2 591.5,260.5 592.5,261.8 593.4,260.2 594.4,261.6 595.3,261.8 596.3,261.1 597.2,260.8 598.2,261.5 599.2,261.8 600.1,260.5 601.1,261.8 602.0,260.9 603.0,261.2 603.9,261.5 604.9,261.3 605.9,261.8 606.8,261.8 607.8,261.2 608.7,261.8 609.7,261.6 610.6,260.7 611.6,260.5 612.6,260.8 613.5,260.9 614.5,261.4 615.4,261.3 616.4,261.6 617.3,262.6 618.3,261.2 619.2,261.2 620.2,260.9 621.2,261.8 622.1,260.8 623.1,261.5 624.0,261.9 625.0,261.4 625.9,260.9 626.9,261.3 627.9,261.1 628.8,261.7 629.8,261.1 630.7,260.9 631.7,261.7 632.6,261.1 633.6,261.9 634.6,261.2 635.5,262.0 636.5,261.1 637.4,261.3 638.4,261.8 639.3,261.1 640.3,261.7 641.3,261.3 642.2,261.7 643.2,261.1 644.1,261.6 645.1,260.7 646.0,261.1 647.0,261.1 647.9,261.9 648.9,262.2 649.9,261.7 650.8,260.5 651.8,261.7 652.7,260.8 653.7,260.7 654.6,261.6 655.6,261.4" fill="none" stroke="#2222ff" stroke-width="1" stroke-linejoin="round" />
<line x1="507.5" y1="254.4" x2="655.6" y2="254.4" stroke="#2222ff" stroke-width="1" stroke-dasharray="3,2"/>
<polygon points="504.5,254.4 510.5,251.9 510.5,256.9" fill="#2222ff"/>
<line x1="503.5" y1="185.7" x2="650.6" y2="185.7" stroke="#f02828" stroke-width="1" stroke-dasharray="3,2"/>
<polygon points="654.6,185.7 648.6,183.2 648.6,188.2" fill="#f02828"/>
<line x1="637.9" y1="189" x2="637.9" y2="224" stroke="#f02828" stroke-width="1.5"/>
<polygon points="637.9,185.7 635.4,191.6 640.4,191.6" fill="#f02828"/>
<line x1="637.9" y1="222" x2="637.9" y2="251" stroke="#2222ff" stroke-width="1.5"/>
<polygon points="637.9,254.4 635.4,248.5 640.4,248.5" fill="#2222ff"/>
<line x1="563.8" y1="262" x2="563.8" y2="257" stroke="#2222ff" stroke-width="0.9"/>
<polygon points="563.8,253.5 561.6,258.5 566,258.5" fill="#2222ff"/>
<text x="505" y="192.6" font-size="7.3" fill="#000" text-anchor="start" font-family="Liberation Serif" font-weight="bold" >CPD = 459.3 mV</text>
<text x="561" y="195.5" font-size="9.45" fill="#f02828" text-anchor="start" font-family="Liberation Serif" font-weight="bold" >ΔCPD = 451.6 mV</text>
<text x="523.2" y="269.4" font-size="7.45" fill="#000" text-anchor="start" font-family="Liberation Serif" font-weight="bold" >CPD = 7.7 mV</text>
<line x1="506" y1="162.3" x2="518.5" y2="162.3" stroke="#2222ff" stroke-width="1"/>
<text x="519.8" y="165.6" font-size="9.2" fill="#000" text-anchor="start" font-family="Liberation Serif" font-weight="bold" ><tspan dy="0.00">6%-MoS</tspan><tspan dy="2.58" font-size="6.26">2</tspan><tspan dy="-2.58">/Zn</tspan><tspan dy="2.58" font-size="6.26">3</tspan><tspan dy="-2.58">In</tspan><tspan dy="2.58" font-size="6.26">4</tspan><tspan dy="-2.58">S</tspan><tspan dy="2.58" font-size="6.26">9</tspan><tspan dy="-2.58"> (dark)</tspan></text>
<line x1="506" y1="175.5" x2="518.5" y2="175.5" stroke="#f02828" stroke-width="1"/>
<text x="519.8" y="178.8" font-size="9.2" fill="#000" text-anchor="start" font-family="Liberation Serif" font-weight="bold" ><tspan dy="0.00">6%-MoS</tspan><tspan dy="2.58" font-size="6.26">2</tspan><tspan dy="-2.58">/Zn</tspan><tspan dy="2.58" font-size="6.26">3</tspan><tspan dy="-2.58">In</tspan><tspan dy="2.58" font-size="6.26">4</tspan><tspan dy="-2.58">S</tspan><tspan dy="2.58" font-size="6.26">9</tspan><tspan dy="-2.58"> (Light)</tspan></text>
<line x1="503.5" y1="153.3" x2="655.6" y2="153.3" stroke="#666" stroke-width="1"/>
<line x1="503.5" y1="271.3" x2="655.6" y2="271.3" stroke="#333" stroke-width="1"/>
<line x1="503.5" y1="153.3" x2="503.5" y2="271.3" stroke="#2222ff" stroke-width="1"/>
<line x1="655.6" y1="153.3" x2="655.6" y2="271.3" stroke="#f02828" stroke-width="1"/>
<line x1="501.0" y1="261.3" x2="503.5" y2="261.3" stroke="#2222ff" stroke-width="1"/>
<text x="500.0" y="264.40000000000003" font-size="9.3" fill="#2222ff" text-anchor="end" font-family="Liberation Serif" font-weight="bold" >0</text>
<line x1="501.0" y1="225.3" x2="503.5" y2="225.3" stroke="#2222ff" stroke-width="1"/>
<text x="500.0" y="228.4" font-size="9.3" fill="#2222ff" text-anchor="end" font-family="Liberation Serif" font-weight="bold" >40</text>
<line x1="501.0" y1="189.3" x2="503.5" y2="189.3" stroke="#2222ff" stroke-width="1"/>
<text x="500.0" y="192.4" font-size="9.3" fill="#2222ff" text-anchor="end" font-family="Liberation Serif" font-weight="bold" >80</text>
<line x1="501.0" y1="153.3" x2="503.5" y2="153.3" stroke="#2222ff" stroke-width="1"/>
<text x="500.0" y="156.4" font-size="9.3" fill="#2222ff" text-anchor="end" font-family="Liberation Serif" font-weight="bold" >120</text>
<line x1="655.6" y1="264.2" x2="658.1" y2="264.2" stroke="#f02828" stroke-width="1"/>
<text x="658.6" y="267.3" font-size="9.3" fill="#f02828" text-anchor="start" font-family="Liberation Serif" font-weight="bold" >350</text>
<line x1="655.6" y1="228.5" x2="658.1" y2="228.5" stroke="#f02828" stroke-width="1"/>
<text x="658.6" y="231.6" font-size="9.3" fill="#f02828" text-anchor="start" font-family="Liberation Serif" font-weight="bold" >400</text>
<line x1="655.6" y1="192.9" x2="658.1" y2="192.9" stroke="#f02828" stroke-width="1"/>
<text x="658.6" y="196.0" font-size="9.3" fill="#f02828" text-anchor="start" font-family="Liberation Serif" font-weight="bold" >450</text>
<line x1="655.6" y1="156.7" x2="658.1" y2="156.7" stroke="#f02828" stroke-width="1"/>
<text x="658.6" y="159.79999999999998" font-size="9.3" fill="#f02828" text-anchor="start" font-family="Liberation Serif" font-weight="bold" >500</text>
<line x1="503.5" y1="271.3" x2="503.5" y2="273.8" stroke="#333" stroke-width="0.8"/>
<text x="503.5" y="282.8" font-size="9.3" fill="#000" text-anchor="middle" font-family="Liberation Serif" font-weight="bold" >0.0</text>
<line x1="516.2" y1="271.3" x2="516.2" y2="272.8" stroke="#333" stroke-width="0.8"/>
<line x1="528.9" y1="271.3" x2="528.9" y2="273.8" stroke="#333" stroke-width="0.8"/>
<text x="528.85" y="282.8" font-size="9.3" fill="#000" text-anchor="middle" font-family="Liberation Serif" font-weight="bold" >0.2</text>
<line x1="541.5" y1="271.3" x2="541.5" y2="272.8" stroke="#333" stroke-width="0.8"/>
<line x1="554.2" y1="271.3" x2="554.2" y2="273.8" stroke="#333" stroke-width="0.8"/>
<text x="554.2" y="282.8" font-size="9.3" fill="#000" text-anchor="middle" font-family="Liberation Serif" font-weight="bold" >0.4</text>
<line x1="566.9" y1="271.3" x2="566.9" y2="272.8" stroke="#333" stroke-width="0.8"/>
<line x1="579.5" y1="271.3" x2="579.5" y2="273.8" stroke="#333" stroke-width="0.8"/>
<text x="579.55" y="282.8" font-size="9.3" fill="#000" text-anchor="middle" font-family="Liberation Serif" font-weight="bold" >0.6</text>
<line x1="592.2" y1="271.3" x2="592.2" y2="272.8" stroke="#333" stroke-width="0.8"/>
<line x1="604.9" y1="271.3" x2="604.9" y2="273.8" stroke="#333" stroke-width="0.8"/>
<text x="604.9" y="282.8" font-size="9.3" fill="#000" text-anchor="middle" font-family="Liberation Serif" font-weight="bold" >0.8</text>
<line x1="617.6" y1="271.3" x2="617.6" y2="272.8" stroke="#333" stroke-width="0.8"/>
<line x1="630.2" y1="271.3" x2="630.2" y2="273.8" stroke="#333" stroke-width="0.8"/>
<text x="630.25" y="282.8" font-size="9.3" fill="#000" text-anchor="middle" font-family="Liberation Serif" font-weight="bold" >1.0</text>
<line x1="642.9" y1="271.3" x2="642.9" y2="272.8" stroke="#333" stroke-width="0.8"/>
<line x1="655.6" y1="271.3" x2="655.6" y2="273.8" stroke="#333" stroke-width="0.8"/>
<text x="655.6" y="282.8" font-size="9.3" fill="#000" text-anchor="middle" font-family="Liberation Serif" font-weight="bold" >1.2</text>
<text x="579.55" y="294" font-size="9.3" fill="#000" text-anchor="middle" font-family="Liberation Serif" font-weight="bold" >Distance (µm)</text>
<text x="485.8" y="212.5" font-size="9.4" fill="#2222ff" text-anchor="middle" font-family="Liberation Serif" font-weight="bold" transform="rotate(-90 485.8 212.5)"><tspan dy="0.00">Potential (mV)</tspan></text>
<text x="682.5" y="212" font-size="9.4" fill="#f02828" text-anchor="middle" font-family="Liberation Serif" font-weight="bold" transform="rotate(-90 682.5 212)"><tspan dy="0.00">Potential (mV)</tspan></text>
<rect x="44.8" y="304.5" width="156.7" height="124.19999999999999" fill="#f3f3f5"/>
<text x="5.9" y="306.8" font-size="15" fill="#000" text-anchor="start" font-family="Liberation Serif" font-weight="bold" >g</text>
<polyline points="44.8,321.4 46.4,324.2 47.9,321.2 49.5,319.7 51.1,318.1 52.6,322.6 54.2,327.1 55.8,330.0 57.3,326.6 58.9,325.5 60.5,332.4 62.0,341.5 63.6,344.2 65.2,338.8 66.7,347.5 68.3,359.5 69.9,358.7 71.4,367.7 73.0,370.9 74.6,375.4 76.1,381.3 77.7,381.9 79.3,388.6 80.8,394.9 82.4,395.8 84.0,398.8 85.5,411.3 87.1,410.0 88.7,416.3 90.2,417.2 91.8,423.7 93.4,421.6 94.9,424.3 96.5,425.3 98.1,425.4 99.6,420.5 101.2,420.4 102.8,420.6 104.3,414.3 105.9,418.3 107.5,409.4 109.0,407.6 110.6,413.9 112.2,402.4 113.7,403.2 115.3,394.2 116.9,389.2 118.4,391.0 120.0,378.8 121.6,372.9 123.1,362.6 124.7,365.6 126.3,355.4 127.9,358.5 129.4,352.4 131.0,351.7 132.6,341.1 134.1,341.8 135.7,333.2 137.3,337.7 138.8,335.1 140.4,333.2 142.0,336.5 143.5,333.3 145.1,327.4 146.7,332.8 148.2,330.0 149.8,329.9 151.4,326.9 152.9,329.6 154.5,328.0 156.1,326.2 157.6,326.2 159.2,329.2 160.8,322.5 162.3,329.9 163.9,329.1 165.5,328.9 167.0,320.4 168.6,324.7 170.2,326.5 171.7,326.8 173.3,321.1 174.9,326.1 176.4,326.6 178.0,319.7 179.6,325.9 181.1,322.6 182.7,321.2 184.3,322.6 185.8,321.0 187.4,315.8 189.0,322.2 190.5,324.6 192.1,326.4 193.7,320.4 195.2,320.7 196.8,318.3 198.4,320.7 199.9,320.5 201.5,321.1" fill="none" stroke="#f42020" stroke-width="0.9" stroke-linejoin="round" />
<polyline points="44.8,320.4 46.4,318.8 47.9,321.5 49.5,320.6 51.1,314.9 52.6,320.8 54.2,328.9 55.8,317.9 57.3,324.1 58.9,330.5 60.5,325.7 62.0,330.7 63.6,334.7 65.2,337.1 66.7,341.4 68.3,340.7 69.9,340.0 71.4,347.9 73.0,348.2 74.6,346.0 76.1,360.0 77.7,358.1 79.3,363.8 80.8,370.2 82.4,373.8 84.0,374.2 85.5,376.8 87.1,384.5 88.7,386.7 90.2,386.9 91.8,391.1 93.4,391.7 94.9,395.8 96.5,398.0 98.1,395.2 99.6,401.5 101.2,404.0 102.8,401.5 104.3,406.9 105.9,404.4 107.5,398.9 109.0,398.0 110.6,393.2 112.2,395.7 113.7,398.0 115.3,382.9 116.9,381.2 118.4,384.1 120.0,370.7 121.6,370.7 123.1,372.5 124.7,363.6 126.3,360.0 127.9,348.5 129.4,353.5 131.0,348.2 132.6,344.8 134.1,341.7 135.7,340.1 137.3,332.6 138.8,329.0 140.4,330.1 142.0,335.1 143.5,335.3 145.1,330.3 146.7,332.7 148.2,331.9 149.8,335.1 151.4,321.6 152.9,324.7 154.5,330.9 156.1,324.0 157.6,322.2 159.2,335.2 160.8,328.4 162.3,327.6 163.9,323.7 165.5,326.2 167.0,326.3 168.6,325.4 170.2,318.4 171.7,317.0 173.3,326.4 174.9,327.5 176.4,314.4 178.0,327.2 179.6,325.5 181.1,323.1 182.7,321.3 184.3,319.1 185.8,321.1 187.4,325.4 189.0,320.2 190.5,320.9 192.1,314.8 193.7,321.3 195.2,325.8 196.8,324.5 198.4,315.4 199.9,322.2 201.5,327.5" fill="none" stroke="#f040d0" stroke-width="0.9" stroke-linejoin="round" />
<polyline points="44.8,320.6 46.4,319.1 47.9,315.5 49.5,323.9 51.1,318.5 52.6,318.7 54.2,324.6 55.8,323.4 57.3,317.0 58.9,317.8 60.5,321.4 62.0,324.8 63.6,323.4 65.2,329.4 66.7,330.8 68.3,335.0 69.9,333.4 71.4,335.9 73.0,328.0 74.6,340.8 76.1,337.8 77.7,341.3 79.3,350.4 80.8,349.3 82.4,364.9 84.0,360.2 85.5,360.9 87.1,375.9 88.7,374.7 90.2,369.7 91.8,377.4 93.4,383.3 94.9,383.7 96.5,386.7 98.1,384.0 99.6,386.7 101.2,391.1 102.8,394.3 104.3,392.4 105.9,386.3 107.5,388.6 109.0,386.4 110.6,388.0 112.2,390.0 113.7,384.9 115.3,377.1 116.9,376.1 118.4,376.7 120.0,375.7 121.6,365.4 123.1,362.8 124.7,358.7 126.3,354.5 127.9,348.4 129.4,344.8 131.0,338.9 132.6,335.4 134.1,330.4 135.7,330.1 137.3,333.4 138.8,331.6 140.4,328.9 142.0,330.9 143.5,327.1 145.1,324.1 146.7,330.3 148.2,333.6 149.8,322.8 151.4,326.8 152.9,324.1 154.5,331.1 156.1,320.0 157.6,323.3 159.2,326.2 160.8,326.8 162.3,324.9 163.9,325.7 165.5,325.9 167.0,328.7 168.6,320.0 170.2,324.4 171.7,323.8 173.3,323.5 174.9,332.0 176.4,321.6 178.0,324.4 179.6,324.0 181.1,322.5 182.7,326.0 184.3,319.4 185.8,324.6 187.4,325.2 189.0,324.8 190.5,321.0 192.1,318.6 193.7,323.2 195.2,326.3 196.8,316.9 198.4,324.3 199.9,316.0 201.5,320.2" fill="none" stroke="#e040f8" stroke-width="0.9" stroke-linejoin="round" />
<polyline points="44.8,320.8 46.4,321.2 47.9,318.2 49.5,317.4 51.1,321.6 52.6,318.4 54.2,315.3 55.8,323.4 57.3,327.1 58.9,327.3 60.5,329.0 62.0,327.5 63.6,328.6 65.2,331.5 66.7,326.3 68.3,337.5 69.9,334.2 71.4,324.1 73.0,328.2 74.6,330.8 76.1,331.9 77.7,330.2 79.3,336.7 80.8,340.8 82.4,347.8 84.0,347.0 85.5,352.1 87.1,355.0 88.7,357.8 90.2,358.2 91.8,361.6 93.4,360.3 94.9,370.4 96.5,369.6 98.1,365.9 99.6,374.9 101.2,372.8 102.8,374.8 104.3,374.1 105.9,373.9 107.5,378.7 109.0,373.0 110.6,371.3 112.2,372.9 113.7,367.0 115.3,367.2 116.9,366.2 118.4,357.7 120.0,355.8 121.6,355.0 123.1,352.8 124.7,348.5 126.3,345.1 127.9,342.8 129.4,339.8 131.0,339.3 132.6,334.8 134.1,332.6 135.7,332.0 137.3,334.9 138.8,334.2 140.4,330.3 142.0,331.9 143.5,330.9 145.1,338.5 146.7,338.7 148.2,328.3 149.8,327.8 151.4,323.9 152.9,325.6 154.5,326.7 156.1,327.2 157.6,331.7 159.2,324.0 160.8,328.6 162.3,324.8 163.9,325.6 165.5,325.2 167.0,323.0 168.6,327.3 170.2,326.7 171.7,328.1 173.3,326.3 174.9,319.4 176.4,325.9 178.0,320.6 179.6,321.6 181.1,321.7 182.7,321.3 184.3,327.0 185.8,322.3 187.4,318.1 189.0,325.4 190.5,323.1 192.1,325.0 193.7,321.5 195.2,325.8 196.8,316.9 198.4,323.1 199.9,326.8 201.5,315.7" fill="none" stroke="#e08020" stroke-width="0.9" stroke-linejoin="round" />
<polyline points="44.8,336.2 46.4,336.5 47.9,335.2 49.5,336.9 51.1,335.3 52.6,331.0 54.2,329.2 55.8,328.0 57.3,329.1 58.9,330.2 60.5,328.1 62.0,325.0 63.6,325.1 65.2,332.1 66.7,333.8 68.3,329.3 69.9,331.8 71.4,332.7 73.0,340.1 74.6,337.8 76.1,339.0 77.7,337.5 79.3,344.4 80.8,331.5 82.4,327.2 84.0,326.8 85.5,339.5 87.1,340.3 88.7,337.5 90.2,348.7 91.8,344.3 93.4,344.2 94.9,349.9 96.5,346.2 98.1,351.1 99.6,347.2 101.2,349.5 102.8,350.5 104.3,344.7 105.9,348.5 107.5,346.9 109.0,354.5 110.6,352.1 112.2,346.7 113.7,345.9 115.3,348.4 116.9,344.5 118.4,349.3 120.0,344.0 121.6,347.2 123.1,341.2 124.7,342.1 126.3,340.8 127.9,336.8 129.4,329.2 131.0,336.7 132.6,335.0 134.1,329.1 135.7,333.6 137.3,326.0 138.8,330.7 140.4,330.7 142.0,329.5 143.5,324.5 145.1,327.7 146.7,327.8 148.2,328.2 149.8,333.8 151.4,331.1 152.9,323.0 154.5,324.8 156.1,325.7 157.6,325.2 159.2,328.9 160.8,326.0 162.3,329.9 163.9,325.6 165.5,329.1 167.0,327.4 168.6,325.1 170.2,327.5 171.7,324.3 173.3,324.8 174.9,325.0 176.4,321.7 178.0,330.8 179.6,331.1 181.1,323.8 182.7,322.6 184.3,319.0 185.8,323.0 187.4,322.7 189.0,328.2 190.5,322.7 192.1,322.9 193.7,328.4 195.2,327.8 196.8,325.1 198.4,323.7 199.9,334.2 201.5,324.3" fill="none" stroke="#2020f8" stroke-width="0.9" stroke-linejoin="round" />
<rect x="80" y="336.5" width="39.599999999999994" height="88.5" fill="none" stroke="#f02828" stroke-width="1" stroke-dasharray="2.5,2"/>
<text x="104.5" y="330.6" font-size="9.7" fill="#000" text-anchor="middle" font-family="Liberation Serif" font-weight="bold" >GSB</text>
<text x="50.6" y="315.2" font-size="10.2" fill="#000" text-anchor="start" font-family="Liberation Serif" font-weight="bold" ><tspan dy="0.00">Zn</tspan><tspan dy="2.86" font-size="6.94">3</tspan><tspan dy="-2.86">In</tspan><tspan dy="2.86" font-size="6.94">4</tspan><tspan dy="-2.86">S</tspan><tspan dy="2.86" font-size="6.94">9</tspan></text>
<line x1="151" y1="375" x2="166" y2="375" stroke="#f42020" stroke-width="1"/>
<text x="168.5" y="378.2" font-size="9.4" fill="#000" text-anchor="start" font-family="Liberation Serif" font-weight="bold" >1 ps</text>
<line x1="151" y1="386.4" x2="166" y2="386.4" stroke="#f040d0" stroke-width="1"/>
<text x="168.5" y="389.59999999999997" font-size="9.4" fill="#000" text-anchor="start" font-family="Liberation Serif" font-weight="bold" >10 ps</text>
<line x1="151" y1="398.2" x2="166" y2="398.2" stroke="#e040f8" stroke-width="1"/>
<text x="168.5" y="401.4" font-size="9.4" fill="#000" text-anchor="start" font-family="Liberation Serif" font-weight="bold" >100 ps</text>
<line x1="151" y1="409.7" x2="166" y2="409.7" stroke="#e08020" stroke-width="1"/>
<text x="168.5" y="412.9" font-size="9.4" fill="#000" text-anchor="start" font-family="Liberation Serif" font-weight="bold" >800 ps</text>
<line x1="151" y1="421.5" x2="166" y2="421.5" stroke="#2020f8" stroke-width="1"/>
<text x="168.5" y="424.7" font-size="9.4" fill="#000" text-anchor="start" font-family="Liberation Serif" font-weight="bold" >6200 ps</text>
<line x1="44.8" y1="304.5" x2="201.5" y2="304.5" stroke="#666" stroke-width="1.2"/>
<line x1="201.5" y1="304.5" x2="201.5" y2="428.7" stroke="#222" stroke-width="1.2"/>
<line x1="44.8" y1="428.7" x2="201.5" y2="428.7" stroke="#222" stroke-width="1.2"/>
<line x1="44.8" y1="304.5" x2="44.8" y2="428.7" stroke="#888" stroke-width="1.5"/>
<line x1="42.3" y1="333.4" x2="44.8" y2="333.4" stroke="#333" stroke-width="0.8"/>
<text x="41.3" y="336.5" font-size="9.3" fill="#000" text-anchor="end" font-family="Liberation Serif" font-weight="bold" >0.0</text>
<line x1="42.3" y1="392.8" x2="44.8" y2="392.8" stroke="#333" stroke-width="0.8"/>
<text x="41.3" y="395.9" font-size="9.3" fill="#000" text-anchor="end" font-family="Liberation Serif" font-weight="bold" >-0.2</text>
<line x1="44.8" y1="428.7" x2="44.8" y2="431.2" stroke="#333" stroke-width="0.8"/>
<text x="44.8" y="440.7" font-size="9.3" fill="#000" text-anchor="middle" font-family="Liberation Serif" font-weight="bold" >400</text>
<line x1="64.4" y1="428.7" x2="64.4" y2="430.2" stroke="#333" stroke-width="0.8"/>
<line x1="84.0" y1="428.7" x2="84.0" y2="431.2" stroke="#333" stroke-width="0.8"/>
<text x="83.975" y="440.7" font-size="9.3" fill="#000" text-anchor="middle" font-family="Liberation Serif" font-weight="bold" >450</text>
<line x1="103.6" y1="428.7" x2="103.6" y2="430.2" stroke="#333" stroke-width="0.8"/>
<line x1="123.1" y1="428.7" x2="123.1" y2="431.2" stroke="#333" stroke-width="0.8"/>
<text x="123.14999999999999" y="440.7" font-size="9.3" fill="#000" text-anchor="middle" font-family="Liberation Serif" font-weight="bold" >500</text>
<line x1="142.7" y1="428.7" x2="142.7" y2="430.2" stroke="#333" stroke-width="0.8"/>
<line x1="162.3" y1="428.7" x2="162.3" y2="431.2" stroke="#333" stroke-width="0.8"/>
<text x="162.325" y="440.7" font-size="9.3" fill="#000" text-anchor="middle" font-family="Liberation Serif" font-weight="bold" >550</text>
<line x1="181.9" y1="428.7" x2="181.9" y2="430.2" stroke="#333" stroke-width="0.8"/>
<line x1="201.5" y1="428.7" x2="201.5" y2="431.2" stroke="#333" stroke-width="0.8"/>
<text x="201.5" y="440.7" font-size="9.3" fill="#000" text-anchor="middle" font-family="Liberation Serif" font-weight="bold" >600</text>
<text x="123.15" y="453.3" font-size="9.4" fill="#000" text-anchor="middle" font-family="Liberation Serif" font-weight="bold" >Wavelength (nm)</text>
<text x="23.3" y="366.8" font-size="9.4" fill="#000" text-anchor="middle" font-family="Liberation Serif" font-weight="bold" transform="rotate(-90 23.3 366.8)"><tspan dy="0.00">ΔA (mOD)</tspan></text>
<rect x="45.9" y="468.8" width="156.5" height="122.80000000000001" fill="#f3f3f5"/>
<text x="6.1" y="467.6" font-size="15" fill="#000" text-anchor="start" font-family="Liberation Serif" font-weight="bold" >h</text>
<polyline points="45.9,496.8 47.5,494.4 49.0,497.1 50.6,497.1 52.2,503.8 53.7,508.7 55.3,502.3 56.9,509.9 58.4,518.4 60.0,519.8 61.5,520.5 63.1,523.0 64.7,531.9 66.2,527.5 67.8,540.4 69.4,540.1 70.9,541.3 72.5,542.8 74.1,545.3 75.6,544.7 77.2,544.0 78.8,544.1 80.3,546.3 81.9,543.7 83.5,543.7 85.0,543.3 86.6,542.7 88.2,542.7 89.7,545.4 91.3,542.0 92.8,545.2 94.4,547.4 96.0,545.8 97.5,544.8 99.1,547.9 100.7,546.4 102.2,549.2 103.8,554.8 105.4,559.5 106.9,560.9 108.5,562.0 110.1,568.0 111.6,572.6 113.2,573.6 114.8,573.4 116.3,574.7 117.9,572.9 119.5,572.0 121.0,570.8 122.6,563.9 124.2,558.9 125.7,549.2 127.3,542.3 128.8,535.9 130.4,527.6 132.0,525.5 133.5,523.4 135.1,519.8 136.7,520.4 138.2,520.0 139.8,518.4 141.4,517.8 142.9,515.2 144.5,516.3 146.1,513.4 147.6,515.3 149.2,514.8 150.8,514.3 152.3,512.6 153.9,512.6 155.4,510.7 157.0,512.8 158.6,511.8 160.1,509.9 161.7,512.3 163.3,511.4 164.8,510.1 166.4,511.2 168.0,512.5 169.5,514.0 171.1,508.9 172.7,511.1 174.2,510.1 175.8,512.0 177.4,509.3 178.9,510.7 180.5,511.2 182.1,512.2 183.6,510.7 185.2,511.6 186.8,511.3 188.3,512.8 189.9,511.4 191.4,510.6 193.0,512.2 194.6,510.6 196.1,509.9 197.7,510.9 199.3,511.2 200.8,511.1 202.4,509.3" fill="none" stroke="#f42020" stroke-width="0.9" stroke-linejoin="round" />
<polyline points="45.9,492.3 47.5,497.4 49.0,501.6 50.6,492.0 52.2,494.7 53.7,494.8 55.3,499.7 56.9,509.0 58.4,506.0 60.0,506.7 61.5,517.5 63.1,518.2 64.7,515.6 66.2,528.2 67.8,530.6 69.4,526.5 70.9,532.4 72.5,534.9 74.1,534.8 75.6,536.6 77.2,536.2 78.8,536.6 80.3,538.5 81.9,539.8 83.5,537.7 85.0,538.4 86.6,541.1 88.2,539.9 89.7,538.8 91.3,541.0 92.8,540.7 94.4,542.3 96.0,540.6 97.5,541.6 99.1,542.5 100.7,541.9 102.2,544.8 103.8,547.6 105.4,547.8 106.9,554.4 108.5,554.9 110.1,559.9 111.6,560.9 113.2,561.4 114.8,565.5 116.3,568.0 117.9,565.6 119.5,568.5 121.0,565.8 122.6,563.0 124.2,557.3 125.7,546.9 127.3,540.1 128.8,536.2 130.4,531.9 132.0,527.6 133.5,524.5 135.1,527.2 136.7,521.9 138.2,519.5 139.8,520.2 141.4,515.6 142.9,515.9 144.5,515.4 146.1,514.9 147.6,514.1 149.2,513.9 150.8,515.3 152.3,513.9 153.9,513.6 155.4,513.0 157.0,513.4 158.6,511.3 160.1,510.8 161.7,510.4 163.3,509.9 164.8,510.3 166.4,512.5 168.0,512.6 169.5,512.3 171.1,511.1 172.7,511.8 174.2,510.5 175.8,509.7 177.4,512.0 178.9,510.3 180.5,511.8 182.1,512.7 183.6,512.6 185.2,511.5 186.8,513.2 188.3,510.4 189.9,509.2 191.4,512.2 193.0,511.2 194.6,509.0 196.1,510.3 197.7,510.4 199.3,510.8 200.8,509.3 202.4,510.0" fill="none" stroke="#f040d0" stroke-width="0.9" stroke-linejoin="round" />
<polyline points="45.9,482.1 47.5,487.3 49.0,488.7 50.6,489.9 52.2,492.5 53.7,499.6 55.3,497.4 56.9,497.3 58.4,495.4 60.0,496.6 61.5,496.1 63.1,505.0 64.7,493.5 66.2,493.7 67.8,496.3 69.4,504.4 70.9,511.5 72.5,520.2 74.1,522.5 75.6,524.6 77.2,526.7 78.8,530.7 80.3,531.7 81.9,534.4 83.5,534.5 85.0,534.6 86.6,533.6 88.2,536.2 89.7,536.1 91.3,537.8 92.8,537.8 94.4,538.3 96.0,538.0 97.5,537.2 99.1,539.7 100.7,537.9 102.2,541.7 103.8,542.1 105.4,545.0 106.9,546.6 108.5,548.6 110.1,549.2 111.6,552.4 113.2,553.8 114.8,557.7 116.3,559.8 117.9,558.5 119.5,562.9 121.0,560.5 122.6,556.0 124.2,549.9 125.7,547.4 127.3,540.5 128.8,534.3 130.4,531.1 132.0,525.7 133.5,522.1 135.1,523.1 136.7,522.2 138.2,518.5 139.8,518.6 141.4,515.0 142.9,514.3 144.5,516.1 146.1,513.7 147.6,513.9 149.2,514.6 150.8,512.5 152.3,515.6 153.9,515.0 155.4,514.0 157.0,512.4 158.6,515.0 160.1,513.9 161.7,513.8 163.3,514.6 164.8,513.3 166.4,514.0 168.0,513.2 169.5,512.2 171.1,513.5 172.7,513.3 174.2,513.4 175.8,513.1 177.4,513.8 178.9,513.3 180.5,511.7 182.1,512.7 183.6,507.9 185.2,512.5 186.8,510.9 188.3,513.0 189.9,511.5 191.4,511.8 193.0,511.1 194.6,509.4 196.1,511.0 197.7,512.1 199.3,510.5 200.8,511.6 202.4,510.6" fill="none" stroke="#e040f8" stroke-width="0.9" stroke-linejoin="round" />
<polyline points="45.9,485.0 47.5,492.7 49.0,494.5 50.6,495.9 52.2,498.6 53.7,496.1 55.3,502.9 56.9,492.4 58.4,497.0 60.0,503.8 61.5,504.4 63.1,503.4 64.7,503.3 66.2,509.2 67.8,514.2 69.4,514.2 70.9,516.8 72.5,520.3 74.1,521.2 75.6,523.9 77.2,526.9 78.8,525.4 80.3,525.6 81.9,525.7 83.5,526.9 85.0,527.7 86.6,525.7 88.2,525.7 89.7,523.6 91.3,525.2 92.8,526.5 94.4,524.4 96.0,522.8 97.5,525.2 99.1,525.7 100.7,526.1 102.2,524.8 103.8,528.7 105.4,530.3 106.9,531.2 108.5,534.6 110.1,535.6 111.6,539.0 113.2,540.0 114.8,541.5 116.3,543.3 117.9,544.8 119.5,543.4 121.0,543.2 122.6,541.4 124.2,535.6 125.7,533.2 127.3,530.0 128.8,530.3 130.4,524.2 132.0,521.4 133.5,520.1 135.1,517.9 136.7,518.3 138.2,514.2 139.8,514.5 141.4,513.5 142.9,515.6 144.5,514.3 146.1,510.2 147.6,511.4 149.2,510.6 150.8,511.9 152.3,511.5 153.9,510.5 155.4,511.9 157.0,509.4 158.6,512.0 160.1,510.3 161.7,510.7 163.3,509.8 164.8,508.7 166.4,511.2 168.0,509.3 169.5,509.5 171.1,508.5 172.7,509.3 174.2,509.7 175.8,508.4 177.4,507.3 178.9,507.8 180.5,508.4 182.1,507.9 183.6,510.0 185.2,508.7 186.8,508.2 188.3,508.4 189.9,508.4 191.4,507.5 193.0,506.9 194.6,505.0 196.1,507.8 197.7,507.9 199.3,505.6 200.8,506.4 202.4,507.4" fill="none" stroke="#e08020" stroke-width="0.9" stroke-linejoin="round" />
<polyline points="45.9,489.8 47.5,488.6 49.0,488.4 50.6,494.2 52.2,500.1 53.7,493.9 55.3,497.5 56.9,495.5 58.4,501.8 60.0,502.3 61.5,505.0 63.1,510.1 64.7,506.2 66.2,507.0 67.8,502.3 69.4,514.1 70.9,510.3 72.5,511.0 74.1,512.2 75.6,511.4 77.2,513.7 78.8,513.0 80.3,516.5 81.9,515.7 83.5,518.2 85.0,516.4 86.6,519.3 88.2,518.8 89.7,520.8 91.3,520.3 92.8,517.3 94.4,517.5 96.0,515.0 97.5,512.7 99.1,516.1 100.7,515.0 102.2,517.6 103.8,519.3 105.4,519.0 106.9,519.1 108.5,521.6 110.1,523.4 111.6,523.6 113.2,526.8 114.8,526.2 116.3,527.8 117.9,530.5 119.5,529.4 121.0,527.5 122.6,527.4 124.2,525.2 125.7,522.8 127.3,520.9 128.8,515.9 130.4,516.0 132.0,513.4 133.5,513.6 135.1,513.3 136.7,510.5 138.2,510.0 139.8,507.2 141.4,508.5 142.9,508.1 144.5,508.0 146.1,508.3 147.6,506.3 149.2,506.0 150.8,506.8 152.3,508.6 153.9,506.8 155.4,507.1 157.0,507.5 158.6,508.6 160.1,505.7 161.7,505.3 163.3,506.1 164.8,506.0 166.4,504.6 168.0,504.5 169.5,506.5 171.1,510.1 172.7,506.1 174.2,506.8 175.8,506.3 177.4,507.7 178.9,508.4 180.5,506.7 182.1,507.7 183.6,507.4 185.2,507.1 186.8,507.5 188.3,509.3 189.9,507.1 191.4,508.4 193.0,508.2 194.6,507.5 196.1,509.7 197.7,508.5 199.3,510.3 200.8,509.0 202.4,508.0" fill="none" stroke="#2020f8" stroke-width="0.9" stroke-linejoin="round" />
<rect x="94.7" y="501.4" width="39.60000000000001" height="81.89999999999998" fill="none" stroke="#f02828" stroke-width="1" stroke-dasharray="2.5,2"/>
<text x="111.6" y="514.4" font-size="9.7" fill="#000" text-anchor="middle" font-family="Liberation Serif" font-weight="bold" >GSB</text>
<text x="48.7" y="480.3" font-size="10.2" fill="#000" text-anchor="start" font-family="Liberation Serif" font-weight="bold" ><tspan dy="0.00">6%-MoS</tspan><tspan dy="2.86" font-size="6.94">2</tspan><tspan dy="-2.86">/Zn</tspan><tspan dy="2.86" font-size="6.94">3</tspan><tspan dy="-2.86">In</tspan><tspan dy="2.86" font-size="6.94">4</tspan><tspan dy="-2.86">S</tspan><tspan dy="2.86" font-size="6.94">9</tspan></text>
<line x1="150.4" y1="540" x2="165.4" y2="540" stroke="#f42020" stroke-width="1"/>
<text x="167.9" y="543.2" font-size="9.4" fill="#000" text-anchor="start" font-family="Liberation Serif" font-weight="bold" >1 ps</text>
<line x1="150.4" y1="550.7" x2="165.4" y2="550.7" stroke="#f040d0" stroke-width="1"/>
<text x="167.9" y="553.9000000000001" font-size="9.4" fill="#000" text-anchor="start" font-family="Liberation Serif" font-weight="bold" >10 ps</text>
<line x1="150.4" y1="562.5" x2="165.4" y2="562.5" stroke="#e040f8" stroke-width="1"/>
<text x="167.9" y="565.7" font-size="9.4" fill="#000" text-anchor="start" font-family="Liberation Serif" font-weight="bold" >100 ps</text>
<line x1="150.4" y1="573.6" x2="165.4" y2="573.6" stroke="#e08020" stroke-width="1"/>
<text x="167.9" y="576.8000000000001" font-size="9.4" fill="#000" text-anchor="start" font-family="Liberation Serif" font-weight="bold" >800 ps</text>
<line x1="150.4" y1="585.3" x2="165.4" y2="585.3" stroke="#2020f8" stroke-width="1"/>
<text x="167.9" y="588.5" font-size="9.4" fill="#000" text-anchor="start" font-family="Liberation Serif" font-weight="bold" >6200 ps</text>
<line x1="45.9" y1="468.8" x2="202.4" y2="468.8" stroke="#666" stroke-width="1.2"/>
<line x1="202.4" y1="468.8" x2="202.4" y2="591.6" stroke="#222" stroke-width="1.2"/>
<line x1="45.9" y1="591.6" x2="202.4" y2="591.6" stroke="#222" stroke-width="1.2"/>
<line x1="45.9" y1="468.8" x2="45.9" y2="591.6" stroke="#888" stroke-width="1.5"/>
<line x1="43.4" y1="468.8" x2="45.9" y2="468.8" stroke="#333" stroke-width="0.8"/>
<text x="42.4" y="471.90000000000003" font-size="9.3" fill="#000" text-anchor="end" font-family="Liberation Serif" font-weight="bold" >0.2</text>
<line x1="43.4" y1="506.6" x2="45.9" y2="506.6" stroke="#333" stroke-width="0.8"/>
<text x="42.4" y="509.70000000000005" font-size="9.3" fill="#000" text-anchor="end" font-family="Liberation Serif" font-weight="bold" >0.0</text>
<line x1="43.4" y1="544.4" x2="45.9" y2="544.4" stroke="#333" stroke-width="0.8"/>
<text x="42.4" y="547.5" font-size="9.3" fill="#000" text-anchor="end" font-family="Liberation Serif" font-weight="bold" >-0.2</text>
<line x1="43.4" y1="582.2" x2="45.9" y2="582.2" stroke="#333" stroke-width="0.8"/>
<text x="42.4" y="585.3000000000001" font-size="9.3" fill="#000" text-anchor="end" font-family="Liberation Serif" font-weight="bold" >-0.4</text>
<line x1="45.9" y1="591.6" x2="45.9" y2="594.1" stroke="#333" stroke-width="0.8"/>
<text x="45.9" y="603.3" font-size="9.3" fill="#000" text-anchor="middle" font-family="Liberation Serif" font-weight="bold" >400</text>
<line x1="65.5" y1="591.6" x2="65.5" y2="593.1" stroke="#333" stroke-width="0.8"/>
<line x1="85.0" y1="591.6" x2="85.0" y2="594.1" stroke="#333" stroke-width="0.8"/>
<text x="85.025" y="603.3" font-size="9.3" fill="#000" text-anchor="middle" font-family="Liberation Serif" font-weight="bold" >450</text>
<line x1="104.6" y1="591.6" x2="104.6" y2="593.1" stroke="#333" stroke-width="0.8"/>
<line x1="124.2" y1="591.6" x2="124.2" y2="594.1" stroke="#333" stroke-width="0.8"/>
<text x="124.15" y="603.3" font-size="9.3" fill="#000" text-anchor="middle" font-family="Liberation Serif" font-weight="bold" >500</text>
<line x1="143.7" y1="591.6" x2="143.7" y2="593.1" stroke="#333" stroke-width="0.8"/>
<line x1="163.3" y1="591.6" x2="163.3" y2="594.1" stroke="#333" stroke-width="0.8"/>
<text x="163.275" y="603.3" font-size="9.3" fill="#000" text-anchor="middle" font-family="Liberation Serif" font-weight="bold" >550</text>
<line x1="182.8" y1="591.6" x2="182.8" y2="593.1" stroke="#333" stroke-width="0.8"/>
<line x1="202.4" y1="591.6" x2="202.4" y2="594.1" stroke="#333" stroke-width="0.8"/>
<text x="202.4" y="603.3" font-size="9.3" fill="#000" text-anchor="middle" font-family="Liberation Serif" font-weight="bold" >600</text>
<text x="124.15" y="618.2" font-size="9.4" fill="#000" text-anchor="middle" font-family="Liberation Serif" font-weight="bold" >Wavelength (nm)</text>
<text x="22.3" y="530.5" font-size="9.4" fill="#000" text-anchor="middle" font-family="Liberation Serif" font-weight="bold" transform="rotate(-90 22.3 530.5)"><tspan dy="0.00">ΔA (mOD)</tspan></text>
<rect x="502" y="304.6" width="153.29999999999995" height="123.0" fill="#f2f3f6"/>
<text x="467" y="308.3" font-size="15" fill="#000" text-anchor="start" font-family="Liberation Serif" font-weight="bold" >k</text>
<polyline points="504.1,323.9 505.3,331.3 506.6,337.4 507.8,342.6 509.0,347.0 510.2,350.7 511.5,353.8 512.7,356.5 513.9,358.8 515.1,360.7 516.4,362.4 517.6,363.9 518.8,365.2 520.0,366.3 521.3,367.3 522.5,368.3 523.7,369.1 524.9,369.8 526.2,370.5 527.4,371.1 528.6,371.7 529.8,372.3 531.1,372.8 532.3,373.3 533.5,373.8 534.7,374.2 536.0,374.6 537.2,375.0 538.4,375.4 539.6,375.8 540.9,376.2 542.1,376.6 543.3,376.9 544.5,377.3 545.8,377.6 547.0,378.0 548.2,378.3 549.5,378.6 550.7,379.0 551.9,379.3 553.1,379.6 554.4,379.9 555.6,380.2 556.8,380.5 558.0,380.8 559.3,381.0 560.5,381.3 561.7,381.6 562.9,381.9 564.2,382.1 565.4,382.4 566.6,382.7 567.8,382.9 569.1,383.2 570.3,383.4 571.5,383.7 572.7,383.9 574.0,384.1 575.2,384.4 576.4,384.6 577.6,384.8 578.9,385.1 580.1,385.3 581.3,385.5 582.5,385.7 583.8,385.9 585.0,386.2 586.2,386.4 587.4,386.6 588.7,386.8 589.9,387.0 591.1,387.2 592.4,387.3 593.6,387.5 594.8,387.7 596.0,387.9 597.3,388.1 598.5,388.3 599.7,388.4 600.9,388.6 602.2,388.8 603.4,389.0 604.6,389.1 605.8,389.3 607.1,389.5 608.3,389.6 609.5,389.8 610.7,389.9 612.0,390.1 613.2,390.2 614.4,390.4 615.6,390.5 616.9,390.7 618.1,390.8 619.3,391.0 620.5,391.1 621.8,391.2 623.0,391.4 624.2,391.5 625.4,391.6 626.7,391.8 627.9,391.9 629.1,392.0 630.3,392.1 631.6,392.3 632.8,392.4 634.0,392.5 635.3,392.6 636.5,392.7 637.7,392.8 638.9,393.0 640.2,393.1 641.4,393.2 642.6,393.3 643.8,393.4 645.1,393.5 646.3,393.6 647.5,393.7 648.7,393.8 650.0,393.9" fill="none" stroke="#2222ff" stroke-width="0.9" stroke-linejoin="round" />
<circle cx="504.4" cy="422.4" r="1.5" fill="#2222ff"/>
<circle cx="504.3" cy="420.4" r="1.5" fill="#2222ff"/>
<circle cx="504.0" cy="419.4" r="1.5" fill="#2222ff"/>
<circle cx="504.3" cy="417.5" r="1.5" fill="#2222ff"/>
<circle cx="504.3" cy="416.5" r="1.5" fill="#2222ff"/>
<circle cx="504.1" cy="414.5" r="1.5" fill="#2222ff"/>
<circle cx="504.2" cy="412.5" r="1.5" fill="#2222ff"/>
<circle cx="504.2" cy="404.7" r="1.5" fill="#2222ff"/>
<circle cx="504.1" cy="383.0" r="1.5" fill="#2222ff"/>
<circle cx="504.2" cy="359.4" r="1.5" fill="#2222ff"/>
<circle cx="504.3" cy="347.5" r="1.5" fill="#2222ff"/>
<circle cx="504.3" cy="343.6" r="1.5" fill="#2222ff"/>
<circle cx="504.1" cy="340.6" r="1.5" fill="#2222ff"/>
<circle cx="504.1" cy="337.7" r="1.5" fill="#2222ff"/>
<circle cx="504.2" cy="335.7" r="1.5" fill="#2222ff"/>
<circle cx="504.4" cy="333.8" r="1.5" fill="#2222ff"/>
<circle cx="504.4" cy="331.8" r="1.5" fill="#2222ff"/>
<circle cx="503.9" cy="329.8" r="1.5" fill="#2222ff"/>
<circle cx="504.3" cy="327.8" r="1.5" fill="#2222ff"/>
<circle cx="504.0" cy="325.9" r="1.5" fill="#2222ff"/>
<circle cx="504.0" cy="323.9" r="1.5" fill="#2222ff"/>
<circle cx="504.1" cy="323.9" r="1.5" fill="#2222ff"/>
<circle cx="504.4" cy="326.6" r="1.5" fill="#2222ff"/>
<circle cx="504.8" cy="327.2" r="1.5" fill="#2222ff"/>
<circle cx="505.1" cy="328.7" r="1.5" fill="#2222ff"/>
<circle cx="505.4" cy="330.1" r="1.5" fill="#2222ff"/>
<circle cx="505.8" cy="334.9" r="1.5" fill="#2222ff"/>
<circle cx="506.1" cy="335.7" r="1.5" fill="#2222ff"/>
<circle cx="506.4" cy="332.5" r="1.5" fill="#2222ff"/>
<circle cx="506.7" cy="338.7" r="1.5" fill="#2222ff"/>
<circle cx="507.1" cy="339.7" r="1.5" fill="#2222ff"/>
<circle cx="507.4" cy="340.2" r="1.5" fill="#2222ff"/>
<circle cx="507.7" cy="343.7" r="1.5" fill="#2222ff"/>
<circle cx="508.1" cy="344.5" r="1.5" fill="#2222ff"/>
<circle cx="508.4" cy="341.3" r="1.5" fill="#2222ff"/>
<circle cx="508.4" cy="342.1" r="1.5" fill="#2222ff"/>
<circle cx="508.9" cy="349.0" r="1.5" fill="#2222ff"/>
<circle cx="509.4" cy="348.0" r="1.5" fill="#2222ff"/>
<circle cx="509.9" cy="352.4" r="1.5" fill="#2222ff"/>
<circle cx="510.4" cy="354.3" r="1.5" fill="#2222ff"/>
<circle cx="510.8" cy="352.3" r="1.5" fill="#2222ff"/>
<circle cx="511.3" cy="350.2" r="1.5" fill="#2222ff"/>
<circle cx="511.8" cy="354.8" r="1.5" fill="#2222ff"/>
<circle cx="512.3" cy="352.5" r="1.5" fill="#2222ff"/>
<circle cx="512.8" cy="359.0" r="1.5" fill="#2222ff"/>
<circle cx="513.3" cy="357.4" r="1.5" fill="#2222ff"/>
<circle cx="513.8" cy="358.4" r="1.5" fill="#2222ff"/>
<circle cx="514.3" cy="359.2" r="1.5" fill="#2222ff"/>
<circle cx="514.8" cy="358.0" r="1.5" fill="#2222ff"/>
<circle cx="515.3" cy="359.7" r="1.5" fill="#2222ff"/>
<circle cx="515.7" cy="362.8" r="1.5" fill="#2222ff"/>
<circle cx="516.2" cy="365.2" r="1.5" fill="#2222ff"/>
<circle cx="516.7" cy="364.1" r="1.5" fill="#2222ff"/>
<circle cx="517.2" cy="363.5" r="1.5" fill="#2222ff"/>
<circle cx="517.7" cy="365.2" r="1.5" fill="#2222ff"/>
<circle cx="518.2" cy="367.9" r="1.5" fill="#2222ff"/>
<circle cx="518.7" cy="368.9" r="1.5" fill="#2222ff"/>
<circle cx="519.2" cy="363.8" r="1.5" fill="#2222ff"/>
<circle cx="519.7" cy="365.4" r="1.5" fill="#2222ff"/>
<circle cx="520.2" cy="367.7" r="1.5" fill="#2222ff"/>
<circle cx="520.6" cy="365.9" r="1.5" fill="#2222ff"/>
<circle cx="521.1" cy="366.2" r="1.5" fill="#2222ff"/>
<circle cx="521.6" cy="368.1" r="1.5" fill="#2222ff"/>
<circle cx="522.1" cy="368.9" r="1.5" fill="#2222ff"/>
<circle cx="522.6" cy="365.9" r="1.5" fill="#2222ff"/>
<circle cx="523.1" cy="366.8" r="1.5" fill="#2222ff"/>
<circle cx="523.6" cy="365.9" r="1.5" fill="#2222ff"/>
<circle cx="524.1" cy="367.1" r="1.5" fill="#2222ff"/>
<circle cx="524.6" cy="369.0" r="1.5" fill="#2222ff"/>
<circle cx="525.1" cy="370.9" r="1.5" fill="#2222ff"/>
<circle cx="525.6" cy="370.9" r="1.5" fill="#2222ff"/>
<circle cx="525.6" cy="371.5" r="1.5" fill="#2222ff"/>
<circle cx="526.9" cy="370.8" r="1.5" fill="#2222ff"/>
<circle cx="528.3" cy="371.1" r="1.5" fill="#2222ff"/>
<circle cx="529.7" cy="369.7" r="1.5" fill="#2222ff"/>
<circle cx="531.1" cy="369.9" r="1.5" fill="#2222ff"/>
<circle cx="532.5" cy="373.4" r="1.5" fill="#2222ff"/>
<circle cx="533.9" cy="373.0" r="1.5" fill="#2222ff"/>
<circle cx="535.2" cy="376.9" r="1.5" fill="#2222ff"/>
<circle cx="536.6" cy="376.3" r="1.5" fill="#2222ff"/>
<circle cx="538.0" cy="377.7" r="1.5" fill="#2222ff"/>
<circle cx="539.4" cy="375.5" r="1.5" fill="#2222ff"/>
<circle cx="540.8" cy="377.4" r="1.5" fill="#2222ff"/>
<circle cx="542.2" cy="378.3" r="1.5" fill="#2222ff"/>
<circle cx="543.5" cy="377.1" r="1.5" fill="#2222ff"/>
<circle cx="544.9" cy="381.5" r="1.5" fill="#2222ff"/>
<circle cx="546.3" cy="378.0" r="1.5" fill="#2222ff"/>
<circle cx="547.7" cy="377.2" r="1.5" fill="#2222ff"/>
<circle cx="549.1" cy="375.9" r="1.5" fill="#2222ff"/>
<circle cx="550.5" cy="381.4" r="1.5" fill="#2222ff"/>
<circle cx="551.8" cy="380.2" r="1.5" fill="#2222ff"/>
<circle cx="553.2" cy="384.1" r="1.5" fill="#2222ff"/>
<circle cx="554.6" cy="377.1" r="1.5" fill="#2222ff"/>
<circle cx="556.0" cy="380.7" r="1.5" fill="#2222ff"/>
<circle cx="557.4" cy="380.1" r="1.5" fill="#2222ff"/>
<circle cx="558.8" cy="384.3" r="1.5" fill="#2222ff"/>
<circle cx="560.1" cy="381.8" r="1.5" fill="#2222ff"/>
<circle cx="561.5" cy="382.9" r="1.5" fill="#2222ff"/>
<circle cx="562.9" cy="384.6" r="1.5" fill="#2222ff"/>
<circle cx="564.3" cy="384.8" r="1.5" fill="#2222ff"/>
<circle cx="565.7" cy="384.6" r="1.5" fill="#2222ff"/>
<circle cx="567.1" cy="384.7" r="1.5" fill="#2222ff"/>
<circle cx="568.5" cy="386.9" r="1.5" fill="#2222ff"/>
<circle cx="568.5" cy="380.3" r="1.5" fill="#2222ff"/>
<circle cx="571.7" cy="383.9" r="1.5" fill="#2222ff"/>
<circle cx="575.0" cy="384.2" r="1.5" fill="#2222ff"/>
<circle cx="578.2" cy="384.9" r="1.5" fill="#2222ff"/>
<circle cx="581.5" cy="386.3" r="1.5" fill="#2222ff"/>
<circle cx="584.8" cy="386.5" r="1.5" fill="#2222ff"/>
<circle cx="588.0" cy="385.7" r="1.5" fill="#2222ff"/>
<circle cx="591.3" cy="388.0" r="1.5" fill="#2222ff"/>
<circle cx="594.5" cy="385.2" r="1.5" fill="#2222ff"/>
<circle cx="597.8" cy="388.9" r="1.5" fill="#2222ff"/>
<circle cx="601.1" cy="386.4" r="1.5" fill="#2222ff"/>
<circle cx="604.3" cy="391.3" r="1.5" fill="#2222ff"/>
<circle cx="607.6" cy="389.2" r="1.5" fill="#2222ff"/>
<circle cx="610.8" cy="388.7" r="1.5" fill="#2222ff"/>
<circle cx="614.1" cy="387.8" r="1.5" fill="#2222ff"/>
<circle cx="617.4" cy="388.1" r="1.5" fill="#2222ff"/>
<circle cx="620.6" cy="393.5" r="1.5" fill="#2222ff"/>
<circle cx="623.9" cy="393.1" r="1.5" fill="#2222ff"/>
<circle cx="627.1" cy="388.7" r="1.5" fill="#2222ff"/>
<circle cx="630.4" cy="393.2" r="1.5" fill="#2222ff"/>
<circle cx="633.7" cy="396.0" r="1.5" fill="#2222ff"/>
<circle cx="636.9" cy="390.6" r="1.5" fill="#2222ff"/>
<circle cx="640.2" cy="392.0" r="1.5" fill="#2222ff"/>
<circle cx="643.4" cy="396.2" r="1.5" fill="#2222ff"/>
<circle cx="646.7" cy="395.1" r="1.5" fill="#2222ff"/>
<circle cx="650.0" cy="391.4" r="1.5" fill="#2222ff"/>
<rect x="502" y="304.6" width="153.29999999999995" height="123.0" fill="none" stroke="#555" stroke-width="1"/>
<line x1="499.5" y1="422.4" x2="502" y2="422.4" stroke="#333" stroke-width="0.8"/>
<text x="498.5" y="425.5" font-size="9.3" fill="#000" text-anchor="end" font-family="Liberation Serif" font-weight="bold" >0.0</text>
<line x1="499.5" y1="383.0" x2="502" y2="383.0" stroke="#333" stroke-width="0.8"/>
<text x="498.5" y="386.1" font-size="9.3" fill="#000" text-anchor="end" font-family="Liberation Serif" font-weight="bold" >0.4</text>
<line x1="499.5" y1="343.6" x2="502" y2="343.6" stroke="#333" stroke-width="0.8"/>
<text x="498.5" y="346.7" font-size="9.3" fill="#000" text-anchor="end" font-family="Liberation Serif" font-weight="bold" >0.8</text>
<line x1="499.5" y1="304.2" x2="502" y2="304.2" stroke="#333" stroke-width="0.8"/>
<text x="498.5" y="307.3" font-size="9.3" fill="#000" text-anchor="end" font-family="Liberation Serif" font-weight="bold" >1.2</text>
<line x1="504.1" y1="427.6" x2="504.1" y2="430.1" stroke="#333" stroke-width="0.8"/>
<text x="504.1" y="439.3" font-size="9.3" fill="#000" text-anchor="middle" font-family="Liberation Serif" font-weight="bold" >0</text>
<line x1="547.0" y1="427.6" x2="547.0" y2="430.1" stroke="#333" stroke-width="0.8"/>
<text x="547.0" y="439.3" font-size="9.3" fill="#000" text-anchor="middle" font-family="Liberation Serif" font-weight="bold" >2000</text>
<line x1="589.9" y1="427.6" x2="589.9" y2="430.1" stroke="#333" stroke-width="0.8"/>
<text x="589.9" y="439.3" font-size="9.3" fill="#000" text-anchor="middle" font-family="Liberation Serif" font-weight="bold" >4000</text>
<line x1="632.8" y1="427.6" x2="632.8" y2="430.1" stroke="#333" stroke-width="0.8"/>
<text x="632.8" y="439.3" font-size="9.3" fill="#000" text-anchor="middle" font-family="Liberation Serif" font-weight="bold" >6000</text>
<line x1="525.6" y1="427.6" x2="525.6" y2="429.1" stroke="#333" stroke-width="0.8"/>
<line x1="568.5" y1="427.6" x2="568.5" y2="429.1" stroke="#333" stroke-width="0.8"/>
<line x1="611.4" y1="427.6" x2="611.4" y2="429.1" stroke="#333" stroke-width="0.8"/>
<text x="651.5" y="423.6" font-size="9.35" fill="#000" text-anchor="end" font-family="Liberation Serif" font-weight="bold" >kinetics at 475 nm</text>
<text x="579.65" y="452.3" font-size="9.4" fill="#000" text-anchor="middle" font-family="Liberation Serif" font-weight="bold" >Delay time (ps)</text>
<text x="481.4" y="365.8" font-size="9.35" fill="#000" text-anchor="middle" font-family="Liberation Serif" font-weight="bold" transform="rotate(-90 481.4 365.8)"><tspan dy="0.00">Normalized ΔA (mOD)</tspan></text>
<circle cx="592.9" cy="314" r="1.6" fill="#2222ff"/>
<text x="604.8" y="317.3" font-size="9.5" fill="#000" text-anchor="start" font-family="Liberation Serif" font-weight="bold" ><tspan dy="0.00">Zn</tspan><tspan dy="2.66" font-size="6.46">3</tspan><tspan dy="-2.66">In</tspan><tspan dy="2.66" font-size="6.46">4</tspan><tspan dy="-2.66">S</tspan><tspan dy="2.66" font-size="6.46">9</tspan></text>
<line x1="583" y1="328.2" x2="602.2" y2="328.2" stroke="#2222ff" stroke-width="0.9"/>
<text x="604.8" y="331.5" font-size="9.45" fill="#000" text-anchor="start" font-family="Liberation Serif" font-weight="bold" >Fitted line</text>
<text x="550.5" y="366.5" font-size="9.8" fill="#2222ff" text-anchor="start" font-family="Liberation Serif" font-weight="bold" ><tspan dy="0.00">τ</tspan><tspan dy="2.74" font-size="6.66">avg</tspan><tspan dy="-2.74"> = 7374.87 ps</tspan></text>
<rect x="503.3" y="469.7" width="151.99999999999994" height="123.09999999999997" fill="#f2f3f6"/>
<text x="470.3" y="468.4" font-size="15" fill="#000" text-anchor="start" font-family="Liberation Serif" font-weight="bold" >l</text>
<polyline points="505.5,496.3 506.7,503.3 508.0,509.0 509.2,513.7 510.4,517.6 511.7,520.9 512.9,523.6 514.1,525.9 515.4,527.9 516.6,529.6 517.8,531.0 519.1,532.3 520.3,533.4 521.5,534.4 522.8,535.3 524.0,536.1 525.3,536.8 526.5,537.5 527.7,538.1 529.0,538.7 530.2,539.3 531.4,539.8 532.7,540.3 533.9,540.8 535.1,541.2 536.4,541.7 537.6,542.1 538.8,542.5 540.1,542.9 541.3,543.3 542.5,543.7 543.8,544.0 545.0,544.4 546.2,544.8 547.5,545.1 548.7,545.4 549.9,545.8 551.2,546.1 552.4,546.4 553.6,546.7 554.9,547.0 556.1,547.3 557.3,547.6 558.6,547.8 559.8,548.1 561.1,548.4 562.3,548.6 563.5,548.9 564.8,549.1 566.0,549.4 567.2,549.6 568.5,549.8 569.7,550.1 570.9,550.3 572.2,550.5 573.4,550.7 574.6,550.9 575.9,551.1 577.1,551.3 578.3,551.5 579.6,551.7 580.8,551.9 582.0,552.1 583.3,552.3 584.5,552.4 585.7,552.6 587.0,552.8 588.2,552.9 589.4,553.1 590.7,553.3 591.9,553.4 593.1,553.6 594.4,553.7 595.6,553.9 596.8,554.0 598.1,554.1 599.3,554.3 600.6,554.4 601.8,554.5 603.0,554.6 604.3,554.8 605.5,554.9 606.7,555.0 608.0,555.1 609.2,555.2 610.4,555.4 611.7,555.5 612.9,555.6 614.1,555.7 615.4,555.8 616.6,555.9 617.8,556.0 619.1,556.1 620.3,556.2 621.5,556.2 622.8,556.3 624.0,556.4 625.2,556.5 626.5,556.6 627.7,556.7 628.9,556.7 630.2,556.8 631.4,556.9 632.6,557.0 633.9,557.0 635.1,557.1 636.4,557.2 637.6,557.3 638.8,557.3 640.1,557.4 641.3,557.5 642.5,557.5 643.8,557.6 645.0,557.6 646.2,557.7 647.5,557.8 648.7,557.8 649.9,557.9 651.2,557.9 652.4,558.0" fill="none" stroke="#f02828" stroke-width="0.9" stroke-linejoin="round" />
<circle cx="505.7" cy="587.8" r="1.5" fill="#f02828"/>
<circle cx="505.4" cy="586.0" r="1.5" fill="#f02828"/>
<circle cx="505.4" cy="584.1" r="1.5" fill="#f02828"/>
<circle cx="505.8" cy="583.2" r="1.5" fill="#f02828"/>
<circle cx="505.7" cy="581.4" r="1.5" fill="#f02828"/>
<circle cx="505.5" cy="579.6" r="1.5" fill="#f02828"/>
<circle cx="505.7" cy="577.7" r="1.5" fill="#f02828"/>
<circle cx="505.5" cy="575.9" r="1.5" fill="#f02828"/>
<circle cx="505.6" cy="574.1" r="1.5" fill="#f02828"/>
<circle cx="505.6" cy="555.8" r="1.5" fill="#f02828"/>
<circle cx="505.8" cy="537.5" r="1.5" fill="#f02828"/>
<circle cx="505.8" cy="514.6" r="1.5" fill="#f02828"/>
<circle cx="505.5" cy="511.9" r="1.5" fill="#f02828"/>
<circle cx="505.5" cy="509.1" r="1.5" fill="#f02828"/>
<circle cx="505.6" cy="507.3" r="1.5" fill="#f02828"/>
<circle cx="505.4" cy="505.4" r="1.5" fill="#f02828"/>
<circle cx="505.5" cy="503.6" r="1.5" fill="#f02828"/>
<circle cx="505.8" cy="501.8" r="1.5" fill="#f02828"/>
<circle cx="505.8" cy="500.0" r="1.5" fill="#f02828"/>
<circle cx="505.6" cy="496.3" r="1.5" fill="#f02828"/>
<circle cx="505.5" cy="496.3" r="1.5" fill="#f02828"/>
<circle cx="505.8" cy="499.7" r="1.5" fill="#f02828"/>
<circle cx="506.2" cy="503.3" r="1.5" fill="#f02828"/>
<circle cx="506.5" cy="501.6" r="1.5" fill="#f02828"/>
<circle cx="506.9" cy="507.9" r="1.5" fill="#f02828"/>
<circle cx="507.2" cy="505.3" r="1.5" fill="#f02828"/>
<circle cx="507.6" cy="505.6" r="1.5" fill="#f02828"/>
<circle cx="507.9" cy="508.7" r="1.5" fill="#f02828"/>
<circle cx="508.3" cy="510.3" r="1.5" fill="#f02828"/>
<circle cx="508.6" cy="515.4" r="1.5" fill="#f02828"/>
<circle cx="509.0" cy="511.9" r="1.5" fill="#f02828"/>
<circle cx="509.3" cy="513.4" r="1.5" fill="#f02828"/>
<circle cx="509.7" cy="517.4" r="1.5" fill="#f02828"/>
<circle cx="510.0" cy="512.9" r="1.5" fill="#f02828"/>
<circle cx="510.0" cy="518.6" r="1.5" fill="#f02828"/>
<circle cx="510.5" cy="521.0" r="1.5" fill="#f02828"/>
<circle cx="511.1" cy="522.7" r="1.5" fill="#f02828"/>
<circle cx="511.6" cy="520.6" r="1.5" fill="#f02828"/>
<circle cx="512.1" cy="521.2" r="1.5" fill="#f02828"/>
<circle cx="512.6" cy="522.2" r="1.5" fill="#f02828"/>
<circle cx="513.1" cy="524.7" r="1.5" fill="#f02828"/>
<circle cx="513.6" cy="526.5" r="1.5" fill="#f02828"/>
<circle cx="514.2" cy="524.4" r="1.5" fill="#f02828"/>
<circle cx="514.7" cy="528.4" r="1.5" fill="#f02828"/>
<circle cx="515.2" cy="529.8" r="1.5" fill="#f02828"/>
<circle cx="515.7" cy="525.8" r="1.5" fill="#f02828"/>
<circle cx="516.2" cy="528.7" r="1.5" fill="#f02828"/>
<circle cx="516.7" cy="528.9" r="1.5" fill="#f02828"/>
<circle cx="517.3" cy="529.2" r="1.5" fill="#f02828"/>
<circle cx="517.8" cy="532.0" r="1.5" fill="#f02828"/>
<circle cx="518.3" cy="532.5" r="1.5" fill="#f02828"/>
<circle cx="518.8" cy="530.8" r="1.5" fill="#f02828"/>
<circle cx="519.3" cy="533.6" r="1.5" fill="#f02828"/>
<circle cx="519.8" cy="532.4" r="1.5" fill="#f02828"/>
<circle cx="520.4" cy="533.6" r="1.5" fill="#f02828"/>
<circle cx="520.9" cy="536.0" r="1.5" fill="#f02828"/>
<circle cx="521.4" cy="532.5" r="1.5" fill="#f02828"/>
<circle cx="521.9" cy="537.0" r="1.5" fill="#f02828"/>
<circle cx="522.4" cy="534.6" r="1.5" fill="#f02828"/>
<circle cx="522.9" cy="535.2" r="1.5" fill="#f02828"/>
<circle cx="523.5" cy="533.4" r="1.5" fill="#f02828"/>
<circle cx="524.0" cy="538.1" r="1.5" fill="#f02828"/>
<circle cx="524.5" cy="537.3" r="1.5" fill="#f02828"/>
<circle cx="525.0" cy="536.8" r="1.5" fill="#f02828"/>
<circle cx="525.5" cy="536.6" r="1.5" fill="#f02828"/>
<circle cx="526.0" cy="535.6" r="1.5" fill="#f02828"/>
<circle cx="526.6" cy="536.9" r="1.5" fill="#f02828"/>
<circle cx="527.1" cy="537.7" r="1.5" fill="#f02828"/>
<circle cx="527.6" cy="536.2" r="1.5" fill="#f02828"/>
<circle cx="528.1" cy="534.5" r="1.5" fill="#f02828"/>
<circle cx="528.1" cy="540.8" r="1.5" fill="#f02828"/>
<circle cx="529.6" cy="539.0" r="1.5" fill="#f02828"/>
<circle cx="531.0" cy="538.2" r="1.5" fill="#f02828"/>
<circle cx="532.5" cy="540.1" r="1.5" fill="#f02828"/>
<circle cx="533.9" cy="538.2" r="1.5" fill="#f02828"/>
<circle cx="535.4" cy="541.9" r="1.5" fill="#f02828"/>
<circle cx="536.8" cy="543.7" r="1.5" fill="#f02828"/>
<circle cx="538.3" cy="540.7" r="1.5" fill="#f02828"/>
<circle cx="539.8" cy="547.9" r="1.5" fill="#f02828"/>
<circle cx="541.2" cy="544.1" r="1.5" fill="#f02828"/>
<circle cx="542.7" cy="539.4" r="1.5" fill="#f02828"/>
<circle cx="544.1" cy="544.1" r="1.5" fill="#f02828"/>
<circle cx="545.6" cy="543.9" r="1.5" fill="#f02828"/>
<circle cx="547.1" cy="546.7" r="1.5" fill="#f02828"/>
<circle cx="548.5" cy="545.4" r="1.5" fill="#f02828"/>
<circle cx="550.0" cy="546.0" r="1.5" fill="#f02828"/>
<circle cx="551.4" cy="542.7" r="1.5" fill="#f02828"/>
<circle cx="552.9" cy="548.3" r="1.5" fill="#f02828"/>
<circle cx="554.3" cy="551.9" r="1.5" fill="#f02828"/>
<circle cx="555.8" cy="546.5" r="1.5" fill="#f02828"/>
<circle cx="557.3" cy="544.7" r="1.5" fill="#f02828"/>
<circle cx="558.7" cy="549.1" r="1.5" fill="#f02828"/>
<circle cx="560.2" cy="551.5" r="1.5" fill="#f02828"/>
<circle cx="561.6" cy="550.5" r="1.5" fill="#f02828"/>
<circle cx="563.1" cy="548.0" r="1.5" fill="#f02828"/>
<circle cx="564.6" cy="550.1" r="1.5" fill="#f02828"/>
<circle cx="566.0" cy="549.3" r="1.5" fill="#f02828"/>
<circle cx="567.5" cy="554.0" r="1.5" fill="#f02828"/>
<circle cx="568.9" cy="550.9" r="1.5" fill="#f02828"/>
<circle cx="570.4" cy="548.8" r="1.5" fill="#f02828"/>
<circle cx="571.8" cy="550.9" r="1.5" fill="#f02828"/>
<circle cx="573.3" cy="552.6" r="1.5" fill="#f02828"/>
<circle cx="573.3" cy="548.8" r="1.5" fill="#f02828"/>
<circle cx="576.2" cy="549.4" r="1.5" fill="#f02828"/>
<circle cx="579.2" cy="552.5" r="1.5" fill="#f02828"/>
<circle cx="582.1" cy="553.5" r="1.5" fill="#f02828"/>
<circle cx="585.0" cy="550.2" r="1.5" fill="#f02828"/>
<circle cx="587.9" cy="553.9" r="1.5" fill="#f02828"/>
<circle cx="590.9" cy="553.6" r="1.5" fill="#f02828"/>
<circle cx="593.8" cy="550.3" r="1.5" fill="#f02828"/>
<circle cx="596.7" cy="553.6" r="1.5" fill="#f02828"/>
<circle cx="599.7" cy="555.2" r="1.5" fill="#f02828"/>
<circle cx="602.6" cy="558.2" r="1.5" fill="#f02828"/>
<circle cx="605.5" cy="554.8" r="1.5" fill="#f02828"/>
<circle cx="608.5" cy="555.3" r="1.5" fill="#f02828"/>
<circle cx="611.4" cy="556.6" r="1.5" fill="#f02828"/>
<circle cx="614.3" cy="554.0" r="1.5" fill="#f02828"/>
<circle cx="617.2" cy="558.3" r="1.5" fill="#f02828"/>
<circle cx="620.2" cy="559.0" r="1.5" fill="#f02828"/>
<circle cx="623.1" cy="557.8" r="1.5" fill="#f02828"/>
<circle cx="626.0" cy="556.7" r="1.5" fill="#f02828"/>
<circle cx="629.0" cy="559.5" r="1.5" fill="#f02828"/>
<circle cx="631.9" cy="559.1" r="1.5" fill="#f02828"/>
<circle cx="634.8" cy="558.7" r="1.5" fill="#f02828"/>
<circle cx="637.8" cy="557.4" r="1.5" fill="#f02828"/>
<circle cx="640.7" cy="558.8" r="1.5" fill="#f02828"/>
<circle cx="643.6" cy="555.9" r="1.5" fill="#f02828"/>
<circle cx="646.5" cy="561.9" r="1.5" fill="#f02828"/>
<circle cx="649.5" cy="557.3" r="1.5" fill="#f02828"/>
<circle cx="652.4" cy="559.2" r="1.5" fill="#f02828"/>
<rect x="503.3" y="469.7" width="151.99999999999994" height="123.09999999999997" fill="none" stroke="#555" stroke-width="1"/>
<line x1="500.8" y1="587.8" x2="503.3" y2="587.8" stroke="#333" stroke-width="0.8"/>
<text x="499.8" y="590.9" font-size="9.3" fill="#000" text-anchor="end" font-family="Liberation Serif" font-weight="bold" >0.0</text>
<line x1="500.8" y1="551.2" x2="503.3" y2="551.2" stroke="#333" stroke-width="0.8"/>
<text x="499.8" y="554.3" font-size="9.3" fill="#000" text-anchor="end" font-family="Liberation Serif" font-weight="bold" >0.4</text>
<line x1="500.8" y1="514.6" x2="503.3" y2="514.6" stroke="#333" stroke-width="0.8"/>
<text x="499.8" y="517.6999999999999" font-size="9.3" fill="#000" text-anchor="end" font-family="Liberation Serif" font-weight="bold" >0.8</text>
<line x1="500.8" y1="478.0" x2="503.3" y2="478.0" stroke="#333" stroke-width="0.8"/>
<text x="499.8" y="481.09999999999997" font-size="9.3" fill="#000" text-anchor="end" font-family="Liberation Serif" font-weight="bold" >1.2</text>
<line x1="505.5" y1="592.8" x2="505.5" y2="595.3" stroke="#333" stroke-width="0.8"/>
<text x="505.5" y="603.8" font-size="9.3" fill="#000" text-anchor="middle" font-family="Liberation Serif" font-weight="bold" >0</text>
<line x1="539.4" y1="592.8" x2="539.4" y2="595.3" stroke="#333" stroke-width="0.8"/>
<text x="539.4" y="603.8" font-size="9.3" fill="#000" text-anchor="middle" font-family="Liberation Serif" font-weight="bold" >1500</text>
<line x1="573.3" y1="592.8" x2="573.3" y2="595.3" stroke="#333" stroke-width="0.8"/>
<text x="573.3" y="603.8" font-size="9.3" fill="#000" text-anchor="middle" font-family="Liberation Serif" font-weight="bold" >3000</text>
<line x1="607.2" y1="592.8" x2="607.2" y2="595.3" stroke="#333" stroke-width="0.8"/>
<text x="607.2" y="603.8" font-size="9.3" fill="#000" text-anchor="middle" font-family="Liberation Serif" font-weight="bold" >4500</text>
<line x1="641.1" y1="592.8" x2="641.1" y2="595.3" stroke="#333" stroke-width="0.8"/>
<text x="641.1" y="603.8" font-size="9.3" fill="#000" text-anchor="middle" font-family="Liberation Serif" font-weight="bold" >6000</text>
<line x1="522.5" y1="592.8" x2="522.5" y2="594.3" stroke="#333" stroke-width="0.8"/>
<line x1="556.4" y1="592.8" x2="556.4" y2="594.3" stroke="#333" stroke-width="0.8"/>
<line x1="590.2" y1="592.8" x2="590.2" y2="594.3" stroke="#333" stroke-width="0.8"/>
<line x1="624.1" y1="592.8" x2="624.1" y2="594.3" stroke="#333" stroke-width="0.8"/>
<text x="650.5" y="589.6" font-size="9.35" fill="#000" text-anchor="end" font-family="Liberation Serif" font-weight="bold" >kinetics at 475 nm</text>
<text x="580.3" y="618.3" font-size="9.4" fill="#000" text-anchor="middle" font-family="Liberation Serif" font-weight="bold" >Delay time (ps)</text>
<text x="483.2" y="531" font-size="9.35" fill="#000" text-anchor="middle" font-family="Liberation Serif" font-weight="bold" transform="rotate(-90 483.2 531)"><tspan dy="0.00">Normalized ΔA (mOD)</tspan></text>
<circle cx="514.2" cy="475" r="1.6" fill="#f02828"/>
<text x="525.5" y="478.3" font-size="9.35" fill="#000" text-anchor="start" font-family="Liberation Serif" font-weight="bold" ><tspan dy="0.00">6%-MoS</tspan><tspan dy="2.62" font-size="6.36">2</tspan><tspan dy="-2.62">/Zn</tspan><tspan dy="2.62" font-size="6.36">3</tspan><tspan dy="-2.62">In</tspan><tspan dy="2.62" font-size="6.36">4</tspan><tspan dy="-2.62">S</tspan><tspan dy="2.62" font-size="6.36">9</tspan></text>
<line x1="504" y1="489.2" x2="524" y2="489.2" stroke="#f02828" stroke-width="0.9"/>
<text x="525.5" y="492.5" font-size="9.45" fill="#000" text-anchor="start" font-family="Liberation Serif" font-weight="bold" >Fitted line</text>
<text x="516" y="520" font-size="9.7" fill="#f02828" text-anchor="start" font-family="Liberation Serif" font-weight="bold" ><tspan dy="0.00">τ</tspan><tspan dy="2.72" font-size="6.60">avg</tspan><tspan dy="-2.72"> = 10674.63 ps</tspan></text>
<defs><linearGradient id="mosg" x1="0" y1="0" x2="0" y2="1"><stop offset="0" stop-color="#f4f9f0"/><stop offset="0.7" stop-color="#d2ecc2"/><stop offset="1" stop-color="#a4da88"/></linearGradient><linearGradient id="cbg" x1="0" y1="0" x2="0" y2="1"><stop offset="0" stop-color="#f8e4e4"/><stop offset="1" stop-color="#e8a8a8"/></linearGradient><linearGradient id="vbg" x1="0" y1="0" x2="0" y2="1"><stop offset="0" stop-color="#d0e0f8"/><stop offset="1" stop-color="#eef2fa"/></linearGradient><linearGradient id="pumpg" gradientUnits="userSpaceOnUse" x1="0" y1="536" x2="0" y2="505"><stop offset="0" stop-color="#2020f0"/><stop offset="1" stop-color="#f03030"/></linearGradient><radialGradient id="eg" cx="0.4" cy="0.35" r="0.7"><stop offset="0" stop-color="#f07070"/><stop offset="1" stop-color="#c01828"/></radialGradient><radialGradient id="hg" cx="0.4" cy="0.35" r="0.7"><stop offset="0" stop-color="#6070ff"/><stop offset="1" stop-color="#1818d0"/></radialGradient></defs>
<rect x="603.1" y="471.5" width="37.4" height="10.6" fill="url(#mosg)"/>
<text x="621.2" y="478.6" font-size="6.3" fill="#000" text-anchor="middle" font-family="Liberation Serif" font-weight="bold" ><tspan dy="0.00">MoS</tspan><tspan dy="1.76" font-size="4.28">2</tspan></text>
<rect x="603.1" y="494.7" width="37.4" height="10.8" fill="url(#cbg)"/>
<rect x="603.1" y="536" width="37.4" height="12.2" fill="url(#vbg)"/>
<path d="M622.4,496 C622,490 628,492 630.5,484.5" fill="none" stroke="#e02020" stroke-width="0.8"/>
<polygon points="631.2,482.6 628.9,485.6 632,486.2" fill="#e02020"/>
<text x="619.8" y="488.6" font-size="7" fill="#000" text-anchor="start" font-family="Liberation Serif" font-weight="bold" ><tspan dy="0.00">τ</tspan><tspan dy="1.96" font-size="4.76">1</tspan></text>
<circle cx="607.4" cy="499.7" r="3.2" fill="url(#eg)"/>
<text x="607.4" y="501.3" font-size="4.2" fill="#fff" text-anchor="middle" font-family="Liberation Serif">e</text>
<circle cx="622.4" cy="499.7" r="3.2" fill="url(#eg)"/>
<text x="622.4" y="501.3" font-size="4.2" fill="#fff" text-anchor="middle" font-family="Liberation Serif">e</text>
<circle cx="635" cy="499.7" r="3.2" fill="url(#eg)"/>
<text x="635" y="501.3" font-size="4.2" fill="#fff" text-anchor="middle" font-family="Liberation Serif">e</text>
<text x="644.4" y="502.4" font-size="6.6" fill="#000" text-anchor="start" font-family="Liberation Serif" font-weight="bold" >CB</text>
<text x="644.4" y="544.9" font-size="6.6" fill="#000" text-anchor="start" font-family="Liberation Serif" font-weight="bold" >VB</text>
<line x1="635" y1="504" x2="635" y2="513.5" stroke="#e02020" stroke-width="0.8"/>
<polygon points="635,516 633.3,512.6 636.7,512.6" fill="#e02020"/>
<text x="637.2" y="513.8" font-size="7" fill="#000" text-anchor="start" font-family="Liberation Serif" font-weight="bold" ><tspan dy="0.00">τ</tspan><tspan dy="1.96" font-size="4.76">2</tspan></text>
<circle cx="635" cy="520.7" r="3.2" fill="url(#hg)"/>
<line x1="635" y1="536" x2="635" y2="528.8" stroke="#2020f0" stroke-width="0.8"/>
<polygon points="635,526.3 633.3,529.7 636.7,529.7" fill="#2020f0"/>
<circle cx="608.2" cy="543.2" r="3.2" fill="url(#hg)"/>
<text x="608.2" y="544.8" font-size="4.2" fill="#fff" text-anchor="middle" font-family="Liberation Serif">h</text>
<circle cx="622.4" cy="543.2" r="3.2" fill="url(#hg)"/>
<text x="622.4" y="544.8" font-size="4.2" fill="#fff" text-anchor="middle" font-family="Liberation Serif">h</text>
<circle cx="635" cy="543.2" r="3" fill="none" stroke="#2020f0" stroke-width="0.7" stroke-dasharray="1.3,0.9"/>
<text x="635" y="522.3" font-size="4.2" fill="#fff" text-anchor="middle" font-family="Liberation Serif">h</text>
<line x1="606.7" y1="536" x2="606.7" y2="506.5" stroke="url(#pumpg)" stroke-width="0.8"/>
<polygon points="606.7,504.6 605,508 608.4,508" fill="#f03030"/>
<text x="595.6" y="508.8" font-size="7" fill="#000" text-anchor="middle" font-family="Liberation Serif" font-weight="bold" transform="rotate(-90 595.6 508.8)"><tspan dy="0.00">Pump (340 nm)</tspan></text>
<text x="624.5" y="520.7" font-size="7" fill="#000" text-anchor="middle" font-family="Liberation Serif" font-weight="bold" transform="rotate(-90 624.5 520.7)"><tspan dy="0.00">Zn</tspan><tspan dy="1.96" font-size="4.76">3</tspan><tspan dy="-1.96">In</tspan><tspan dy="1.96" font-size="4.76">4</tspan><tspan dy="-1.96">S</tspan><tspan dy="1.96" font-size="4.76">9</tspan></text>
<polygon points="237.6,308.3 310.5,297.1 309.5,375.0 241.5,398.0" fill="#fbf9f1" />
<polygon points="310.5,297.1 440.2,313.3 435.0,408.6 309.5,375.0" fill="#eff5fa" />
<line x1="252.2" y1="306.1" x2="255.1" y2="393.4" stroke="#cfcfcf" stroke-width="0.5"/>
<line x1="266.8" y1="303.8" x2="268.7" y2="388.8" stroke="#cfcfcf" stroke-width="0.5"/>
<line x1="281.3" y1="301.6" x2="282.3" y2="384.2" stroke="#cfcfcf" stroke-width="0.5"/>
<line x1="295.9" y1="299.3" x2="295.9" y2="379.6" stroke="#cfcfcf" stroke-width="0.5"/>
<line x1="238.6" y1="330.7" x2="310.2" y2="316.6" stroke="#cfcfcf" stroke-width="0.5"/>
<line x1="310.2" y1="316.6" x2="438.9" y2="337.1" stroke="#cfcfcf" stroke-width="0.5"/>
<line x1="239.6" y1="353.1" x2="310.0" y2="336.1" stroke="#cfcfcf" stroke-width="0.5"/>
<line x1="310.0" y1="336.1" x2="437.6" y2="361.0" stroke="#cfcfcf" stroke-width="0.5"/>
<line x1="240.5" y1="375.6" x2="309.8" y2="355.5" stroke="#cfcfcf" stroke-width="0.5"/>
<line x1="309.8" y1="355.5" x2="436.3" y2="384.8" stroke="#cfcfcf" stroke-width="0.5"/>
<line x1="336.4" y1="300.3" x2="334.6" y2="381.7" stroke="#cfcfcf" stroke-width="0.5"/>
<line x1="362.4" y1="303.6" x2="359.7" y2="388.4" stroke="#cfcfcf" stroke-width="0.5"/>
<line x1="388.3" y1="306.8" x2="384.8" y2="395.2" stroke="#cfcfcf" stroke-width="0.5"/>
<line x1="414.3" y1="310.1" x2="409.9" y2="401.9" stroke="#cfcfcf" stroke-width="0.5"/>
<defs><radialGradient id="ifl" gradientUnits="userSpaceOnUse" cx="355" cy="438" r="70" gradientTransform="translate(355 438) scale(1 0.6) translate(-355 -438)"><stop offset="0" stop-color="#f42020"/><stop offset="0.45" stop-color="#f45050"/><stop offset="0.8" stop-color="#f6b0b0"/><stop offset="1" stop-color="#f8dcdc"/></radialGradient></defs>
<polygon points="241.5,398.0 309.5,375.0 435.0,408.6 371.3,445.3" fill="url(#ifl)" />
<polygon points="243.0,397.0 268.0,389.0 300.0,383.5 318.0,387.0 320.0,394.0 300.0,391.0 268.0,391.5 246.0,397.8" fill="#fdf2f2" opacity="0.9"/>
<defs><linearGradient id="ifb" gradientUnits="userSpaceOnUse" x1="284" y1="391" x2="281" y2="410"><stop offset="0" stop-color="#b8b8f6"/><stop offset="0.45" stop-color="#2626e4"/><stop offset="0.75" stop-color="#6a6aee"/><stop offset="1" stop-color="#e8e8fa"/></linearGradient><linearGradient id="ifw" gradientUnits="userSpaceOnUse" x1="244" y1="0" x2="285" y2="0"><stop offset="0" stop-color="#ffffff" stop-opacity="0.75"/><stop offset="1" stop-color="#ffffff" stop-opacity="0"/></linearGradient></defs>
<polygon points="245.6,397.7 268.0,392.0 306.7,392.0 318.0,399.3 323.5,406.5 322.7,410.5 300.2,409.0 276.0,407.3 245.6,399.0" fill="url(#ifb)" />
<polygon points="245.6,397.7 268.0,392.0 306.7,392.0 318.0,399.3 323.5,406.5 322.7,410.5 300.2,409.0 276.0,407.3 245.6,399.0" fill="url(#ifw)" />
<polygon points="246.0,399.3 276.0,407.6 300.2,409.3 323.0,410.8 336.0,414.5 300.0,414.0 274.0,411.5 249.0,402.0" fill="#ffffff" opacity="0.85"/>
<line x1="310.5" y1="297.1" x2="310.5" y2="330" stroke="#222" stroke-width="0.7"/>
<defs><linearGradient id="isf" gradientUnits="userSpaceOnUse" x1="388" y1="340" x2="378" y2="420"><stop offset="0" stop-color="#fdf8f8"/><stop offset="0.16" stop-color="#f9e0e0"/><stop offset="0.33" stop-color="#f6c2c2"/><stop offset="0.5" stop-color="#f59c9c"/><stop offset="0.68" stop-color="#f46262"/><stop offset="0.85" stop-color="#f42e2e"/><stop offset="1" stop-color="#f41c1c"/></linearGradient></defs>
<polygon points="242.0,344.9 243.3,344.5 244.7,344.2 246.0,343.1 247.3,342.2 248.7,341.1 250.0,339.2 251.2,339.9 252.5,338.3 253.8,336.5 255.0,335.7 256.2,335.1 257.5,335.2 258.8,333.8 260.0,331.8 261.2,330.6 262.5,330.3 263.8,330.6 265.0,328.1 266.4,328.9 267.8,327.8 269.1,327.1 270.5,326.3 271.9,326.2 273.2,325.3 274.6,323.3 276.0,324.1 277.4,322.7 278.8,322.8 280.1,321.1 281.5,321.2 282.9,320.5 284.2,313.5 285.6,318.1 286.9,313.3 288.3,314.6 289.6,312.8 291.0,312.4 292.5,313.0 294.0,311.4 295.5,310.2 296.9,310.3 298.2,313.7 299.6,310.3 300.9,311.9 302.3,311.8 303.6,316.8 305.0,313.5 306.6,317.2 308.2,314.3 309.8,314.0 311.4,315.3 313.0,316.5 314.2,316.8 315.3,318.7 316.5,320.0 317.7,318.3 318.8,322.2 320.0,321.4 321.3,320.6 322.7,322.3 324.0,323.3 325.4,325.7 326.7,326.6 328.1,328.4 329.4,328.7 330.8,330.1 332.3,326.2 333.7,330.2 335.1,331.2 336.6,331.7 338.0,332.5 339.4,333.0 340.8,334.7 342.2,334.0 343.6,335.1 345.0,335.7 346.4,338.4 347.8,339.0 349.2,339.8 350.6,339.6 352.0,341.3 353.4,341.6 354.9,342.5 356.3,343.2 357.7,343.8 359.1,344.2 360.6,344.0 362.0,344.6 363.6,344.9 365.1,345.6 366.7,347.7 368.2,347.6 369.8,348.0 371.4,348.9 372.9,347.4 374.5,348.1 376.1,349.5 377.6,350.7 379.1,350.5 380.7,351.4 382.2,351.4 383.8,351.7 385.4,351.0 386.9,352.6 388.4,353.9 390.0,353.7 391.5,353.9 393.0,354.7 394.6,355.7 396.1,354.2 397.6,356.6 399.1,355.7 400.7,356.5 402.2,356.4 403.7,357.2 405.2,359.0 406.8,359.5 408.3,359.8 409.8,359.0 411.3,360.7 412.8,361.3 414.4,361.3 415.9,362.7 417.4,361.1 418.9,362.2 420.4,362.9 422.0,363.2 423.5,363.3 425.0,365.7 426.6,364.8 428.1,365.3 429.7,366.6 431.3,367.7 432.9,367.1 434.4,369.1 436.0,370.0 436.0,368.7 436.0,370.2 436.0,372.6 436.0,374.6 434.7,375.1 433.3,376.1 432.0,377.4 430.7,377.9 429.3,378.7 428.0,379.9 426.7,381.8 425.3,381.3 424.0,383.0 422.7,383.0 421.3,384.7 420.0,385.0 418.6,386.2 417.1,386.6 415.7,387.2 414.3,388.0 412.9,389.0 411.4,389.8 410.0,390.8 408.6,391.2 407.1,391.7 405.7,393.6 404.3,394.0 402.9,394.8 401.4,395.2 400.0,396.0 398.7,396.7 397.3,397.7 396.0,397.6 394.9,399.8 393.7,400.4 392.5,402.2 391.4,403.7 390.8,404.7 390.3,405.7 389.7,408.0 389.1,408.3 388.6,411.1 388.0,411.4 387.4,412.8 386.8,414.0 386.3,415.9 385.7,417.4 385.1,419.3 384.6,419.7 384.0,422.5 384.0,421.4 382.6,421.7 381.1,420.5 379.7,419.9 378.2,418.8 376.8,419.3 375.4,418.4 373.9,417.1 372.5,416.4 371.0,417.3 369.5,415.9 368.0,416.7 366.5,416.1 365.0,415.0 363.5,415.0 362.0,415.5 360.5,414.5 359.0,414.5 357.6,414.5 356.1,413.5 354.7,412.6 353.2,412.2 351.8,411.8 350.3,411.8 348.9,410.5 347.4,409.5 346.0,409.0 344.5,409.8 343.0,409.3 341.5,408.7 340.0,408.5 338.5,408.2 337.0,408.0 335.5,407.2 334.0,406.9 332.5,406.8 331.0,406.8 329.5,406.1 328.0,406.1 326.5,406.5 325.0,406.4 323.7,404.1 322.4,404.2 321.1,403.5 319.8,401.8 318.5,400.2 317.2,400.5 315.9,398.5 314.6,398.7 313.4,397.7 312.2,396.3 311.1,394.9 309.9,393.7 308.7,394.1 307.5,392.6 306.4,391.7 305.2,390.8 304.0,390.2 302.7,388.2 301.5,387.1 300.2,387.6 298.9,386.5 297.6,384.7 296.4,385.1 295.1,382.9 293.8,382.7 292.5,382.1 291.3,381.0 290.0,380.8 289.4,378.8 288.8,377.3 288.2,375.6 287.6,374.5 287.0,373.3 286.4,370.6 285.8,369.9 285.2,368.5 284.6,366.7 284.0,364.6 283.4,363.0 282.7,361.8 282.0,360.6 281.4,358.9 280.0,356.6 278.7,356.4 277.4,355.2 276.0,354.8 274.6,353.3 273.1,352.0 271.7,351.3 270.3,350.1 268.9,350.2 267.4,349.4 266.0,348.0 264.5,348.6 263.0,348.4 261.5,348.1 260.0,347.2 258.5,347.1 257.0,347.9 255.5,347.2 254.0,347.9 252.5,347.2 251.0,347.6 249.5,346.5 248.0,347.3 246.5,347.6 245.0,347.1 243.5,346.5 242.0,347.5" fill="url(#isf)" />
<line x1="295.0" y1="392.4" x2="295.0" y2="395.5" stroke="#ffffff" stroke-width="0.6" opacity="0.25"/>
<line x1="285.0" y1="371.0" x2="285.0" y2="378.4" stroke="#ffffff" stroke-width="0.6" opacity="0.25"/>
<line x1="297.3" y1="366.8" x2="297.3" y2="375.7" stroke="#ffffff" stroke-width="0.6" opacity="0.25"/>
<line x1="427.0" y1="364.3" x2="427.0" y2="373.1" stroke="#ffffff" stroke-width="0.6" opacity="0.25"/>
<line x1="354.1" y1="353.4" x2="354.1" y2="357.1" stroke="#ffffff" stroke-width="0.6" opacity="0.25"/>
<line x1="371.9" y1="392.9" x2="371.9" y2="397.2" stroke="#ffffff" stroke-width="0.6" opacity="0.25"/>
<line x1="389.4" y1="399.2" x2="389.4" y2="405.8" stroke="#ffffff" stroke-width="0.6" opacity="0.25"/>
<line x1="360.7" y1="373.5" x2="360.7" y2="378.0" stroke="#ffffff" stroke-width="0.6" opacity="0.25"/>
<line x1="393.7" y1="356.1" x2="393.7" y2="363.5" stroke="#ffffff" stroke-width="0.6" opacity="0.25"/>
<line x1="383.2" y1="359.8" x2="383.2" y2="365.9" stroke="#ffffff" stroke-width="0.6" opacity="0.25"/>
<line x1="335.3" y1="374.5" x2="335.3" y2="383.2" stroke="#ffffff" stroke-width="0.6" opacity="0.25"/>
<line x1="313.1" y1="410.6" x2="313.1" y2="415.7" stroke="#ffffff" stroke-width="0.6" opacity="0.25"/>
<line x1="415.1" y1="365.2" x2="415.1" y2="369.3" stroke="#ffffff" stroke-width="0.6" opacity="0.25"/>
<line x1="320.7" y1="410.4" x2="320.7" y2="415.4" stroke="#ffffff" stroke-width="0.6" opacity="0.25"/>
<line x1="405.4" y1="361.7" x2="405.4" y2="365.4" stroke="#ffffff" stroke-width="0.6" opacity="0.25"/>
<line x1="434.4" y1="404.7" x2="434.4" y2="409.8" stroke="#ffffff" stroke-width="0.6" opacity="0.25"/>
<line x1="334.3" y1="406.3" x2="334.3" y2="411.8" stroke="#ffffff" stroke-width="0.6" opacity="0.25"/>
<line x1="356.1" y1="404.8" x2="356.1" y2="414.0" stroke="#ffffff" stroke-width="0.6" opacity="0.25"/>
<line x1="318.6" y1="397.6" x2="318.6" y2="403.2" stroke="#ffffff" stroke-width="0.6" opacity="0.25"/>
<line x1="411.1" y1="402.0" x2="411.1" y2="411.1" stroke="#ffffff" stroke-width="0.6" opacity="0.25"/>
<line x1="344.3" y1="404.9" x2="344.3" y2="414.4" stroke="#ffffff" stroke-width="0.6" opacity="0.25"/>
<line x1="363.2" y1="356.0" x2="363.2" y2="364.8" stroke="#ffffff" stroke-width="0.6" opacity="0.25"/>
<line x1="376.5" y1="369.6" x2="376.5" y2="373.4" stroke="#ffffff" stroke-width="0.6" opacity="0.25"/>
<line x1="299.8" y1="373.1" x2="299.8" y2="376.4" stroke="#ffffff" stroke-width="0.6" opacity="0.25"/>
<line x1="413.6" y1="356.4" x2="413.6" y2="362.9" stroke="#ffffff" stroke-width="0.6" opacity="0.25"/>
<line x1="399.5" y1="403.2" x2="399.5" y2="413.0" stroke="#ffffff" stroke-width="0.6" opacity="0.25"/>
<line x1="373.3" y1="378.4" x2="373.3" y2="382.8" stroke="#ffffff" stroke-width="0.6" opacity="0.25"/>
<line x1="357.3" y1="378.6" x2="357.3" y2="382.0" stroke="#ffffff" stroke-width="0.6" opacity="0.25"/>
<line x1="300.0" y1="384.0" x2="300.0" y2="392.3" stroke="#ffffff" stroke-width="0.6" opacity="0.25"/>
<line x1="290.0" y1="390.3" x2="290.0" y2="394.5" stroke="#ffffff" stroke-width="0.6" opacity="0.25"/>
<line x1="331.7" y1="395.9" x2="331.7" y2="403.4" stroke="#ffffff" stroke-width="0.6" opacity="0.25"/>
<line x1="347.4" y1="363.9" x2="347.4" y2="367.4" stroke="#ffffff" stroke-width="0.6" opacity="0.25"/>
<line x1="376.5" y1="375.5" x2="376.5" y2="384.1" stroke="#ffffff" stroke-width="0.6" opacity="0.25"/>
<line x1="349.7" y1="404.5" x2="349.7" y2="413.9" stroke="#ffffff" stroke-width="0.6" opacity="0.25"/>
<line x1="292.1" y1="369.5" x2="292.1" y2="372.7" stroke="#ffffff" stroke-width="0.6" opacity="0.25"/>
<line x1="312.9" y1="370.3" x2="312.9" y2="373.4" stroke="#ffffff" stroke-width="0.6" opacity="0.25"/>
<line x1="373.1" y1="377.9" x2="373.1" y2="385.9" stroke="#ffffff" stroke-width="0.6" opacity="0.25"/>
<line x1="328.5" y1="370.4" x2="328.5" y2="373.7" stroke="#ffffff" stroke-width="0.6" opacity="0.25"/>
<line x1="417.4" y1="378.5" x2="417.4" y2="382.6" stroke="#ffffff" stroke-width="0.6" opacity="0.25"/>
<line x1="353.8" y1="408.6" x2="353.8" y2="413.0" stroke="#ffffff" stroke-width="0.6" opacity="0.25"/>
<line x1="414.8" y1="356.7" x2="414.8" y2="365.4" stroke="#ffffff" stroke-width="0.6" opacity="0.25"/>
<line x1="412.6" y1="367.6" x2="412.6" y2="373.7" stroke="#ffffff" stroke-width="0.6" opacity="0.25"/>
<line x1="403.7" y1="371.5" x2="403.7" y2="380.5" stroke="#ffffff" stroke-width="0.6" opacity="0.25"/>
<line x1="391.4" y1="357.2" x2="391.4" y2="366.1" stroke="#ffffff" stroke-width="0.6" opacity="0.25"/>
<line x1="284.9" y1="358.5" x2="284.9" y2="365.2" stroke="#ffffff" stroke-width="0.6" opacity="0.25"/>
<line x1="407.4" y1="381.9" x2="407.4" y2="389.5" stroke="#ffffff" stroke-width="0.6" opacity="0.25"/>
<line x1="400.1" y1="363.4" x2="400.1" y2="368.2" stroke="#ffffff" stroke-width="0.6" opacity="0.25"/>
<line x1="365.4" y1="365.2" x2="365.4" y2="371.4" stroke="#ffffff" stroke-width="0.6" opacity="0.25"/>
<line x1="374.6" y1="357.5" x2="374.6" y2="364.2" stroke="#ffffff" stroke-width="0.6" opacity="0.25"/>
<line x1="370.0" y1="402.5" x2="370.0" y2="411.2" stroke="#ffffff" stroke-width="0.6" opacity="0.25"/>
<line x1="362.7" y1="389.4" x2="362.7" y2="398.2" stroke="#ffffff" stroke-width="0.6" opacity="0.25"/>
<line x1="422.2" y1="353.5" x2="422.2" y2="358.5" stroke="#ffffff" stroke-width="0.6" opacity="0.25"/>
<line x1="409.3" y1="353.2" x2="409.3" y2="358.9" stroke="#ffffff" stroke-width="0.6" opacity="0.25"/>
<line x1="428.5" y1="362.8" x2="428.5" y2="366.4" stroke="#ffffff" stroke-width="0.6" opacity="0.25"/>
<line x1="383.4" y1="384.3" x2="383.4" y2="389.0" stroke="#ffffff" stroke-width="0.6" opacity="0.25"/>
<line x1="302.3" y1="403.0" x2="302.3" y2="406.0" stroke="#ffffff" stroke-width="0.6" opacity="0.25"/>
<line x1="398.3" y1="362.1" x2="398.3" y2="366.3" stroke="#ffffff" stroke-width="0.6" opacity="0.25"/>
<line x1="357.2" y1="351.5" x2="357.2" y2="359.8" stroke="#ffffff" stroke-width="0.6" opacity="0.25"/>
<line x1="433.9" y1="366.9" x2="433.9" y2="375.0" stroke="#ffffff" stroke-width="0.6" opacity="0.25"/>
<line x1="358.0" y1="385.7" x2="358.0" y2="389.5" stroke="#ffffff" stroke-width="0.6" opacity="0.25"/>
<line x1="356.9" y1="363.8" x2="356.9" y2="372.0" stroke="#ffffff" stroke-width="0.6" opacity="0.25"/>
<line x1="421.9" y1="369.4" x2="421.9" y2="376.0" stroke="#ffffff" stroke-width="0.6" opacity="0.25"/>
<line x1="411.2" y1="409.6" x2="411.2" y2="416.5" stroke="#ffffff" stroke-width="0.6" opacity="0.25"/>
<line x1="429.4" y1="387.4" x2="429.4" y2="391.7" stroke="#ffffff" stroke-width="0.6" opacity="0.25"/>
<line x1="384.4" y1="378.8" x2="384.4" y2="383.2" stroke="#ffffff" stroke-width="0.6" opacity="0.25"/>
<line x1="303.7" y1="384.6" x2="303.7" y2="388.8" stroke="#ffffff" stroke-width="0.6" opacity="0.25"/>
<line x1="298.5" y1="378.3" x2="298.5" y2="384.7" stroke="#ffffff" stroke-width="0.6" opacity="0.25"/>
<line x1="330.7" y1="402.6" x2="330.7" y2="409.8" stroke="#ffffff" stroke-width="0.6" opacity="0.25"/>
<line x1="332.0" y1="365.2" x2="332.0" y2="371.0" stroke="#ffffff" stroke-width="0.6" opacity="0.25"/>
<line x1="419.9" y1="396.1" x2="419.9" y2="404.8" stroke="#ffffff" stroke-width="0.6" opacity="0.25"/>
<line x1="292.3" y1="358.1" x2="292.3" y2="367.0" stroke="#ffffff" stroke-width="0.6" opacity="0.25"/>
<line x1="385.9" y1="358.5" x2="385.9" y2="365.9" stroke="#ffffff" stroke-width="0.6" opacity="0.25"/>
<line x1="302.6" y1="369.1" x2="302.6" y2="377.5" stroke="#ffffff" stroke-width="0.6" opacity="0.25"/>
<line x1="310.7" y1="401.3" x2="310.7" y2="409.5" stroke="#ffffff" stroke-width="0.6" opacity="0.25"/>
<line x1="341.5" y1="406.4" x2="341.5" y2="413.6" stroke="#ffffff" stroke-width="0.6" opacity="0.25"/>
<line x1="326.7" y1="396.9" x2="326.7" y2="401.2" stroke="#ffffff" stroke-width="0.6" opacity="0.25"/>
<line x1="324.6" y1="411.3" x2="324.6" y2="420.9" stroke="#ffffff" stroke-width="0.6" opacity="0.25"/>
<line x1="337.4" y1="367.4" x2="337.4" y2="374.3" stroke="#ffffff" stroke-width="0.6" opacity="0.25"/>
<line x1="333.0" y1="361.7" x2="333.0" y2="371.6" stroke="#ffffff" stroke-width="0.6" opacity="0.25"/>
<line x1="319.6" y1="398.0" x2="319.6" y2="403.1" stroke="#ffffff" stroke-width="0.6" opacity="0.25"/>
<line x1="420.6" y1="388.0" x2="420.6" y2="391.6" stroke="#ffffff" stroke-width="0.6" opacity="0.25"/>
<line x1="366.7" y1="359.2" x2="366.7" y2="365.0" stroke="#ffffff" stroke-width="0.6" opacity="0.25"/>
<line x1="323.7" y1="397.8" x2="323.7" y2="404.4" stroke="#ffffff" stroke-width="0.6" opacity="0.25"/>
<line x1="357.1" y1="376.0" x2="357.1" y2="381.8" stroke="#ffffff" stroke-width="0.6" opacity="0.25"/>
<line x1="388.3" y1="374.4" x2="388.3" y2="383.3" stroke="#ffffff" stroke-width="0.6" opacity="0.25"/>
<line x1="434.0" y1="384.9" x2="434.0" y2="392.2" stroke="#ffffff" stroke-width="0.6" opacity="0.25"/>
<line x1="345.7" y1="384.6" x2="345.7" y2="392.6" stroke="#ffffff" stroke-width="0.6" opacity="0.25"/>
<line x1="407.0" y1="351.0" x2="407.0" y2="358.9" stroke="#ffffff" stroke-width="0.6" opacity="0.25"/>
<line x1="309.6" y1="371.2" x2="309.6" y2="377.6" stroke="#ffffff" stroke-width="0.6" opacity="0.25"/>
<line x1="315.1" y1="383.2" x2="315.1" y2="392.3" stroke="#ffffff" stroke-width="0.6" opacity="0.25"/>
<line x1="424.0" y1="373.5" x2="424.0" y2="381.6" stroke="#ffffff" stroke-width="0.6" opacity="0.25"/>
<line x1="414.8" y1="408.9" x2="414.8" y2="413.2" stroke="#ffffff" stroke-width="0.6" opacity="0.25"/>
<line x1="416.8" y1="358.8" x2="416.8" y2="365.1" stroke="#ffffff" stroke-width="0.6" opacity="0.25"/>
<line x1="360.0" y1="354.3" x2="360.0" y2="359.0" stroke="#ffffff" stroke-width="0.6" opacity="0.25"/>
<line x1="341.1" y1="363.4" x2="341.1" y2="366.4" stroke="#ffffff" stroke-width="0.6" opacity="0.25"/>
<line x1="389.6" y1="372.4" x2="389.6" y2="378.1" stroke="#ffffff" stroke-width="0.6" opacity="0.25"/>
<line x1="340.0" y1="390.1" x2="340.0" y2="397.4" stroke="#ffffff" stroke-width="0.6" opacity="0.25"/>
<line x1="403.3" y1="377.9" x2="403.3" y2="384.2" stroke="#ffffff" stroke-width="0.6" opacity="0.25"/>
<line x1="381.9" y1="392.9" x2="381.9" y2="397.9" stroke="#ffffff" stroke-width="0.6" opacity="0.25"/>
<line x1="397.6" y1="367.9" x2="397.6" y2="375.8" stroke="#ffffff" stroke-width="0.6" opacity="0.25"/>
<line x1="372.8" y1="399.0" x2="372.8" y2="402.5" stroke="#ffffff" stroke-width="0.6" opacity="0.25"/>
<line x1="352.1" y1="366.6" x2="352.1" y2="371.9" stroke="#ffffff" stroke-width="0.6" opacity="0.25"/>
<line x1="367.1" y1="381.3" x2="367.1" y2="385.2" stroke="#ffffff" stroke-width="0.6" opacity="0.25"/>
<line x1="369.4" y1="370.7" x2="369.4" y2="379.4" stroke="#ffffff" stroke-width="0.6" opacity="0.25"/>
<line x1="298.1" y1="364.2" x2="298.1" y2="369.7" stroke="#ffffff" stroke-width="0.6" opacity="0.25"/>
<line x1="348.1" y1="376.6" x2="348.1" y2="383.0" stroke="#ffffff" stroke-width="0.6" opacity="0.25"/>
<line x1="430.8" y1="351.6" x2="430.8" y2="361.5" stroke="#ffffff" stroke-width="0.6" opacity="0.25"/>
<line x1="343.8" y1="382.8" x2="343.8" y2="390.4" stroke="#ffffff" stroke-width="0.6" opacity="0.25"/>
<line x1="421.4" y1="351.4" x2="421.4" y2="355.8" stroke="#ffffff" stroke-width="0.6" opacity="0.25"/>
<line x1="311.0" y1="399.1" x2="311.0" y2="405.2" stroke="#ffffff" stroke-width="0.6" opacity="0.25"/>
<line x1="330.4" y1="359.2" x2="330.4" y2="365.3" stroke="#ffffff" stroke-width="0.6" opacity="0.25"/>
<line x1="366.2" y1="367.6" x2="366.2" y2="373.1" stroke="#ffffff" stroke-width="0.6" opacity="0.25"/>
<line x1="434.8" y1="388.0" x2="434.8" y2="393.2" stroke="#ffffff" stroke-width="0.6" opacity="0.25"/>
<line x1="329.9" y1="398.5" x2="329.9" y2="403.5" stroke="#ffffff" stroke-width="0.6" opacity="0.25"/>
<line x1="330.9" y1="395.9" x2="330.9" y2="400.7" stroke="#ffffff" stroke-width="0.6" opacity="0.25"/>
<line x1="361.9" y1="382.9" x2="361.9" y2="386.9" stroke="#ffffff" stroke-width="0.6" opacity="0.25"/>
<line x1="384.8" y1="410.3" x2="384.8" y2="418.9" stroke="#ffffff" stroke-width="0.6" opacity="0.25"/>
<line x1="335.4" y1="356.9" x2="335.4" y2="365.7" stroke="#ffffff" stroke-width="0.6" opacity="0.25"/>
<line x1="321.4" y1="373.8" x2="321.4" y2="377.2" stroke="#ffffff" stroke-width="0.6" opacity="0.25"/>
<line x1="396.4" y1="384.9" x2="396.4" y2="391.4" stroke="#ffffff" stroke-width="0.6" opacity="0.25"/>
<line x1="348.6" y1="392.0" x2="348.6" y2="395.8" stroke="#ffffff" stroke-width="0.6" opacity="0.25"/>
<line x1="295.2" y1="358.6" x2="295.2" y2="366.5" stroke="#ffffff" stroke-width="0.6" opacity="0.25"/>
<line x1="288.4" y1="397.3" x2="288.4" y2="405.5" stroke="#ffffff" stroke-width="0.6" opacity="0.25"/>
<line x1="314.3" y1="379.6" x2="314.3" y2="387.8" stroke="#ffffff" stroke-width="0.6" opacity="0.25"/>
<line x1="366.7" y1="361.5" x2="366.7" y2="367.2" stroke="#ffffff" stroke-width="0.6" opacity="0.25"/>
<line x1="408.1" y1="376.4" x2="408.1" y2="385.0" stroke="#ffffff" stroke-width="0.6" opacity="0.25"/>
<line x1="346.1" y1="372.6" x2="346.1" y2="380.3" stroke="#ffffff" stroke-width="0.6" opacity="0.25"/>
<line x1="353.1" y1="403.3" x2="353.1" y2="406.6" stroke="#ffffff" stroke-width="0.6" opacity="0.25"/>
<line x1="427.0" y1="358.2" x2="427.0" y2="367.5" stroke="#ffffff" stroke-width="0.6" opacity="0.25"/>
<line x1="338.7" y1="371.1" x2="338.7" y2="375.6" stroke="#ffffff" stroke-width="0.6" opacity="0.25"/>
<line x1="406.5" y1="400.1" x2="406.5" y2="406.9" stroke="#ffffff" stroke-width="0.6" opacity="0.25"/>
<line x1="382.4" y1="354.6" x2="382.4" y2="362.1" stroke="#ffffff" stroke-width="0.6" opacity="0.25"/>
<line x1="405.5" y1="409.8" x2="405.5" y2="417.0" stroke="#ffffff" stroke-width="0.6" opacity="0.25"/>
<line x1="416.7" y1="375.0" x2="416.7" y2="378.1" stroke="#ffffff" stroke-width="0.6" opacity="0.25"/>
<line x1="348.0" y1="393.3" x2="348.0" y2="399.9" stroke="#ffffff" stroke-width="0.6" opacity="0.25"/>
<line x1="365.4" y1="356.1" x2="365.4" y2="360.0" stroke="#ffffff" stroke-width="0.6" opacity="0.25"/>
<line x1="382.7" y1="388.2" x2="382.7" y2="397.9" stroke="#ffffff" stroke-width="0.6" opacity="0.25"/>
<line x1="432.0" y1="387.9" x2="432.0" y2="394.3" stroke="#ffffff" stroke-width="0.6" opacity="0.25"/>
<line x1="404.2" y1="401.9" x2="404.2" y2="405.6" stroke="#ffffff" stroke-width="0.6" opacity="0.25"/>
<line x1="282.0" y1="381.5" x2="282.0" y2="386.3" stroke="#ffffff" stroke-width="0.6" opacity="0.25"/>
<defs><linearGradient id="ibl" gradientUnits="userSpaceOnUse" x1="0" y1="311" x2="0" y2="352"><stop offset="0" stop-color="#1414fa"/><stop offset="0.2" stop-color="#3030f8"/><stop offset="0.45" stop-color="#7070f6"/><stop offset="0.75" stop-color="#bcbcfa"/><stop offset="1" stop-color="#f8f8ff"/></linearGradient></defs>
<polygon points="242.0,344.9 243.3,344.5 244.7,344.2 246.0,343.1 247.3,342.2 248.7,341.1 250.0,339.2 251.2,339.9 252.5,338.3 253.8,336.5 255.0,335.7 256.2,335.1 257.5,335.2 258.8,333.8 260.0,331.8 261.2,330.6 262.5,330.3 263.8,330.6 265.0,328.1 266.4,328.9 267.8,327.8 269.1,327.1 270.5,326.3 271.9,326.2 273.2,325.3 274.6,323.3 276.0,324.1 277.4,322.7 278.8,322.8 280.1,321.1 281.5,321.2 282.9,320.5 284.2,313.5 285.6,318.1 286.9,313.3 288.3,314.6 289.6,312.8 291.0,312.4 292.5,313.0 294.0,311.4 295.5,310.2 296.9,310.3 298.2,313.7 299.6,310.3 300.9,311.9 302.3,311.8 303.6,316.8 305.0,313.5 306.6,317.2 308.2,314.3 309.8,314.0 311.4,315.3 313.0,316.5 314.2,316.8 315.3,318.7 316.5,320.0 317.7,318.3 318.8,322.2 320.0,321.4 321.3,320.6 322.7,322.3 324.0,323.3 325.4,325.7 326.7,326.6 328.1,328.4 329.4,328.7 330.8,330.1 332.3,326.2 333.7,330.2 335.1,331.2 336.6,331.7 338.0,332.5 339.4,333.0 340.8,334.7 342.2,334.0 343.6,335.1 345.0,335.7 346.4,338.4 347.8,339.0 349.2,339.8 350.6,339.6 352.0,341.3 353.4,341.6 354.9,342.5 356.3,343.2 357.7,343.8 359.1,344.2 360.6,344.0 362.0,344.6 363.6,344.9 365.1,345.6 366.0,348.0 345.0,350.0 320.0,351.5 295.0,351.0 270.0,349.0 262.0,348.3 242.0,348.0" fill="url(#ibl)" />
<polyline points="241.5,398 237.6,308.3 310.5,297.1 440.2,313.3 435,408.6" fill="none" stroke="#222" stroke-width="0.9"/>
<polyline points="241.5,398 371.3,445.3 435,408.6" fill="none" stroke="#222" stroke-width="0.9"/>
<line x1="237" y1="336" x2="239.5" y2="336" stroke="#222" stroke-width="0.7"/>
<text x="236.7" y="338.8" font-size="8" fill="#000" text-anchor="end" font-family="Liberation Serif" font-weight="bold" >-0.2</text>
<line x1="237" y1="362.4" x2="239.5" y2="362.4" stroke="#222" stroke-width="0.7"/>
<text x="236.7" y="365.2" font-size="8" fill="#000" text-anchor="end" font-family="Liberation Serif" font-weight="bold" >0.0</text>
<line x1="237" y1="388.8" x2="239.5" y2="388.8" stroke="#222" stroke-width="0.7"/>
<text x="236.7" y="391.6" font-size="8" fill="#000" text-anchor="end" font-family="Liberation Serif" font-weight="bold" >0.2</text>
<text x="224.6" y="306.4" font-size="15" fill="#000" text-anchor="start" font-family="Liberation Serif" font-weight="bold" >i</text>
<text x="221.5" y="360" font-size="9" fill="#000" text-anchor="middle" font-family="Liberation Serif" font-weight="bold" transform="rotate(-90 221.5 360)"><tspan dy="0.00">ΔA (mOD)</tspan></text>
<text x="243" y="319.3" font-size="10.2" font-family="Liberation Serif" font-weight="bold" transform="rotate(-9.5 243 319.3)">λ = 340 nm</text>
<text x="398" y="321.8" font-size="10" fill="#000" text-anchor="start" font-family="Liberation Serif" font-weight="bold" ><tspan dy="0.00">Zn</tspan><tspan dy="2.80" font-size="6.80">3</tspan><tspan dy="-2.80">In</tspan><tspan dy="2.80" font-size="6.80">4</tspan><tspan dy="-2.80">S</tspan><tspan dy="2.80" font-size="6.80">9</tspan></text>
<text x="0" y="3.2" font-size="9.2" font-family="Liberation Serif" font-weight="bold" fill="#111" text-anchor="middle" transform="translate(234 402.5) rotate(-25) skewX(-12)">400</text>
<text x="0" y="3.2" font-size="9.2" font-family="Liberation Serif" font-weight="bold" fill="#111" text-anchor="middle" transform="translate(255.4 411.2) rotate(-25) skewX(-12)">440</text>
<text x="0" y="3.2" font-size="9.2" font-family="Liberation Serif" font-weight="bold" fill="#111" text-anchor="middle" transform="translate(279 418.5) rotate(-25) skewX(-12)">480</text>
<text x="0" y="3.2" font-size="9.2" font-family="Liberation Serif" font-weight="bold" fill="#111" text-anchor="middle" transform="translate(304.5 427.3) rotate(-25) skewX(-12)">520</text>
<text x="0" y="3.2" font-size="9.2" font-family="Liberation Serif" font-weight="bold" fill="#111" text-anchor="middle" transform="translate(331.6 438.7) rotate(-25) skewX(-12)">560</text>
<text x="0" y="3.2" font-size="9.2" font-family="Liberation Serif" font-weight="bold" fill="#111" text-anchor="middle" transform="translate(363.1 450) rotate(-45) skewX(-12)">600</text>
<text x="0" y="3.3" font-size="9.8" font-family="Liberation Serif" font-weight="bold" font-style="italic" text-anchor="middle" transform="translate(278.4 434.2) rotate(21.6) skewX(-15)">Wavelength (nm)</text>
<text x="0" y="3.2" font-size="9.2" font-family="Liberation Serif" font-weight="bold" fill="#111" text-anchor="middle" transform="translate(385.9 443.8) rotate(10) skewX(-20)">0.1</text>
<text x="0" y="3.2" font-size="9.2" font-family="Liberation Serif" font-weight="bold" fill="#111" text-anchor="middle" transform="translate(398.2 435) rotate(10) skewX(-20)">1</text>
<text x="0" y="3.2" font-size="9.2" font-family="Liberation Serif" font-weight="bold" fill="#111" text-anchor="middle" transform="translate(414 428) rotate(10) skewX(-20)">10</text>
<text x="0" y="3.2" font-size="9.2" font-family="Liberation Serif" font-weight="bold" fill="#111" text-anchor="middle" transform="translate(429.7 422) rotate(10) skewX(-20)">100</text>
<text x="0" y="3.2" font-size="9.2" font-family="Liberation Serif" font-weight="bold" fill="#111" text-anchor="middle" transform="translate(446.2 415.7) rotate(10) skewX(-20)">1000</text>
<text x="0" y="3.3" font-size="9.6" font-family="Liberation Serif" font-weight="bold" text-anchor="middle" transform="translate(443 435) rotate(-32)">Delay time (ps)</text>
<polygon points="244.0,470.8 317.6,459.9 317.0,540.0 250.5,564.0" fill="#fbf9f1" />
<polygon points="317.6,459.9 444.9,475.8 437.4,575.2 317.0,540.0" fill="#eff5fa" />
<line x1="258.7" y1="468.6" x2="263.8" y2="559.2" stroke="#cfcfcf" stroke-width="0.5"/>
<line x1="273.4" y1="466.4" x2="277.1" y2="554.4" stroke="#cfcfcf" stroke-width="0.5"/>
<line x1="288.2" y1="464.3" x2="290.4" y2="549.6" stroke="#cfcfcf" stroke-width="0.5"/>
<line x1="302.9" y1="462.1" x2="303.7" y2="544.8" stroke="#cfcfcf" stroke-width="0.5"/>
<line x1="245.6" y1="494.1" x2="317.5" y2="479.9" stroke="#cfcfcf" stroke-width="0.5"/>
<line x1="317.5" y1="479.9" x2="443.0" y2="500.7" stroke="#cfcfcf" stroke-width="0.5"/>
<line x1="247.2" y1="517.4" x2="317.3" y2="499.9" stroke="#cfcfcf" stroke-width="0.5"/>
<line x1="317.3" y1="499.9" x2="441.1" y2="525.5" stroke="#cfcfcf" stroke-width="0.5"/>
<line x1="248.9" y1="540.7" x2="317.1" y2="520.0" stroke="#cfcfcf" stroke-width="0.5"/>
<line x1="317.1" y1="520.0" x2="439.3" y2="550.4" stroke="#cfcfcf" stroke-width="0.5"/>
<line x1="343.1" y1="463.1" x2="341.1" y2="547.0" stroke="#cfcfcf" stroke-width="0.5"/>
<line x1="368.5" y1="466.3" x2="365.2" y2="554.1" stroke="#cfcfcf" stroke-width="0.5"/>
<line x1="394.0" y1="469.4" x2="389.2" y2="561.1" stroke="#cfcfcf" stroke-width="0.5"/>
<line x1="419.4" y1="472.6" x2="413.3" y2="568.2" stroke="#cfcfcf" stroke-width="0.5"/>
<defs><linearGradient id="jfl" gradientUnits="userSpaceOnUse" x1="0" y1="540" x2="0" y2="610"><stop offset="0" stop-color="#f6dada"/><stop offset="1" stop-color="#f2c4c4"/></linearGradient></defs>
<polygon points="250.5,564.0 317.0,540.0 437.4,575.2 379.4,610.3" fill="url(#jfl)" />
<defs><linearGradient id="jfb" gradientUnits="userSpaceOnUse" x1="300" y1="553" x2="304" y2="580"><stop offset="0" stop-color="#f4f4fc"/><stop offset="0.28" stop-color="#9090f2"/><stop offset="0.6" stop-color="#1414e0"/><stop offset="0.8" stop-color="#5050ec"/><stop offset="1" stop-color="#f0f0fc"/></linearGradient><linearGradient id="jfw" gradientUnits="userSpaceOnUse" x1="258" y1="0" x2="366" y2="0"><stop offset="0" stop-color="#ffffff" stop-opacity="0.55"/><stop offset="0.3" stop-color="#ffffff" stop-opacity="0.05"/><stop offset="0.75" stop-color="#ffffff" stop-opacity="0"/><stop offset="0.9" stop-color="#ffffff" stop-opacity="0.25"/><stop offset="1" stop-color="#ffffff" stop-opacity="0.6"/></linearGradient></defs>
<polygon points="260.4,567.8 290.0,560.0 317.7,552.5 354.5,555.6 364.7,560.7 362.7,565.8 325.9,578.0 301.3,579.5 268.6,571.0" fill="url(#jfb)" />
<polygon points="260.4,567.8 290.0,560.0 317.7,552.5 354.5,555.6 364.7,560.7 362.7,565.8 325.9,578.0 301.3,579.5 268.6,571.0" fill="url(#jfw)" />
<line x1="277.5" y1="562.4" x2="307.5" y2="559.4" stroke="#fff" stroke-width="0.5" opacity="0.45"/>
<line x1="295.7" y1="570.1" x2="325.7" y2="567.1" stroke="#fff" stroke-width="0.5" opacity="0.45"/>
<line x1="309.8" y1="561.2" x2="339.8" y2="558.2" stroke="#fff" stroke-width="0.5" opacity="0.45"/>
<line x1="266.4" y1="570.4" x2="296.4" y2="567.4" stroke="#fff" stroke-width="0.5" opacity="0.45"/>
<line x1="317.3" y1="570.9" x2="347.3" y2="567.9" stroke="#fff" stroke-width="0.5" opacity="0.45"/>
<line x1="281.8" y1="565.1" x2="311.8" y2="562.1" stroke="#fff" stroke-width="0.5" opacity="0.45"/>
<line x1="307.2" y1="572.1" x2="337.2" y2="569.1" stroke="#fff" stroke-width="0.5" opacity="0.45"/>
<line x1="280.5" y1="557.4" x2="310.5" y2="554.4" stroke="#fff" stroke-width="0.5" opacity="0.45"/>
<line x1="294.6" y1="574.0" x2="324.6" y2="571.0" stroke="#fff" stroke-width="0.5" opacity="0.45"/>
<line x1="312.8" y1="567.6" x2="342.8" y2="564.6" stroke="#fff" stroke-width="0.5" opacity="0.45"/>
<line x1="296.4" y1="570.4" x2="326.4" y2="567.4" stroke="#fff" stroke-width="0.5" opacity="0.45"/>
<line x1="282.8" y1="574.3" x2="312.8" y2="571.3" stroke="#fff" stroke-width="0.5" opacity="0.45"/>
<line x1="271.7" y1="558.0" x2="301.7" y2="555.0" stroke="#fff" stroke-width="0.5" opacity="0.45"/>
<line x1="267.2" y1="561.0" x2="297.2" y2="558.0" stroke="#fff" stroke-width="0.5" opacity="0.45"/>
<polygon points="264.0,567.0 300.0,559.5 345.0,557.0 352.0,559.0 300.0,563.0 268.0,569.5" fill="#ffffff" opacity="0.3"/>
<line x1="390.3" y1="594.3" x2="415.3" y2="587.3" stroke="#fff" stroke-width="0.6" opacity="0.5"/>
<line x1="420.3" y1="580.4" x2="445.3" y2="573.4" stroke="#fff" stroke-width="0.6" opacity="0.5"/>
<line x1="334.8" y1="596.2" x2="359.8" y2="589.2" stroke="#fff" stroke-width="0.6" opacity="0.5"/>
<line x1="353.5" y1="581.2" x2="378.5" y2="574.2" stroke="#fff" stroke-width="0.6" opacity="0.5"/>
<line x1="402.4" y1="585.5" x2="427.4" y2="578.5" stroke="#fff" stroke-width="0.6" opacity="0.5"/>
<line x1="419.4" y1="582.1" x2="444.4" y2="575.1" stroke="#fff" stroke-width="0.6" opacity="0.5"/>
<line x1="418.9" y1="572.6" x2="443.9" y2="565.6" stroke="#fff" stroke-width="0.6" opacity="0.5"/>
<line x1="417.5" y1="595.5" x2="442.5" y2="588.5" stroke="#fff" stroke-width="0.6" opacity="0.5"/>
<line x1="428.5" y1="597.2" x2="453.5" y2="590.2" stroke="#fff" stroke-width="0.6" opacity="0.5"/>
<line x1="360.9" y1="582.0" x2="385.9" y2="575.0" stroke="#fff" stroke-width="0.6" opacity="0.5"/>
<line x1="366.3" y1="601.5" x2="391.3" y2="594.5" stroke="#fff" stroke-width="0.6" opacity="0.5"/>
<line x1="406.5" y1="573.8" x2="431.5" y2="566.8" stroke="#fff" stroke-width="0.6" opacity="0.5"/>
<line x1="350.8" y1="595.1" x2="375.8" y2="588.1" stroke="#fff" stroke-width="0.6" opacity="0.5"/>
<line x1="352.4" y1="603.0" x2="377.4" y2="596.0" stroke="#fff" stroke-width="0.6" opacity="0.5"/>
<line x1="376.1" y1="578.5" x2="401.1" y2="571.5" stroke="#fff" stroke-width="0.6" opacity="0.5"/>
<line x1="388.9" y1="599.8" x2="413.9" y2="592.8" stroke="#fff" stroke-width="0.6" opacity="0.5"/>
<line x1="371.4" y1="590.6" x2="396.4" y2="583.6" stroke="#fff" stroke-width="0.6" opacity="0.5"/>
<line x1="375.4" y1="587.7" x2="400.4" y2="580.7" stroke="#fff" stroke-width="0.6" opacity="0.5"/>
<line x1="381.7" y1="599.2" x2="406.7" y2="592.2" stroke="#fff" stroke-width="0.6" opacity="0.5"/>
<line x1="339.5" y1="587.2" x2="364.5" y2="580.2" stroke="#fff" stroke-width="0.6" opacity="0.5"/>
<line x1="338.6" y1="585.7" x2="363.6" y2="578.7" stroke="#fff" stroke-width="0.6" opacity="0.5"/>
<line x1="369.4" y1="600.5" x2="394.4" y2="593.5" stroke="#fff" stroke-width="0.6" opacity="0.5"/>
<line x1="408.7" y1="601.2" x2="433.7" y2="594.2" stroke="#fff" stroke-width="0.6" opacity="0.5"/>
<line x1="387.0" y1="575.4" x2="412.0" y2="568.4" stroke="#fff" stroke-width="0.6" opacity="0.5"/>
<line x1="361.3" y1="584.0" x2="386.3" y2="577.0" stroke="#fff" stroke-width="0.6" opacity="0.5"/>
<line x1="388.2" y1="603.1" x2="413.2" y2="596.1" stroke="#fff" stroke-width="0.6" opacity="0.5"/>
<line x1="377.7" y1="591.2" x2="402.7" y2="584.2" stroke="#fff" stroke-width="0.6" opacity="0.5"/>
<line x1="382.3" y1="595.8" x2="407.3" y2="588.8" stroke="#fff" stroke-width="0.6" opacity="0.5"/>
<line x1="395.4" y1="587.9" x2="420.4" y2="580.9" stroke="#fff" stroke-width="0.6" opacity="0.5"/>
<line x1="361.5" y1="594.1" x2="386.5" y2="587.1" stroke="#fff" stroke-width="0.6" opacity="0.5"/>
<defs><linearGradient id="jsr" gradientUnits="userSpaceOnUse" x1="0" y1="486" x2="0" y2="545"><stop offset="0" stop-color="#1a1af6"/><stop offset="0.25" stop-color="#7070f0"/><stop offset="0.5" stop-color="#d8d8fa"/><stop offset="0.62" stop-color="#fbf2f2"/><stop offset="0.8" stop-color="#f6d0d0"/><stop offset="1" stop-color="#f2bcbc"/></linearGradient></defs>
<polygon points="360.0,511.4 361.5,510.9 363.0,511.7 364.5,511.5 366.0,512.4 367.5,512.6 369.0,513.4 370.5,514.0 372.0,514.1 373.6,514.6 375.2,514.9 376.8,516.4 378.4,516.3 380.0,516.9 381.5,516.9 383.0,518.1 384.5,517.4 386.0,518.8 387.3,517.0 388.7,514.9 390.0,514.2 391.2,513.6 392.5,512.2 393.8,511.3 395.0,510.1 396.7,509.6 398.3,508.3 400.0,508.4 401.5,509.5 403.0,509.7 403.6,508.2 404.2,507.5 404.8,505.6 405.4,505.0 406.0,503.2 406.3,501.3 406.7,499.8 407.0,499.3 407.3,497.1 407.7,495.7 408.0,494.2 408.4,492.4 408.8,491.6 409.2,490.3 409.6,487.7 410.0,486.6 410.4,487.6 410.8,490.5 411.2,491.4 411.6,492.9 412.0,493.7 412.3,496.2 412.7,497.5 413.0,498.9 413.3,501.2 413.7,502.6 414.0,504.5 415.0,505.8 416.0,506.7 416.2,509.1 416.5,510.1 416.8,511.1 417.0,512.9 417.7,514.3 418.3,517.1 419.0,518.0 420.0,519.9 421.0,521.7 422.0,523.9 423.3,524.6 424.7,525.6 426.0,525.3 427.3,526.0 428.7,527.3 430.0,528.7 431.5,529.3 433.0,528.8 434.5,530.1 436.0,529.7 437.5,530.5 439.0,530.8 440.5,531.0 442.0,532.0 442.0,533.4 441.7,534.0 441.3,535.4 441.0,538.3 439.5,537.6 437.9,538.6 436.4,537.5 434.9,538.0 433.3,538.7 431.8,538.6 430.2,538.2 428.7,538.5 427.2,539.1 425.7,539.9 424.2,540.0 422.6,539.6 421.1,539.3 419.6,540.2 418.1,540.0 416.6,540.6 415.1,540.9 413.5,541.1 412.0,541.0 410.5,541.0 409.0,541.5 407.5,542.7 406.1,543.3 404.6,542.9 403.1,544.3 401.7,544.8 400.2,544.6 398.7,546.0 397.3,545.6 395.8,546.3 394.3,546.9 392.9,547.3 391.4,547.4 390.0,548.2 388.5,548.9 387.1,549.0 385.6,550.0 384.2,550.6 382.7,550.8 381.2,550.5 379.7,551.1 378.2,550.7 376.7,551.7 375.2,551.0 373.8,551.9 372.3,552.2 370.8,552.3 369.3,552.9 367.8,553.0 366.3,552.1 364.7,552.7 363.1,552.8 361.6,552.7 360.0,552.0" fill="url(#jsr)" />
<defs><linearGradient id="jsf" gradientUnits="userSpaceOnUse" x1="0" y1="476" x2="0" y2="552"><stop offset="0" stop-color="#1616fa"/><stop offset="0.15" stop-color="#3434f6"/><stop offset="0.3" stop-color="#8080f4"/><stop offset="0.45" stop-color="#e4e4fc"/><stop offset="0.52" stop-color="#fdf8f8"/><stop offset="0.65" stop-color="#f8dcdc"/><stop offset="0.85" stop-color="#f4caca"/><stop offset="1" stop-color="#f2c0c0"/></linearGradient></defs>
<polygon points="298.0,495.6 298.6,494.5 299.2,491.7 299.9,490.1 300.5,488.4 301.0,487.0 301.5,485.8 302.0,483.0 302.5,482.6 304.2,480.3 306.0,479.5 307.5,479.0 309.0,476.9 310.5,477.4 312.0,475.8 313.7,475.6 315.3,476.1 317.0,476.6 318.6,478.4 320.3,478.1 321.9,478.1 323.6,479.1 325.2,478.8 326.9,479.1 328.5,477.6 330.1,477.6 331.8,477.6 333.4,478.4 335.1,476.9 336.7,477.3 338.1,479.0 339.5,479.2 340.9,479.6 342.3,479.6 343.7,479.7 345.1,480.3 346.5,481.3 348.1,483.1 349.8,482.8 351.5,484.2 353.1,484.9 354.2,486.0 355.3,486.5 356.4,489.1 357.5,489.4 358.6,490.0 359.7,491.7 360.6,493.9 361.6,493.7 362.5,495.1 363.5,496.7 364.4,498.1 365.4,500.1 366.3,501.6 367.4,503.0 368.5,504.3 369.6,505.7 370.6,506.7 371.7,509.0 372.8,509.8 373.5,511.6 374.3,512.7 375.0,513.2 375.8,514.8 376.5,517.0 377.3,517.9 378.0,518.5 379.5,519.5 381.0,520.2 382.5,521.0 384.0,520.3 385.5,521.0 387.0,522.7 388.5,522.1 390.0,523.0 391.5,524.1 393.1,522.5 394.6,523.4 396.2,522.9 397.7,522.9 399.2,524.1 400.8,523.5 402.3,523.6 403.8,523.9 405.4,525.2 406.9,525.5 408.5,524.1 410.0,525.5 411.5,525.1 413.1,525.3 414.6,527.0 416.2,527.3 417.7,526.6 419.2,526.9 420.8,526.9 422.3,527.2 423.8,528.4 425.4,528.9 426.9,529.1 428.5,530.0 430.0,529.7 431.6,531.3 433.1,530.4 434.7,530.8 436.3,531.5 437.9,532.9 439.4,533.5 441.0,534.0 441.0,534.6 441.0,536.2 441.0,537.8 439.5,538.3 438.0,538.5 436.5,538.3 435.0,539.1 433.5,538.8 432.0,538.8 430.5,539.4 429.0,539.4 427.5,539.7 426.0,539.6 424.5,540.0 423.0,539.8 421.5,539.9 420.0,540.4 418.5,541.2 417.1,541.6 415.6,541.8 414.1,542.5 412.6,542.8 411.2,543.2 409.7,543.2 408.2,543.1 406.8,543.9 405.3,544.3 403.8,544.8 402.4,545.3 400.9,545.2 399.4,545.8 397.9,545.3 396.5,545.8 395.0,547.1 393.5,547.2 392.0,547.6 390.5,547.7 389.0,548.4 387.5,547.7 386.0,548.2 384.5,548.1 383.0,548.7 381.5,548.7 380.0,550.1 378.5,549.9 377.0,550.1 375.5,550.6 374.0,550.2 372.5,550.8 371.0,550.7 369.5,550.2 368.0,551.1 366.5,551.4 365.0,551.4 363.5,551.3 362.0,552.1 360.5,551.9 358.9,551.6 357.4,551.7 355.8,551.8 354.3,551.9 352.7,552.0 351.2,552.4 349.6,552.3 348.1,552.0 346.5,551.6 345.0,551.8 343.5,552.0 341.9,551.8 340.4,551.4 338.8,552.1 337.3,551.9 335.8,552.2 334.2,552.1 332.7,551.5 331.2,552.2 329.6,551.9 328.1,551.6 326.5,551.1 325.0,551.7 323.5,551.4 321.9,551.8 320.4,551.6 318.8,550.4 317.3,551.4 315.8,551.3 314.2,550.6 312.7,549.8 311.2,550.8 309.6,549.5 308.1,550.1 306.5,550.2 305.0,549.4 303.3,548.5 301.7,548.5 300.0,548.1 299.5,546.2 299.0,543.8 298.5,541.9 298.0,540.0" fill="url(#jsf)" />
<defs><linearGradient id="jsl" gradientUnits="userSpaceOnUse" x1="0" y1="497" x2="0" y2="545"><stop offset="0" stop-color="#9898f2"/><stop offset="0.22" stop-color="#ccccf8"/><stop offset="0.42" stop-color="#fdfbfb"/><stop offset="0.62" stop-color="#f8dada"/><stop offset="0.85" stop-color="#f4b8b8"/><stop offset="1" stop-color="#f2a0a0"/></linearGradient></defs>
<polygon points="253.0,513.8 253.8,512.2 254.6,509.8 255.4,509.8 256.2,506.6 257.0,506.0 258.3,505.7 259.7,504.2 261.0,503.8 262.5,503.3 264.0,502.2 265.4,501.8 266.9,502.3 268.4,500.8 269.9,501.5 271.3,501.4 272.8,500.9 274.3,499.8 275.9,500.3 277.6,500.2 279.2,498.8 280.9,499.2 282.5,499.1 284.2,498.3 285.8,496.9 287.3,496.9 288.9,498.0 290.4,497.6 291.9,497.4 293.5,497.0 295.0,496.6 296.7,497.2 298.3,496.3 300.0,497.5 300.0,498.7 300.0,499.8 300.0,500.9 300.0,502.5 300.0,504.2 300.0,505.5 300.0,507.5 300.0,508.8 300.0,510.6 300.0,511.8 300.0,513.6 300.0,515.1 300.0,517.2 300.0,518.3 300.0,519.5 300.0,521.6 300.0,522.5 300.0,524.2 300.0,526.4 300.0,527.0 300.0,529.2 300.0,531.0 298.7,531.3 297.3,533.0 296.0,533.6 295.4,535.5 294.8,536.8 294.2,537.3 293.6,539.1 293.0,540.0 292.4,541.7 291.8,543.6 291.2,544.9 290.6,545.8 290.0,547.7 288.5,547.1 287.0,546.5 286.4,545.4 285.8,543.8 285.2,542.8 284.6,540.7 284.0,539.5 282.5,539.8 281.0,539.6 279.5,540.2 278.0,540.2 276.4,541.3 274.8,541.2 273.2,541.4 271.6,542.0 270.0,541.6 268.4,541.6 266.8,541.4 265.2,541.9 263.6,541.4 262.0,541.7 260.5,541.6 259.0,541.1 257.5,541.1 256.0,541.1 255.0,538.4 254.0,536.7 253.0,535.0" fill="url(#jsl)" />
<polygon points="285.5,532 287.5,532 286.5,549" fill="#f02828"/>
<polygon points="283.5,532 285.5,532 284.5,545" fill="#f02828"/>
<polygon points="288,531 290,531 289,546" fill="#f02828"/>
<polygon points="291,531 293,531 292,540" fill="#f02828"/>
<polygon points="280.5,532 282.5,532 281.5,541" fill="#f02828"/>
<polygon points="293.5,530 295.5,530 294.5,538" fill="#f02828"/>
<polygon points="277,532 279,532 278,538" fill="#f02828"/>
<polygon points="283.0,530.0 297.0,529.0 297.0,534.0 283.0,535.0" fill="#f06060" opacity="0.6"/>
<polyline points="250.5,564 244,470.8 317.6,459.9 444.9,475.8 437.4,575.2" fill="none" stroke="#222" stroke-width="0.9"/>
<polyline points="250.5,564 379.4,610.3 437.4,575.2" fill="none" stroke="#222" stroke-width="0.9"/>
<line x1="317.6" y1="459.9" x2="317.6" y2="478" stroke="#222" stroke-width="0.7"/>
<line x1="243" y1="473" x2="245.5" y2="473" stroke="#222" stroke-width="0.7"/>
<text x="242" y="475.8" font-size="8" fill="#000" text-anchor="end" font-family="Liberation Serif" font-weight="bold" >-0.4</text>
<line x1="243" y1="501" x2="245.5" y2="501" stroke="#222" stroke-width="0.7"/>
<text x="242" y="503.8" font-size="8" fill="#000" text-anchor="end" font-family="Liberation Serif" font-weight="bold" >-0.2</text>
<line x1="243" y1="527.3" x2="245.5" y2="527.3" stroke="#222" stroke-width="0.7"/>
<text x="242" y="530.0999999999999" font-size="8" fill="#000" text-anchor="end" font-family="Liberation Serif" font-weight="bold" >0.0</text>
<line x1="243" y1="553.6" x2="245.5" y2="553.6" stroke="#222" stroke-width="0.7"/>
<text x="242" y="556.4" font-size="8" fill="#000" text-anchor="end" font-family="Liberation Serif" font-weight="bold" >0.2</text>
<text x="225.2" y="468.2" font-size="15" fill="#000" text-anchor="start" font-family="Liberation Serif" font-weight="bold" >j</text>
<text x="221.5" y="515" font-size="9" fill="#000" text-anchor="middle" font-family="Liberation Serif" font-weight="bold" transform="rotate(-90 221.5 515)"><tspan dy="0.00">ΔA (mOD)</tspan></text>
<text x="248.3" y="482" font-size="10.2" font-family="Liberation Serif" font-weight="bold" transform="rotate(-9 248.3 482)">λ = 340 nm</text>
<text x="358" y="483.2" font-size="10.2" fill="#000" text-anchor="start" font-family="Liberation Serif" font-weight="bold" ><tspan dy="0.00">6%-MoS</tspan><tspan dy="2.86" font-size="6.94">2</tspan><tspan dy="-2.86">/Zn</tspan><tspan dy="2.86" font-size="6.94">3</tspan><tspan dy="-2.86">In</tspan><tspan dy="2.86" font-size="6.94">4</tspan><tspan dy="-2.86">S</tspan><tspan dy="2.86" font-size="6.94">9</tspan></text>
<text x="0" y="3.2" font-size="9.2" font-family="Liberation Serif" font-weight="bold" fill="#111" text-anchor="middle" transform="translate(240.6 569.3) rotate(-25) skewX(-12)">400</text>
<text x="0" y="3.2" font-size="9.2" font-family="Liberation Serif" font-weight="bold" fill="#111" text-anchor="middle" transform="translate(259.6 576.5) rotate(-25) skewX(-12)">440</text>
<text x="0" y="3.2" font-size="9.2" font-family="Liberation Serif" font-weight="bold" fill="#111" text-anchor="middle" transform="translate(282.6 584) rotate(-25) skewX(-12)">480</text>
<text x="0" y="3.2" font-size="9.2" font-family="Liberation Serif" font-weight="bold" fill="#111" text-anchor="middle" transform="translate(303 590.6) rotate(-25) skewX(-12)">520</text>
<text x="0" y="3.2" font-size="9.2" font-family="Liberation Serif" font-weight="bold" fill="#111" text-anchor="middle" transform="translate(326.8 598.8) rotate(-25) skewX(-12)">560</text>
<text x="0" y="3.2" font-size="9.2" font-family="Liberation Serif" font-weight="bold" fill="#111" text-anchor="middle" transform="translate(353 610.3) rotate(-45) skewX(-12)">600</text>
<text x="0" y="3.3" font-size="9.8" font-family="Liberation Serif" font-weight="bold" font-style="italic" text-anchor="middle" transform="translate(281.7 603) rotate(22.6) skewX(-15)">Wavelength (nm)</text>
<text x="0" y="3.2" font-size="9.2" font-family="Liberation Serif" font-weight="bold" fill="#111" text-anchor="middle" transform="translate(390 609.9) rotate(10) skewX(-20)">0.1</text>
<text x="0" y="3.2" font-size="9.2" font-family="Liberation Serif" font-weight="bold" fill="#111" text-anchor="middle" transform="translate(400 601.3) rotate(10) skewX(-20)">1</text>
<text x="0" y="3.2" font-size="9.2" font-family="Liberation Serif" font-weight="bold" fill="#111" text-anchor="middle" transform="translate(412.7 595.2) rotate(10) skewX(-20)">10</text>
<text x="0" y="3.2" font-size="9.2" font-family="Liberation Serif" font-weight="bold" fill="#111" text-anchor="middle" transform="translate(424 589.8) rotate(10) skewX(-20)">100</text>
<text x="0" y="3.2" font-size="9.2" font-family="Liberation Serif" font-weight="bold" fill="#111" text-anchor="middle" transform="translate(441.4 585.8) rotate(10) skewX(-20)">1000</text>
<text x="0" y="3.3" font-size="9.6" font-family="Liberation Serif" font-weight="bold" text-anchor="middle" transform="translate(443.4 603.2) rotate(-32)">Delay time (ps)</text>
</svg></body></html>
